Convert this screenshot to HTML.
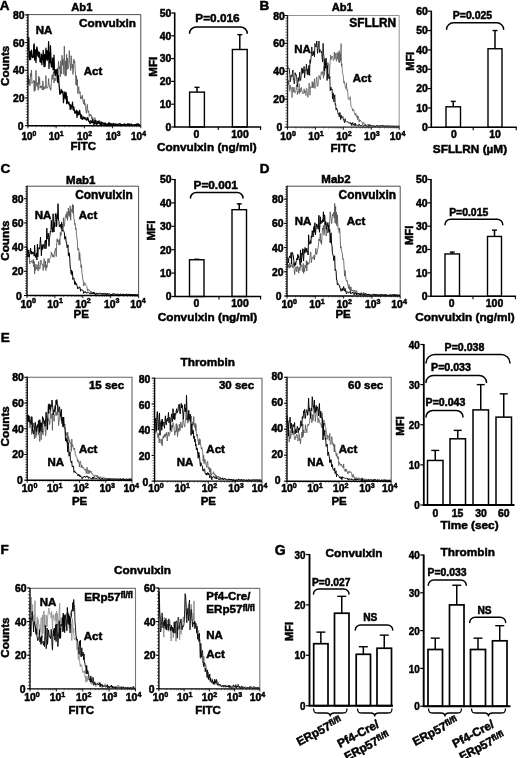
<!DOCTYPE html>
<html><head><meta charset="utf-8"><title>Figure</title>
<style>
html,body{margin:0;padding:0;background:#fff;}
body{width:520px;height:758px;overflow:hidden;font-family:"Liberation Sans",sans-serif;}
svg{display:block;filter:blur(0.35px);}
svg text{font-family:"Liberation Sans",sans-serif;font-weight:bold;fill:#000;stroke:#000;stroke-width:0.5px;}
</style></head><body>
<svg width="520" height="758" viewBox="0 0 520 758">
<rect width="520" height="758" fill="#fff"/>
<text x="-0.20" y="9.80" font-size="13.5" text-anchor="start" >A</text>
<text x="81.80" y="11.00" font-size="11.2" text-anchor="middle" >Ab1</text>
<path d="M27.9,14.6H140.8V125.7" fill="none" stroke="#3a3a3a" stroke-width="0.9"/>
<polyline points="27.9,82.8 28.3,75.7 28.8,84.4 29.2,79.0 29.7,84.9 30.1,85.8 30.6,73.4 31.0,76.6 31.5,70.0 31.9,83.5 32.4,82.2 32.9,82.2 33.3,81.9 33.8,80.3 34.2,91.5 34.6,80.8 35.1,90.6 35.5,84.4 36.0,70.3 36.5,85.1 36.9,86.4 37.4,82.6 37.8,85.2 38.2,90.2 38.7,76.1 39.1,84.1 39.6,77.7 40.0,88.2 40.5,86.2 41.0,87.6 41.4,85.9 41.9,87.8 42.3,90.0 42.8,80.9 43.2,84.9 43.6,90.0 44.1,86.4 44.5,88.5 45.0,88.7 45.5,88.3 45.9,75.6 46.3,84.4 46.8,88.4 47.2,87.5 47.7,87.7 48.1,86.4 48.6,78.5 49.0,84.0 49.5,84.7 50.0,88.7 50.4,87.7 50.8,90.3 51.3,83.4 51.8,77.9 52.2,74.7 52.6,79.3 53.1,74.5 53.5,71.7 54.0,83.0 54.5,78.4 54.9,77.9 55.3,79.1 55.8,80.9 56.2,77.5 56.7,73.0 57.1,74.3 57.6,68.1 58.0,75.7 58.5,61.2 59.0,66.6 59.4,69.1 59.8,66.1 60.3,76.8 60.8,60.6 61.2,70.7 61.6,74.0 62.1,55.3 62.5,65.3 63.0,58.7 63.5,64.9 63.9,74.3 64.3,46.2 64.8,65.8 65.2,76.2 65.7,60.9 66.2,75.6 66.6,54.3 67.0,69.7 67.5,58.0 68.0,67.9 68.4,68.7 68.8,65.5 69.3,50.6 69.8,63.0 70.2,63.6 70.7,70.6 71.1,55.7 71.5,59.4 72.0,68.4 72.5,64.4 72.9,74.4 73.3,71.1 73.8,59.0 74.2,63.2 74.7,61.1 75.2,69.5 75.6,77.8 76.0,85.0 76.5,75.7 77.0,85.8 77.4,79.6 77.8,93.7 78.3,87.5 78.8,86.7 79.2,92.8 79.7,93.5 80.1,91.7 80.5,98.6 81.0,96.5 81.5,99.1 81.9,98.5 82.3,95.1 82.8,99.9 83.2,102.2 83.7,104.1 84.2,99.2 84.6,105.0 85.0,103.3 85.5,107.0 86.0,111.4 86.4,113.3 86.8,109.2 87.3,104.4 87.8,110.8 88.2,112.4 88.7,110.8 89.1,116.2 89.5,116.5 90.0,114.1 90.5,116.0 90.9,114.7 91.3,115.4 91.8,119.1 92.2,116.7 92.7,117.2 93.2,120.1 93.6,120.4 94.1,122.6 94.5,119.6 94.9,117.6 95.4,122.9 95.8,121.3 96.3,120.2 96.8,122.0 97.2,123.2 97.7,122.0 98.1,121.4 98.6,122.1 99.0,122.9 99.4,120.4 99.9,123.9 100.3,122.6 100.8,121.4 101.2,123.1 101.7,122.7 102.2,121.9 102.6,123.9 103.1,124.1 103.5,123.8 103.9,123.0 104.4,123.4 104.8,122.4 105.3,124.3 105.8,124.1 106.2,124.0 106.7,124.0 107.1,125.0 107.6,123.2 108.0,124.1 108.4,124.3 108.9,122.6 109.3,124.5 109.8,123.6 110.2,123.7 110.7,124.7 111.2,124.1 111.6,124.0 112.1,124.4 112.5,124.2 112.9,123.9 113.4,124.9 113.8,123.8 114.3,123.9 114.8,124.0 115.2,125.1 115.7,124.6 116.1,124.9 116.6,124.6 117.0,125.0 117.4,125.1 117.9,124.5 118.3,125.0 118.8,124.4 119.2,125.0 119.7,124.4 120.2,123.0 120.6,124.7 121.1,124.0 121.5,124.5 121.9,125.2 122.4,124.9 122.8,124.5 123.3,124.1 123.8,124.3 124.2,124.4 124.7,124.9 125.1,125.0 125.6,124.2 126.0,124.6 126.4,124.6 126.9,124.5 127.3,123.7 127.8,124.8 128.2,124.3 128.7,124.9 129.2,125.3 129.6,124.7 130.1,124.1 130.5,124.7 130.9,125.4 131.4,124.6 131.8,124.0 132.3,124.2 132.8,125.3 133.2,125.1 133.7,125.1 134.1,124.0 134.6,124.9 135.0,124.8 135.4,125.4 135.9,124.1 136.3,125.4 136.8,124.8 137.2,125.3 137.7,124.7 138.2,125.2 138.6,124.3 139.1,124.2 139.5,125.1 139.9,125.3 140.4,125.1" fill="none" stroke="#4e4e4e" stroke-width="0.8" stroke-linejoin="round"/>
<polyline points="27.9,50.3 28.3,42.0 28.8,37.4 29.2,57.1 29.7,59.7 30.1,51.6 30.6,59.5 31.0,52.3 31.5,50.1 31.9,55.5 32.4,57.6 32.9,56.9 33.3,57.1 33.8,45.0 34.2,43.8 34.6,60.1 35.1,51.5 35.5,49.9 36.0,62.6 36.5,50.2 36.9,46.9 37.4,50.0 37.8,55.9 38.2,51.5 38.7,57.2 39.1,53.2 39.6,52.4 40.0,61.7 40.5,58.6 41.0,62.5 41.4,54.1 41.9,64.8 42.3,55.9 42.8,59.5 43.2,50.4 43.6,61.5 44.1,66.7 44.5,54.4 45.0,66.4 45.5,59.6 45.9,48.1 46.3,58.9 46.8,50.7 47.2,60.5 47.7,50.9 48.1,59.0 48.6,41.7 49.0,68.5 49.5,52.6 50.0,62.7 50.4,45.6 50.8,53.5 51.3,66.5 51.8,67.1 52.2,66.7 52.6,58.1 53.1,69.8 53.5,67.5 54.0,55.1 54.5,72.1 54.9,73.7 55.3,75.7 55.8,69.7 56.2,73.6 56.7,73.3 57.1,69.3 57.6,82.3 58.0,78.9 58.5,75.5 59.0,83.8 59.4,88.3 59.8,94.2 60.3,93.8 60.8,92.5 61.2,89.3 61.6,91.1 62.1,92.9 62.5,91.2 63.0,91.8 63.5,102.7 63.9,95.2 64.3,95.0 64.8,91.9 65.2,98.7 65.7,98.3 66.2,92.7 66.6,103.6 67.0,96.4 67.5,102.9 68.0,102.7 68.4,103.9 68.8,101.8 69.3,104.6 69.8,104.4 70.2,109.4 70.7,104.9 71.1,108.9 71.5,105.9 72.0,106.7 72.5,102.2 72.9,108.2 73.3,110.0 73.8,106.8 74.2,109.6 74.7,112.4 75.2,113.4 75.6,111.9 76.0,111.2 76.5,110.2 77.0,117.5 77.4,111.5 77.8,111.2 78.3,114.8 78.8,114.5 79.2,113.0 79.7,110.4 80.1,113.3 80.5,116.4 81.0,118.5 81.5,114.8 81.9,116.1 82.3,119.4 82.8,119.1 83.2,118.0 83.7,116.9 84.2,118.7 84.6,117.6 85.0,119.2 85.5,118.6 86.0,117.8 86.4,120.1 86.8,120.0 87.3,119.9 87.8,117.5 88.2,119.1 88.7,121.1 89.1,121.8 89.5,121.5 90.0,123.5 90.5,123.0 90.9,120.4 91.3,122.3 91.8,121.6 92.2,122.8 92.7,119.4 93.2,121.8 93.6,123.1 94.1,124.7 94.5,123.1 94.9,121.0 95.4,120.5 95.8,123.6 96.3,123.9 96.8,124.5 97.2,121.5 97.7,121.9 98.1,123.5 98.6,121.2 99.0,123.2 99.4,122.6 99.9,123.1 100.3,125.2 100.8,123.1 101.2,122.0 101.7,124.7 102.2,123.7 102.6,123.0 103.1,123.6 103.5,123.1 103.9,124.7 104.4,125.4 104.8,123.6 105.3,123.2 105.8,125.4 106.2,124.0 106.7,125.4 107.1,124.7 107.6,124.7 108.0,124.0 108.4,124.4 108.9,122.6 109.3,124.7 109.8,123.3 110.2,125.0 110.7,123.6 111.2,124.2 111.6,123.8 112.1,124.6 112.5,125.3 112.9,124.8 113.4,123.3 113.8,124.6 114.3,125.0 114.8,124.3 115.2,124.0 115.7,124.5 116.1,123.9 116.6,125.3 117.0,125.0 117.4,124.4 117.9,124.7 118.3,124.3 118.8,123.9 119.2,123.7 119.7,124.0 120.2,124.0 120.6,125.0 121.1,124.5 121.5,124.6 121.9,124.7 122.4,124.7 122.8,124.6 123.3,124.7 123.8,125.4 124.2,124.7 124.7,123.9 125.1,124.0 125.6,125.4 126.0,125.1 126.4,125.2 126.9,124.5 127.3,124.6 127.8,123.8 128.2,125.1 128.7,123.8 129.2,123.9 129.6,125.0 130.1,125.2 130.5,124.8 130.9,124.0 131.4,124.0 131.8,125.4 132.3,125.4 132.8,125.4 133.2,124.9 133.7,125.3 134.1,125.1 134.6,125.4 135.0,124.8 135.4,124.6 135.9,125.2 136.3,124.0 136.8,125.4 137.2,124.2 137.7,125.1 138.2,123.7 138.6,125.2 139.1,124.8 139.5,124.9 139.9,125.4 140.4,125.4" fill="none" stroke="#000" stroke-width="1.25" stroke-linejoin="round"/>
<path d="M27.9,14.1V125.7H140.8" fill="none" stroke="#000" stroke-width="1.35"/>
<line x1="24.9" x2="27.9" y1="125.70" y2="125.70" stroke="#000" stroke-width="1"/>
<text x="23.50" y="129.70" font-size="10.4" text-anchor="end" >0</text>
<line x1="24.9" x2="27.9" y1="98.00" y2="98.00" stroke="#000" stroke-width="1"/>
<text x="24.50" y="102.00" font-size="10.4" text-anchor="end" >20</text>
<line x1="24.9" x2="27.9" y1="70.30" y2="70.30" stroke="#000" stroke-width="1"/>
<text x="24.50" y="74.30" font-size="10.4" text-anchor="end" >40</text>
<line x1="24.9" x2="27.9" y1="42.60" y2="42.60" stroke="#000" stroke-width="1"/>
<text x="24.50" y="46.60" font-size="10.4" text-anchor="end" >60</text>
<line x1="24.9" x2="27.9" y1="14.90" y2="14.90" stroke="#000" stroke-width="1"/>
<text x="24.50" y="18.90" font-size="10.4" text-anchor="end" >80</text>
<line x1="25.9" x2="27.9" y1="125.70" y2="125.70" stroke="#000" stroke-width="0.6"/>
<line x1="25.9" x2="27.9" y1="122.93" y2="122.93" stroke="#000" stroke-width="0.6"/>
<line x1="25.9" x2="27.9" y1="120.16" y2="120.16" stroke="#000" stroke-width="0.6"/>
<line x1="25.9" x2="27.9" y1="117.39" y2="117.39" stroke="#000" stroke-width="0.6"/>
<line x1="25.9" x2="27.9" y1="114.62" y2="114.62" stroke="#000" stroke-width="0.6"/>
<line x1="25.9" x2="27.9" y1="111.85" y2="111.85" stroke="#000" stroke-width="0.6"/>
<line x1="25.9" x2="27.9" y1="109.08" y2="109.08" stroke="#000" stroke-width="0.6"/>
<line x1="25.9" x2="27.9" y1="106.31" y2="106.31" stroke="#000" stroke-width="0.6"/>
<line x1="25.9" x2="27.9" y1="103.54" y2="103.54" stroke="#000" stroke-width="0.6"/>
<line x1="25.9" x2="27.9" y1="100.77" y2="100.77" stroke="#000" stroke-width="0.6"/>
<line x1="25.9" x2="27.9" y1="98.00" y2="98.00" stroke="#000" stroke-width="0.6"/>
<line x1="25.9" x2="27.9" y1="95.23" y2="95.23" stroke="#000" stroke-width="0.6"/>
<line x1="25.9" x2="27.9" y1="92.46" y2="92.46" stroke="#000" stroke-width="0.6"/>
<line x1="25.9" x2="27.9" y1="89.69" y2="89.69" stroke="#000" stroke-width="0.6"/>
<line x1="25.9" x2="27.9" y1="86.92" y2="86.92" stroke="#000" stroke-width="0.6"/>
<line x1="25.9" x2="27.9" y1="84.15" y2="84.15" stroke="#000" stroke-width="0.6"/>
<line x1="25.9" x2="27.9" y1="81.38" y2="81.38" stroke="#000" stroke-width="0.6"/>
<line x1="25.9" x2="27.9" y1="78.61" y2="78.61" stroke="#000" stroke-width="0.6"/>
<line x1="25.9" x2="27.9" y1="75.84" y2="75.84" stroke="#000" stroke-width="0.6"/>
<line x1="25.9" x2="27.9" y1="73.07" y2="73.07" stroke="#000" stroke-width="0.6"/>
<line x1="25.9" x2="27.9" y1="70.30" y2="70.30" stroke="#000" stroke-width="0.6"/>
<line x1="25.9" x2="27.9" y1="67.53" y2="67.53" stroke="#000" stroke-width="0.6"/>
<line x1="25.9" x2="27.9" y1="64.76" y2="64.76" stroke="#000" stroke-width="0.6"/>
<line x1="25.9" x2="27.9" y1="61.99" y2="61.99" stroke="#000" stroke-width="0.6"/>
<line x1="25.9" x2="27.9" y1="59.22" y2="59.22" stroke="#000" stroke-width="0.6"/>
<line x1="25.9" x2="27.9" y1="56.45" y2="56.45" stroke="#000" stroke-width="0.6"/>
<line x1="25.9" x2="27.9" y1="53.68" y2="53.68" stroke="#000" stroke-width="0.6"/>
<line x1="25.9" x2="27.9" y1="50.91" y2="50.91" stroke="#000" stroke-width="0.6"/>
<line x1="25.9" x2="27.9" y1="48.14" y2="48.14" stroke="#000" stroke-width="0.6"/>
<line x1="25.9" x2="27.9" y1="45.37" y2="45.37" stroke="#000" stroke-width="0.6"/>
<line x1="25.9" x2="27.9" y1="42.60" y2="42.60" stroke="#000" stroke-width="0.6"/>
<line x1="25.9" x2="27.9" y1="39.83" y2="39.83" stroke="#000" stroke-width="0.6"/>
<line x1="25.9" x2="27.9" y1="37.06" y2="37.06" stroke="#000" stroke-width="0.6"/>
<line x1="25.9" x2="27.9" y1="34.29" y2="34.29" stroke="#000" stroke-width="0.6"/>
<line x1="25.9" x2="27.9" y1="31.52" y2="31.52" stroke="#000" stroke-width="0.6"/>
<line x1="25.9" x2="27.9" y1="28.75" y2="28.75" stroke="#000" stroke-width="0.6"/>
<line x1="25.9" x2="27.9" y1="25.98" y2="25.98" stroke="#000" stroke-width="0.6"/>
<line x1="25.9" x2="27.9" y1="23.21" y2="23.21" stroke="#000" stroke-width="0.6"/>
<line x1="25.9" x2="27.9" y1="20.44" y2="20.44" stroke="#000" stroke-width="0.6"/>
<line x1="25.9" x2="27.9" y1="17.67" y2="17.67" stroke="#000" stroke-width="0.6"/>
<line x1="25.9" x2="27.9" y1="14.90" y2="14.90" stroke="#000" stroke-width="0.6"/>
<line x1="27.90" x2="27.90" y1="125.7" y2="128.3" stroke="#000" stroke-width="0.9"/>
<text x="28.90" y="139.80" font-size="10" text-anchor="middle">10<tspan dy="-4.0" font-size="6.8">0</tspan></text>
<line x1="36.40" x2="36.40" y1="125.7" y2="127.2" stroke="#000" stroke-width="0.45"/>
<line x1="41.37" x2="41.37" y1="125.7" y2="127.2" stroke="#000" stroke-width="0.45"/>
<line x1="44.89" x2="44.89" y1="125.7" y2="127.2" stroke="#000" stroke-width="0.45"/>
<line x1="47.63" x2="47.63" y1="125.7" y2="127.2" stroke="#000" stroke-width="0.45"/>
<line x1="49.86" x2="49.86" y1="125.7" y2="127.2" stroke="#000" stroke-width="0.45"/>
<line x1="51.75" x2="51.75" y1="125.7" y2="127.2" stroke="#000" stroke-width="0.45"/>
<line x1="53.39" x2="53.39" y1="125.7" y2="127.2" stroke="#000" stroke-width="0.45"/>
<line x1="54.83" x2="54.83" y1="125.7" y2="127.2" stroke="#000" stroke-width="0.45"/>
<line x1="56.12" x2="56.12" y1="125.7" y2="128.3" stroke="#000" stroke-width="0.9"/>
<text x="56.12" y="139.80" font-size="10" text-anchor="middle">10<tspan dy="-4.0" font-size="6.8">1</tspan></text>
<line x1="64.62" x2="64.62" y1="125.7" y2="127.2" stroke="#000" stroke-width="0.45"/>
<line x1="69.59" x2="69.59" y1="125.7" y2="127.2" stroke="#000" stroke-width="0.45"/>
<line x1="73.12" x2="73.12" y1="125.7" y2="127.2" stroke="#000" stroke-width="0.45"/>
<line x1="75.85" x2="75.85" y1="125.7" y2="127.2" stroke="#000" stroke-width="0.45"/>
<line x1="78.09" x2="78.09" y1="125.7" y2="127.2" stroke="#000" stroke-width="0.45"/>
<line x1="79.98" x2="79.98" y1="125.7" y2="127.2" stroke="#000" stroke-width="0.45"/>
<line x1="81.61" x2="81.61" y1="125.7" y2="127.2" stroke="#000" stroke-width="0.45"/>
<line x1="83.06" x2="83.06" y1="125.7" y2="127.2" stroke="#000" stroke-width="0.45"/>
<line x1="84.35" x2="84.35" y1="125.7" y2="128.3" stroke="#000" stroke-width="0.9"/>
<text x="84.55" y="139.80" font-size="10" text-anchor="middle">10<tspan dy="-4.0" font-size="6.8">2</tspan></text>
<line x1="92.85" x2="92.85" y1="125.7" y2="127.2" stroke="#000" stroke-width="0.45"/>
<line x1="97.82" x2="97.82" y1="125.7" y2="127.2" stroke="#000" stroke-width="0.45"/>
<line x1="101.34" x2="101.34" y1="125.7" y2="127.2" stroke="#000" stroke-width="0.45"/>
<line x1="104.08" x2="104.08" y1="125.7" y2="127.2" stroke="#000" stroke-width="0.45"/>
<line x1="106.31" x2="106.31" y1="125.7" y2="127.2" stroke="#000" stroke-width="0.45"/>
<line x1="108.20" x2="108.20" y1="125.7" y2="127.2" stroke="#000" stroke-width="0.45"/>
<line x1="109.84" x2="109.84" y1="125.7" y2="127.2" stroke="#000" stroke-width="0.45"/>
<line x1="111.28" x2="111.28" y1="125.7" y2="127.2" stroke="#000" stroke-width="0.45"/>
<line x1="112.58" x2="112.58" y1="125.7" y2="128.3" stroke="#000" stroke-width="0.9"/>
<text x="113.18" y="139.80" font-size="10" text-anchor="middle">10<tspan dy="-4.0" font-size="6.8">3</tspan></text>
<line x1="121.07" x2="121.07" y1="125.7" y2="127.2" stroke="#000" stroke-width="0.45"/>
<line x1="126.04" x2="126.04" y1="125.7" y2="127.2" stroke="#000" stroke-width="0.45"/>
<line x1="129.57" x2="129.57" y1="125.7" y2="127.2" stroke="#000" stroke-width="0.45"/>
<line x1="132.30" x2="132.30" y1="125.7" y2="127.2" stroke="#000" stroke-width="0.45"/>
<line x1="134.54" x2="134.54" y1="125.7" y2="127.2" stroke="#000" stroke-width="0.45"/>
<line x1="136.43" x2="136.43" y1="125.7" y2="127.2" stroke="#000" stroke-width="0.45"/>
<line x1="138.06" x2="138.06" y1="125.7" y2="127.2" stroke="#000" stroke-width="0.45"/>
<line x1="139.51" x2="139.51" y1="125.7" y2="127.2" stroke="#000" stroke-width="0.45"/>
<line x1="140.80" x2="140.80" y1="125.7" y2="128.3" stroke="#000" stroke-width="0.9"/>
<text x="138.50" y="139.80" font-size="10" text-anchor="middle">10<tspan dy="-4.0" font-size="6.8">4</tspan></text>
<text x="83.35" y="150.30" font-size="11.5" text-anchor="middle" >FITC</text>
<text transform="translate(8.60,65.80) rotate(-90)" font-size="11.7" text-anchor="middle">Counts</text>
<text x="107.50" y="27.00" font-size="11.8" text-anchor="middle" >Convulxin</text>
<text x="44.00" y="34.30" font-size="11.5" text-anchor="middle" >NA</text>
<text x="93.00" y="74.50" font-size="11.5" text-anchor="middle" >Act</text>
<line x1="197.00" x2="197.00" y1="92.12" y2="87.33" stroke="#000" stroke-width="1.5"/>
<line x1="194.50" x2="199.50" y1="87.33" y2="87.33" stroke="#000" stroke-width="1.4"/>
<rect x="189.60" y="92.12" width="14.80" height="34.88" fill="#fff" stroke="#000" stroke-width="1.4"/>
<line x1="239.80" x2="239.80" y1="49.48" y2="34.66" stroke="#000" stroke-width="1.5"/>
<line x1="237.30" x2="242.30" y1="34.66" y2="34.66" stroke="#000" stroke-width="1.4"/>
<rect x="232.40" y="49.48" width="14.80" height="77.52" fill="#fff" stroke="#000" stroke-width="1.4"/>
<path d="M174.7,12.5V127H261.2" fill="none" stroke="#000" stroke-width="1.6"/>
<line x1="171.2" x2="174.7" y1="127.00" y2="127.00" stroke="#000" stroke-width="1.2"/>
<text x="171.20" y="130.80" font-size="10.4" text-anchor="end" >0</text>
<line x1="171.2" x2="174.7" y1="104.20" y2="104.20" stroke="#000" stroke-width="1.2"/>
<text x="171.20" y="108.00" font-size="10.4" text-anchor="end" >10</text>
<line x1="171.2" x2="174.7" y1="81.40" y2="81.40" stroke="#000" stroke-width="1.2"/>
<text x="171.20" y="85.20" font-size="10.4" text-anchor="end" >20</text>
<line x1="171.2" x2="174.7" y1="58.60" y2="58.60" stroke="#000" stroke-width="1.2"/>
<text x="171.20" y="62.40" font-size="10.4" text-anchor="end" >30</text>
<line x1="171.2" x2="174.7" y1="35.80" y2="35.80" stroke="#000" stroke-width="1.2"/>
<text x="171.20" y="39.60" font-size="10.4" text-anchor="end" >40</text>
<line x1="171.2" x2="174.7" y1="13.00" y2="13.00" stroke="#000" stroke-width="1.2"/>
<text x="171.20" y="16.80" font-size="10.4" text-anchor="end" >50</text>
<line x1="218.30" x2="218.30" y1="127" y2="130" stroke="#000" stroke-width="1.1"/>
<line x1="260.60" x2="260.60" y1="127" y2="130" stroke="#000" stroke-width="1.1"/>
<text transform="translate(156.80,66.70) rotate(-90)" font-size="11.6" text-anchor="middle">MFI</text>
<path d="M189.60,33.30 C189.60,29.83 192.58,27.00 196.22,27.00 H240.58 C244.22,27.00 247.20,29.83 247.20,33.30" fill="none" stroke="#000" stroke-width="1.5" stroke-linecap="round"/>
<text x="217.50" y="22.30" font-size="11.8" text-anchor="middle" >P=0.016</text>
<text x="196.50" y="138.20" font-size="10.4" text-anchor="middle" >0</text>
<text x="240.00" y="138.20" font-size="10.4" text-anchor="middle" >100</text>
<text x="206.90" y="151.10" font-size="11.8" text-anchor="middle" >Convulxin (ng/ml)</text>
<text x="259.60" y="9.60" font-size="13.5" text-anchor="start" >B</text>
<text x="342.20" y="11.00" font-size="11.2" text-anchor="middle" >Ab1</text>
<path d="M287.5,15.5H399.2V127.1" fill="none" stroke="#888" stroke-width="0.9"/>
<polyline points="287.5,82.0 287.9,80.5 288.4,84.7 288.9,80.3 289.3,90.0 289.8,91.3 290.2,85.0 290.6,88.9 291.1,87.2 291.6,90.9 292.0,97.7 292.4,92.6 292.9,87.0 293.4,92.1 293.8,89.2 294.2,87.3 294.7,92.5 295.1,93.1 295.6,90.7 296.1,90.3 296.5,84.9 296.9,86.4 297.4,94.7 297.9,91.3 298.3,92.9 298.8,88.8 299.2,83.7 299.6,93.8 300.1,88.4 300.6,92.0 301.0,90.8 301.4,87.3 301.9,91.6 302.4,91.5 302.8,94.0 303.2,93.2 303.7,93.1 304.1,88.8 304.6,93.1 305.1,90.7 305.5,91.0 305.9,95.5 306.4,88.2 306.9,88.5 307.3,92.6 307.8,97.4 308.2,94.9 308.6,90.5 309.1,83.0 309.6,87.7 310.0,95.3 310.4,86.5 310.9,87.8 311.4,87.7 311.8,86.7 312.2,81.5 312.7,87.9 313.1,82.4 313.6,87.6 314.1,84.4 314.5,78.7 314.9,88.6 315.4,87.4 315.9,86.0 316.3,79.1 316.8,77.0 317.2,81.9 317.6,86.4 318.1,84.2 318.6,80.5 319.0,75.4 319.4,77.7 319.9,76.9 320.4,79.8 320.8,76.1 321.2,72.5 321.7,71.7 322.1,74.4 322.6,71.6 323.1,74.9 323.5,78.3 323.9,66.7 324.4,75.3 324.9,70.1 325.3,66.4 325.8,62.3 326.2,68.5 326.6,65.9 327.1,63.1 327.6,67.9 328.0,62.6 328.4,64.6 328.9,64.3 329.4,75.1 329.8,67.7 330.2,61.6 330.7,55.1 331.1,59.6 331.6,56.5 332.1,56.0 332.5,56.5 332.9,58.7 333.4,60.6 333.9,59.9 334.3,52.0 334.8,58.8 335.2,53.2 335.6,55.4 336.1,59.9 336.6,61.3 337.0,52.8 337.4,59.3 337.9,52.3 338.4,52.7 338.8,62.2 339.2,50.7 339.7,63.0 340.1,53.2 340.6,61.2 341.1,43.6 341.5,66.2 341.9,63.7 342.4,72.2 342.9,73.9 343.3,76.5 343.8,82.9 344.2,81.0 344.6,84.7 345.1,85.3 345.6,88.6 346.0,88.0 346.4,82.8 346.9,90.2 347.4,89.3 347.8,92.1 348.2,98.7 348.7,99.7 349.1,99.1 349.6,99.3 350.1,96.7 350.5,98.8 350.9,106.3 351.4,106.7 351.9,107.8 352.3,108.7 352.8,111.1 353.2,109.1 353.6,110.1 354.1,111.1 354.6,113.7 355.0,114.9 355.4,115.3 355.9,113.1 356.4,116.5 356.8,117.4 357.2,115.5 357.7,119.7 358.1,116.0 358.6,118.1 359.1,122.1 359.5,119.6 359.9,121.2 360.4,120.1 360.9,121.0 361.3,121.7 361.8,122.1 362.2,122.1 362.6,124.8 363.1,123.6 363.6,122.1 364.0,122.6 364.4,124.5 364.9,125.4 365.4,123.9 365.8,124.8 366.2,125.5 366.7,124.8 367.1,125.1 367.6,124.7 368.1,124.0 368.5,125.6 368.9,124.4 369.4,125.7 369.9,126.5 370.3,124.5 370.8,125.0 371.2,125.6 371.6,125.7 372.1,126.5 372.6,126.8 373.0,126.0 373.4,126.6 373.9,126.0 374.4,125.9 374.8,125.6 375.2,126.7 375.7,126.0 376.1,125.2 376.6,125.7 377.1,126.0 377.5,126.1 377.9,126.8 378.4,126.0 378.9,125.8 379.3,125.3 379.8,125.8 380.2,126.6 380.6,126.3 381.1,125.5 381.6,126.0 382.0,125.9 382.4,125.7 382.9,126.7 383.4,125.9 383.8,126.3 384.2,126.5 384.7,125.8 385.1,125.6 385.6,126.1 386.1,126.0 386.5,126.5 386.9,126.0 387.4,126.6 387.9,126.4 388.3,126.3 388.8,125.8 389.2,125.8 389.6,126.2 390.1,125.7 390.6,125.9 391.0,125.9 391.4,126.4 391.9,126.0 392.4,125.8 392.8,126.0 393.2,125.5 393.7,126.3 394.1,125.9 394.6,126.3 395.1,126.6 395.5,126.2 395.9,126.2 396.4,126.6 396.9,126.0 397.3,126.6 397.8,126.6 398.2,126.2 398.6,126.8 399.1,125.5" fill="none" stroke="#4e4e4e" stroke-width="0.7" stroke-linejoin="round"/>
<polyline points="287.5,64.3 287.9,68.6 288.4,68.1 288.9,68.1 289.3,68.8 289.8,74.5 290.2,81.8 290.6,80.2 291.1,75.1 291.6,76.6 292.0,76.8 292.4,73.7 292.9,70.0 293.4,80.1 293.8,79.7 294.2,83.8 294.7,81.6 295.1,72.7 295.6,75.1 296.1,74.5 296.5,76.2 296.9,80.0 297.4,86.8 297.9,81.7 298.3,77.6 298.8,81.4 299.2,80.3 299.6,72.3 300.1,79.2 300.6,80.5 301.0,77.8 301.4,70.3 301.9,67.9 302.4,73.7 302.8,68.9 303.2,72.5 303.7,72.5 304.1,66.4 304.6,77.9 305.1,71.4 305.5,69.9 305.9,70.5 306.4,64.2 306.9,71.0 307.3,74.4 307.8,68.9 308.2,75.1 308.6,66.1 309.1,65.2 309.6,75.4 310.0,59.8 310.4,63.3 310.9,59.0 311.4,54.4 311.8,46.9 312.2,54.8 312.7,56.0 313.1,51.7 313.6,54.8 314.1,50.8 314.5,56.9 314.9,43.4 315.4,44.4 315.9,47.1 316.3,45.4 316.8,41.0 317.2,48.5 317.6,53.4 318.1,47.5 318.6,45.2 319.0,41.1 319.4,52.5 319.9,49.4 320.4,50.5 320.8,50.8 321.2,52.7 321.7,51.3 322.1,58.1 322.6,61.9 323.1,43.3 323.5,53.6 323.9,56.3 324.4,71.0 324.9,58.7 325.3,68.2 325.8,59.6 326.2,58.1 326.6,61.8 327.1,80.5 327.6,65.7 328.0,78.5 328.4,74.3 328.9,74.8 329.4,78.8 329.8,76.4 330.2,90.6 330.7,88.0 331.1,87.2 331.6,90.1 332.1,89.1 332.5,99.0 332.9,93.1 333.4,93.1 333.9,101.8 334.3,97.7 334.8,94.8 335.2,104.5 335.6,103.7 336.1,110.1 336.6,108.2 337.0,109.2 337.4,109.8 337.9,112.8 338.4,114.2 338.8,113.1 339.2,116.8 339.7,112.6 340.1,112.5 340.6,119.5 341.1,115.0 341.5,118.1 341.9,118.0 342.4,117.3 342.9,116.5 343.3,119.9 343.8,119.5 344.2,121.8 344.6,122.7 345.1,118.7 345.6,121.2 346.0,121.4 346.4,121.9 346.9,122.0 347.4,121.5 347.8,121.9 348.2,123.0 348.7,122.7 349.1,122.9 349.6,123.2 350.1,122.5 350.5,123.9 350.9,122.8 351.4,125.5 351.9,123.0 352.3,124.3 352.8,122.5 353.2,125.5 353.6,124.6 354.1,124.4 354.6,123.6 355.0,126.1 355.4,123.3 355.9,125.2 356.4,124.7 356.8,125.5 357.2,125.5 357.7,125.6 358.1,126.2 358.6,126.0 359.1,123.9 359.5,125.2 359.9,125.0 360.4,125.9 360.9,126.1 361.3,125.3 361.8,126.1 362.2,125.7 362.6,125.9 363.1,126.4 363.6,125.6 364.0,125.9 364.4,125.4 364.9,126.3 365.4,126.0 365.8,125.3 366.2,125.6 366.7,126.3 367.1,126.1 367.6,125.9 368.1,126.8 368.5,125.9 368.9,125.1 369.4,124.8 369.9,126.0 370.3,125.7 370.8,126.2 371.2,125.6 371.6,125.7 372.1,125.5 372.6,125.7 373.0,126.3 373.4,125.8 373.9,125.8 374.4,125.8 374.8,126.8 375.2,126.3 375.7,126.6 376.1,126.2 376.6,125.9 377.1,125.0 377.5,125.5 377.9,125.9 378.4,126.0 378.9,126.8 379.3,126.1 379.8,125.7 380.2,125.6 380.6,125.7 381.1,125.7 381.6,126.3 382.0,125.6 382.4,126.0 382.9,125.1 383.4,126.0 383.8,126.4 384.2,126.1 384.7,125.7 385.1,126.1 385.6,126.4 386.1,126.8 386.5,125.5 386.9,125.9 387.4,125.8 387.9,126.1 388.3,126.0 388.8,125.8 389.2,125.7 389.6,126.7 390.1,126.6 390.6,126.1 391.0,126.4 391.4,126.2 391.9,126.1 392.4,126.0 392.8,126.6 393.2,126.3 393.7,126.7 394.1,126.5 394.6,126.3 395.1,126.2 395.5,126.3 395.9,126.1 396.4,126.0 396.9,126.1 397.3,126.4 397.8,126.0 398.2,126.4 398.6,125.7 399.1,126.4" fill="none" stroke="#000" stroke-width="0.85" stroke-linejoin="round"/>
<path d="M287.5,15.0V127.1H399.2" fill="none" stroke="#222" stroke-width="1.35"/>
<line x1="284.5" x2="287.5" y1="127.10" y2="127.10" stroke="#000" stroke-width="1"/>
<text x="282.20" y="131.10" font-size="10.4" text-anchor="end" >0</text>
<line x1="284.5" x2="287.5" y1="99.20" y2="99.20" stroke="#000" stroke-width="1"/>
<text x="284.80" y="103.20" font-size="10.4" text-anchor="end" >20</text>
<line x1="284.5" x2="287.5" y1="71.30" y2="71.30" stroke="#000" stroke-width="1"/>
<text x="284.80" y="75.30" font-size="10.4" text-anchor="end" >40</text>
<line x1="284.5" x2="287.5" y1="43.40" y2="43.40" stroke="#000" stroke-width="1"/>
<text x="284.80" y="47.40" font-size="10.4" text-anchor="end" >60</text>
<line x1="284.5" x2="287.5" y1="15.50" y2="15.50" stroke="#000" stroke-width="1"/>
<text x="284.80" y="19.50" font-size="10.4" text-anchor="end" >80</text>
<line x1="285.5" x2="287.5" y1="127.10" y2="127.10" stroke="#000" stroke-width="0.6"/>
<line x1="285.5" x2="287.5" y1="124.31" y2="124.31" stroke="#000" stroke-width="0.6"/>
<line x1="285.5" x2="287.5" y1="121.52" y2="121.52" stroke="#000" stroke-width="0.6"/>
<line x1="285.5" x2="287.5" y1="118.73" y2="118.73" stroke="#000" stroke-width="0.6"/>
<line x1="285.5" x2="287.5" y1="115.94" y2="115.94" stroke="#000" stroke-width="0.6"/>
<line x1="285.5" x2="287.5" y1="113.15" y2="113.15" stroke="#000" stroke-width="0.6"/>
<line x1="285.5" x2="287.5" y1="110.36" y2="110.36" stroke="#000" stroke-width="0.6"/>
<line x1="285.5" x2="287.5" y1="107.57" y2="107.57" stroke="#000" stroke-width="0.6"/>
<line x1="285.5" x2="287.5" y1="104.78" y2="104.78" stroke="#000" stroke-width="0.6"/>
<line x1="285.5" x2="287.5" y1="101.99" y2="101.99" stroke="#000" stroke-width="0.6"/>
<line x1="285.5" x2="287.5" y1="99.20" y2="99.20" stroke="#000" stroke-width="0.6"/>
<line x1="285.5" x2="287.5" y1="96.41" y2="96.41" stroke="#000" stroke-width="0.6"/>
<line x1="285.5" x2="287.5" y1="93.62" y2="93.62" stroke="#000" stroke-width="0.6"/>
<line x1="285.5" x2="287.5" y1="90.83" y2="90.83" stroke="#000" stroke-width="0.6"/>
<line x1="285.5" x2="287.5" y1="88.04" y2="88.04" stroke="#000" stroke-width="0.6"/>
<line x1="285.5" x2="287.5" y1="85.25" y2="85.25" stroke="#000" stroke-width="0.6"/>
<line x1="285.5" x2="287.5" y1="82.46" y2="82.46" stroke="#000" stroke-width="0.6"/>
<line x1="285.5" x2="287.5" y1="79.67" y2="79.67" stroke="#000" stroke-width="0.6"/>
<line x1="285.5" x2="287.5" y1="76.88" y2="76.88" stroke="#000" stroke-width="0.6"/>
<line x1="285.5" x2="287.5" y1="74.09" y2="74.09" stroke="#000" stroke-width="0.6"/>
<line x1="285.5" x2="287.5" y1="71.30" y2="71.30" stroke="#000" stroke-width="0.6"/>
<line x1="285.5" x2="287.5" y1="68.51" y2="68.51" stroke="#000" stroke-width="0.6"/>
<line x1="285.5" x2="287.5" y1="65.72" y2="65.72" stroke="#000" stroke-width="0.6"/>
<line x1="285.5" x2="287.5" y1="62.93" y2="62.93" stroke="#000" stroke-width="0.6"/>
<line x1="285.5" x2="287.5" y1="60.14" y2="60.14" stroke="#000" stroke-width="0.6"/>
<line x1="285.5" x2="287.5" y1="57.35" y2="57.35" stroke="#000" stroke-width="0.6"/>
<line x1="285.5" x2="287.5" y1="54.56" y2="54.56" stroke="#000" stroke-width="0.6"/>
<line x1="285.5" x2="287.5" y1="51.77" y2="51.77" stroke="#000" stroke-width="0.6"/>
<line x1="285.5" x2="287.5" y1="48.98" y2="48.98" stroke="#000" stroke-width="0.6"/>
<line x1="285.5" x2="287.5" y1="46.19" y2="46.19" stroke="#000" stroke-width="0.6"/>
<line x1="285.5" x2="287.5" y1="43.40" y2="43.40" stroke="#000" stroke-width="0.6"/>
<line x1="285.5" x2="287.5" y1="40.61" y2="40.61" stroke="#000" stroke-width="0.6"/>
<line x1="285.5" x2="287.5" y1="37.82" y2="37.82" stroke="#000" stroke-width="0.6"/>
<line x1="285.5" x2="287.5" y1="35.03" y2="35.03" stroke="#000" stroke-width="0.6"/>
<line x1="285.5" x2="287.5" y1="32.24" y2="32.24" stroke="#000" stroke-width="0.6"/>
<line x1="285.5" x2="287.5" y1="29.45" y2="29.45" stroke="#000" stroke-width="0.6"/>
<line x1="285.5" x2="287.5" y1="26.66" y2="26.66" stroke="#000" stroke-width="0.6"/>
<line x1="285.5" x2="287.5" y1="23.87" y2="23.87" stroke="#000" stroke-width="0.6"/>
<line x1="285.5" x2="287.5" y1="21.08" y2="21.08" stroke="#000" stroke-width="0.6"/>
<line x1="285.5" x2="287.5" y1="18.29" y2="18.29" stroke="#000" stroke-width="0.6"/>
<line x1="285.5" x2="287.5" y1="15.50" y2="15.50" stroke="#000" stroke-width="0.6"/>
<line x1="287.50" x2="287.50" y1="127.1" y2="129.7" stroke="#000" stroke-width="0.9"/>
<text x="288.10" y="140.00" font-size="10.4" text-anchor="middle">10<tspan dy="-4.2" font-size="7.1">0</tspan></text>
<line x1="295.91" x2="295.91" y1="127.1" y2="128.6" stroke="#000" stroke-width="0.45"/>
<line x1="300.82" x2="300.82" y1="127.1" y2="128.6" stroke="#000" stroke-width="0.45"/>
<line x1="304.31" x2="304.31" y1="127.1" y2="128.6" stroke="#000" stroke-width="0.45"/>
<line x1="307.02" x2="307.02" y1="127.1" y2="128.6" stroke="#000" stroke-width="0.45"/>
<line x1="309.23" x2="309.23" y1="127.1" y2="128.6" stroke="#000" stroke-width="0.45"/>
<line x1="311.10" x2="311.10" y1="127.1" y2="128.6" stroke="#000" stroke-width="0.45"/>
<line x1="312.72" x2="312.72" y1="127.1" y2="128.6" stroke="#000" stroke-width="0.45"/>
<line x1="314.15" x2="314.15" y1="127.1" y2="128.6" stroke="#000" stroke-width="0.45"/>
<line x1="315.43" x2="315.43" y1="127.1" y2="129.7" stroke="#000" stroke-width="0.9"/>
<text x="316.03" y="140.00" font-size="10.4" text-anchor="middle">10<tspan dy="-4.2" font-size="7.1">1</tspan></text>
<line x1="323.83" x2="323.83" y1="127.1" y2="128.6" stroke="#000" stroke-width="0.45"/>
<line x1="328.75" x2="328.75" y1="127.1" y2="128.6" stroke="#000" stroke-width="0.45"/>
<line x1="332.24" x2="332.24" y1="127.1" y2="128.6" stroke="#000" stroke-width="0.45"/>
<line x1="334.94" x2="334.94" y1="127.1" y2="128.6" stroke="#000" stroke-width="0.45"/>
<line x1="337.15" x2="337.15" y1="127.1" y2="128.6" stroke="#000" stroke-width="0.45"/>
<line x1="339.02" x2="339.02" y1="127.1" y2="128.6" stroke="#000" stroke-width="0.45"/>
<line x1="340.64" x2="340.64" y1="127.1" y2="128.6" stroke="#000" stroke-width="0.45"/>
<line x1="342.07" x2="342.07" y1="127.1" y2="128.6" stroke="#000" stroke-width="0.45"/>
<line x1="343.35" x2="343.35" y1="127.1" y2="129.7" stroke="#000" stroke-width="0.9"/>
<text x="343.95" y="140.00" font-size="10.4" text-anchor="middle">10<tspan dy="-4.2" font-size="7.1">2</tspan></text>
<line x1="351.76" x2="351.76" y1="127.1" y2="128.6" stroke="#000" stroke-width="0.45"/>
<line x1="356.67" x2="356.67" y1="127.1" y2="128.6" stroke="#000" stroke-width="0.45"/>
<line x1="360.16" x2="360.16" y1="127.1" y2="128.6" stroke="#000" stroke-width="0.45"/>
<line x1="362.87" x2="362.87" y1="127.1" y2="128.6" stroke="#000" stroke-width="0.45"/>
<line x1="365.08" x2="365.08" y1="127.1" y2="128.6" stroke="#000" stroke-width="0.45"/>
<line x1="366.95" x2="366.95" y1="127.1" y2="128.6" stroke="#000" stroke-width="0.45"/>
<line x1="368.57" x2="368.57" y1="127.1" y2="128.6" stroke="#000" stroke-width="0.45"/>
<line x1="370.00" x2="370.00" y1="127.1" y2="128.6" stroke="#000" stroke-width="0.45"/>
<line x1="371.27" x2="371.27" y1="127.1" y2="129.7" stroke="#000" stroke-width="0.9"/>
<text x="371.88" y="140.00" font-size="10.4" text-anchor="middle">10<tspan dy="-4.2" font-size="7.1">3</tspan></text>
<line x1="379.68" x2="379.68" y1="127.1" y2="128.6" stroke="#000" stroke-width="0.45"/>
<line x1="384.60" x2="384.60" y1="127.1" y2="128.6" stroke="#000" stroke-width="0.45"/>
<line x1="388.09" x2="388.09" y1="127.1" y2="128.6" stroke="#000" stroke-width="0.45"/>
<line x1="390.79" x2="390.79" y1="127.1" y2="128.6" stroke="#000" stroke-width="0.45"/>
<line x1="393.00" x2="393.00" y1="127.1" y2="128.6" stroke="#000" stroke-width="0.45"/>
<line x1="394.87" x2="394.87" y1="127.1" y2="128.6" stroke="#000" stroke-width="0.45"/>
<line x1="396.49" x2="396.49" y1="127.1" y2="128.6" stroke="#000" stroke-width="0.45"/>
<line x1="397.92" x2="397.92" y1="127.1" y2="128.6" stroke="#000" stroke-width="0.45"/>
<line x1="399.20" x2="399.20" y1="127.1" y2="129.7" stroke="#000" stroke-width="0.9"/>
<text x="397.60" y="140.00" font-size="10.4" text-anchor="middle">10<tspan dy="-4.2" font-size="7.1">4</tspan></text>
<text x="343.35" y="151.50" font-size="11.5" text-anchor="middle" >FITC</text>
<text x="372.70" y="27.30" font-size="11.9" text-anchor="middle" >SFLLRN</text>
<text x="302.50" y="53.40" font-size="11.5" text-anchor="middle" >NA</text>
<text x="362.00" y="82.00" font-size="11.5" text-anchor="middle" >Act</text>
<line x1="453.25" x2="453.25" y1="106.79" y2="101.37" stroke="#000" stroke-width="1.5"/>
<line x1="450.75" x2="455.75" y1="101.37" y2="101.37" stroke="#000" stroke-width="1.4"/>
<rect x="446.00" y="106.79" width="14.50" height="20.51" fill="#fff" stroke="#000" stroke-width="1.4"/>
<line x1="495.00" x2="495.00" y1="48.74" y2="30.55" stroke="#000" stroke-width="1.5"/>
<line x1="492.50" x2="497.50" y1="30.55" y2="30.55" stroke="#000" stroke-width="1.4"/>
<rect x="488.00" y="48.74" width="14.00" height="78.56" fill="#fff" stroke="#000" stroke-width="1.4"/>
<path d="M431.3,10.7V127.3H516.8" fill="none" stroke="#000" stroke-width="1.6"/>
<line x1="427.8" x2="431.3" y1="127.30" y2="127.30" stroke="#000" stroke-width="1.2"/>
<text x="427.80" y="131.10" font-size="10.4" text-anchor="end" >0</text>
<line x1="427.8" x2="431.3" y1="107.95" y2="107.95" stroke="#000" stroke-width="1.2"/>
<text x="427.80" y="111.75" font-size="10.4" text-anchor="end" >10</text>
<line x1="427.8" x2="431.3" y1="88.60" y2="88.60" stroke="#000" stroke-width="1.2"/>
<text x="427.80" y="92.40" font-size="10.4" text-anchor="end" >20</text>
<line x1="427.8" x2="431.3" y1="69.25" y2="69.25" stroke="#000" stroke-width="1.2"/>
<text x="427.80" y="73.05" font-size="10.4" text-anchor="end" >30</text>
<line x1="427.8" x2="431.3" y1="49.90" y2="49.90" stroke="#000" stroke-width="1.2"/>
<text x="427.80" y="53.70" font-size="10.4" text-anchor="end" >40</text>
<line x1="427.8" x2="431.3" y1="30.55" y2="30.55" stroke="#000" stroke-width="1.2"/>
<text x="427.80" y="34.35" font-size="10.4" text-anchor="end" >50</text>
<line x1="427.8" x2="431.3" y1="11.20" y2="11.20" stroke="#000" stroke-width="1.2"/>
<text x="427.80" y="15.00" font-size="10.4" text-anchor="end" >60</text>
<line x1="473.20" x2="473.20" y1="127.3" y2="130.3" stroke="#000" stroke-width="1.1"/>
<line x1="516.20" x2="516.20" y1="127.3" y2="130.3" stroke="#000" stroke-width="1.1"/>
<text transform="translate(413.60,61.30) rotate(-90)" font-size="11" text-anchor="middle">MFI</text>
<path d="M446.60,29.30 C446.60,25.73 449.67,22.80 453.43,22.80 H496.78 C500.53,22.80 503.60,25.73 503.60,29.30" fill="none" stroke="#000" stroke-width="1.5" stroke-linecap="round"/>
<text x="472.50" y="18.70" font-size="10.5" text-anchor="middle" >P=0.025</text>
<text x="454.00" y="138.40" font-size="10.4" text-anchor="middle" >0</text>
<text x="495.00" y="138.40" font-size="10.4" text-anchor="middle" >10</text>
<text x="470.00" y="152.50" font-size="11.8" text-anchor="middle" >SFLLRN (µM)</text>
<text x="0.50" y="173.00" font-size="13.5" text-anchor="start" >C</text>
<text x="80.80" y="183.70" font-size="11.5" text-anchor="middle" >Mab1</text>
<path d="M27,186.2H138.6V295.5" fill="none" stroke="#3a3a3a" stroke-width="0.9"/>
<polyline points="27.0,254.8 27.4,257.0 27.9,256.7 28.4,257.2 28.8,255.8 29.2,255.4 29.7,263.8 30.1,261.8 30.6,261.1 31.1,261.8 31.5,261.8 31.9,260.6 32.4,263.3 32.9,262.3 33.3,259.4 33.8,267.0 34.2,261.4 34.6,274.0 35.1,264.2 35.5,270.4 36.0,267.5 36.5,269.0 36.9,264.5 37.4,266.3 37.8,270.2 38.2,271.1 38.7,261.5 39.1,266.8 39.6,269.1 40.0,268.9 40.5,263.9 41.0,260.0 41.4,263.6 41.9,264.3 42.3,263.9 42.8,265.9 43.2,270.6 43.7,263.8 44.1,258.6 44.5,260.4 45.0,267.7 45.5,261.1 45.9,270.4 46.4,264.9 46.8,267.7 47.2,266.5 47.7,259.7 48.2,258.3 48.6,261.1 49.0,263.0 49.5,260.1 50.0,258.6 50.4,257.8 50.9,256.5 51.3,252.2 51.8,254.4 52.2,253.8 52.7,256.9 53.1,254.8 53.5,256.7 54.0,257.4 54.5,251.6 54.9,251.8 55.4,248.5 55.8,248.4 56.2,256.6 56.7,242.4 57.2,238.7 57.6,242.0 58.0,240.0 58.5,242.8 59.0,245.1 59.4,239.1 59.9,244.9 60.3,232.4 60.8,235.7 61.2,235.0 61.6,226.7 62.1,227.7 62.6,224.0 63.0,231.2 63.5,217.7 63.9,226.6 64.3,225.9 64.8,221.6 65.2,217.1 65.7,215.7 66.2,213.8 66.6,218.2 67.1,211.6 67.5,220.4 68.0,215.3 68.4,208.1 68.8,215.6 69.3,211.4 69.8,216.9 70.2,205.8 70.7,220.3 71.1,209.3 71.6,209.7 72.0,211.6 72.5,204.4 72.9,213.3 73.3,205.0 73.8,218.5 74.2,219.0 74.7,224.6 75.2,223.5 75.6,229.5 76.1,228.2 76.5,234.7 77.0,238.6 77.4,241.8 77.8,250.2 78.3,248.4 78.8,249.5 79.2,260.4 79.7,252.5 80.1,257.4 80.6,261.2 81.0,267.6 81.5,264.9 81.9,272.9 82.3,274.5 82.8,279.3 83.2,280.0 83.7,286.1 84.2,284.9 84.6,282.7 85.1,283.1 85.5,283.8 86.0,285.2 86.4,286.1 86.8,286.6 87.3,289.1 87.8,291.2 88.2,289.4 88.7,290.1 89.1,289.7 89.6,290.8 90.0,291.5 90.5,291.1 90.9,292.6 91.4,291.5 91.8,293.1 92.2,292.7 92.7,293.5 93.2,293.5 93.6,291.9 94.0,292.7 94.5,292.7 95.0,292.8 95.4,294.0 95.9,293.6 96.3,292.8 96.8,294.7 97.2,293.9 97.7,292.9 98.1,293.3 98.5,294.4 99.0,293.6 99.5,293.3 99.9,293.3 100.4,293.0 100.8,293.0 101.2,293.0 101.7,294.5 102.2,294.1 102.6,294.2 103.0,293.5 103.5,293.3 104.0,294.6 104.4,293.2 104.9,293.5 105.3,294.5 105.8,293.4 106.2,293.7 106.7,294.1 107.1,294.1 107.5,293.9 108.0,294.2 108.5,294.8 108.9,294.1 109.4,294.2 109.8,294.3 110.2,294.7 110.7,295.2 111.2,294.1 111.6,294.9 112.0,295.0 112.5,294.2 113.0,294.5 113.4,294.4 113.9,294.7 114.3,294.6 114.8,293.8 115.2,294.0 115.7,294.6 116.1,294.3 116.5,294.5 117.0,294.0 117.5,294.1 117.9,294.6 118.4,295.0 118.8,294.3 119.2,294.9 119.7,294.5 120.2,294.7 120.6,294.5 121.0,294.8 121.5,295.2 122.0,294.6 122.4,294.7 122.9,293.7 123.3,294.7 123.8,294.7 124.2,294.2 124.7,295.0 125.1,294.2 125.5,294.9 126.0,295.0 126.5,294.1 126.9,294.8 127.4,294.3 127.8,294.8 128.2,295.2 128.7,294.3 129.2,294.5 129.6,295.2 130.1,294.2 130.5,294.8 130.9,294.5 131.4,294.5 131.9,295.0 132.3,294.6 132.8,294.8 133.2,295.2 133.7,294.2 134.1,294.6 134.6,294.8 135.0,294.7 135.4,295.1 135.9,294.2 136.4,294.6 136.8,295.2 137.2,294.5 137.7,294.4 138.2,294.5" fill="none" stroke="#4e4e4e" stroke-width="0.8" stroke-linejoin="round"/>
<polyline points="27.0,246.9 27.4,248.8 27.9,256.8 28.4,251.4 28.8,249.9 29.2,256.8 29.7,254.0 30.1,253.9 30.6,248.1 31.1,253.4 31.5,251.4 31.9,254.3 32.4,251.8 32.9,253.6 33.3,252.3 33.8,252.9 34.2,256.2 34.6,245.2 35.1,253.3 35.5,257.4 36.0,254.4 36.5,253.0 36.9,260.0 37.4,244.1 37.8,256.9 38.2,248.5 38.7,247.8 39.1,247.7 39.6,249.2 40.0,243.8 40.5,237.2 41.0,246.0 41.4,255.8 41.9,244.8 42.3,249.6 42.8,245.1 43.2,244.3 43.7,245.9 44.1,248.6 44.5,246.5 45.0,241.0 45.5,240.0 45.9,248.8 46.4,244.9 46.8,228.2 47.2,239.1 47.7,237.4 48.2,233.1 48.6,237.6 49.0,246.3 49.5,237.7 50.0,235.1 50.4,231.1 50.9,232.0 51.3,220.3 51.8,229.0 52.2,228.0 52.7,232.3 53.1,213.7 53.5,229.9 54.0,232.0 54.5,222.5 54.9,226.8 55.4,213.6 55.8,216.5 56.2,215.3 56.7,226.6 57.2,213.2 57.6,218.7 58.0,203.7 58.5,220.1 59.0,221.4 59.4,227.0 59.9,225.6 60.3,226.4 60.8,224.2 61.2,228.3 61.6,222.1 62.1,229.6 62.6,231.2 63.0,230.5 63.5,231.0 63.9,231.3 64.3,232.3 64.8,239.2 65.2,237.8 65.7,236.5 66.2,242.6 66.6,242.4 67.1,247.7 67.5,246.8 68.0,244.9 68.4,255.7 68.8,256.2 69.3,252.8 69.8,258.9 70.2,266.8 70.7,269.2 71.1,273.7 71.6,270.1 72.0,275.2 72.5,271.6 72.9,279.6 73.3,278.0 73.8,277.9 74.2,279.3 74.7,284.4 75.2,281.6 75.6,284.5 76.1,284.1 76.5,283.5 77.0,286.0 77.4,286.8 77.8,288.9 78.3,287.7 78.8,288.2 79.2,287.0 79.7,286.9 80.1,288.0 80.6,291.2 81.0,289.4 81.5,289.9 81.9,290.1 82.3,290.1 82.8,290.1 83.2,291.1 83.7,293.4 84.2,292.2 84.6,291.7 85.1,292.6 85.5,291.6 86.0,292.9 86.4,292.9 86.8,293.3 87.3,292.5 87.8,292.5 88.2,292.7 88.7,292.2 89.1,293.1 89.6,293.6 90.0,294.2 90.5,293.3 90.9,292.7 91.4,293.2 91.8,294.1 92.2,293.1 92.7,292.5 93.2,293.8 93.6,292.2 94.0,294.2 94.5,292.8 95.0,294.1 95.4,294.7 95.9,293.8 96.3,293.8 96.8,293.9 97.2,293.7 97.7,293.9 98.1,294.0 98.5,293.9 99.0,293.3 99.5,294.0 99.9,293.7 100.4,293.9 100.8,293.9 101.2,293.7 101.7,294.1 102.2,294.0 102.6,293.3 103.0,294.4 103.5,293.9 104.0,293.6 104.4,293.9 104.9,293.4 105.3,294.2 105.8,294.2 106.2,295.1 106.7,294.9 107.1,293.0 107.5,294.0 108.0,294.3 108.5,294.0 108.9,294.1 109.4,293.7 109.8,294.2 110.2,294.3 110.7,294.2 111.2,294.8 111.6,294.0 112.0,294.8 112.5,294.4 113.0,293.5 113.4,294.2 113.9,294.2 114.3,293.9 114.8,294.0 115.2,294.1 115.7,294.5 116.1,294.4 116.5,294.4 117.0,294.9 117.5,294.1 117.9,293.8 118.4,294.3 118.8,294.9 119.2,294.4 119.7,295.0 120.2,294.5 120.6,293.8 121.0,294.2 121.5,294.5 122.0,294.2 122.4,295.0 122.9,295.0 123.3,294.1 123.8,294.7 124.2,295.2 124.7,294.6 125.1,294.1 125.5,294.5 126.0,294.2 126.5,293.7 126.9,294.4 127.4,295.2 127.8,294.8 128.2,294.2 128.7,294.4 129.2,294.8 129.6,294.8 130.1,294.4 130.5,294.8 130.9,294.0 131.4,295.0 131.9,294.1 132.3,295.2 132.8,295.1 133.2,295.1 133.7,294.4 134.1,294.3 134.6,294.7 135.0,295.0 135.4,294.7 135.9,295.2 136.4,294.9 136.8,295.2 137.2,294.9 137.7,294.6 138.2,294.7" fill="none" stroke="#000" stroke-width="1.0" stroke-linejoin="round"/>
<path d="M27,185.7V295.5H138.6" fill="none" stroke="#000" stroke-width="1.35"/>
<line x1="24.0" x2="27" y1="295.50" y2="295.50" stroke="#000" stroke-width="1"/>
<text x="21.90" y="299.50" font-size="10.4" text-anchor="end" >0</text>
<line x1="24.0" x2="27" y1="271.30" y2="271.30" stroke="#000" stroke-width="1"/>
<text x="23.60" y="275.30" font-size="10.4" text-anchor="end" >20</text>
<line x1="24.0" x2="27" y1="247.10" y2="247.10" stroke="#000" stroke-width="1"/>
<text x="23.60" y="251.10" font-size="10.4" text-anchor="end" >40</text>
<line x1="24.0" x2="27" y1="222.90" y2="222.90" stroke="#000" stroke-width="1"/>
<text x="23.60" y="226.90" font-size="10.4" text-anchor="end" >60</text>
<line x1="24.0" x2="27" y1="198.70" y2="198.70" stroke="#000" stroke-width="1"/>
<text x="23.60" y="202.70" font-size="10.4" text-anchor="end" >80</text>
<line x1="25.0" x2="27" y1="295.50" y2="295.50" stroke="#000" stroke-width="0.6"/>
<line x1="25.0" x2="27" y1="293.08" y2="293.08" stroke="#000" stroke-width="0.6"/>
<line x1="25.0" x2="27" y1="290.66" y2="290.66" stroke="#000" stroke-width="0.6"/>
<line x1="25.0" x2="27" y1="288.24" y2="288.24" stroke="#000" stroke-width="0.6"/>
<line x1="25.0" x2="27" y1="285.82" y2="285.82" stroke="#000" stroke-width="0.6"/>
<line x1="25.0" x2="27" y1="283.40" y2="283.40" stroke="#000" stroke-width="0.6"/>
<line x1="25.0" x2="27" y1="280.98" y2="280.98" stroke="#000" stroke-width="0.6"/>
<line x1="25.0" x2="27" y1="278.56" y2="278.56" stroke="#000" stroke-width="0.6"/>
<line x1="25.0" x2="27" y1="276.14" y2="276.14" stroke="#000" stroke-width="0.6"/>
<line x1="25.0" x2="27" y1="273.72" y2="273.72" stroke="#000" stroke-width="0.6"/>
<line x1="25.0" x2="27" y1="271.30" y2="271.30" stroke="#000" stroke-width="0.6"/>
<line x1="25.0" x2="27" y1="268.88" y2="268.88" stroke="#000" stroke-width="0.6"/>
<line x1="25.0" x2="27" y1="266.46" y2="266.46" stroke="#000" stroke-width="0.6"/>
<line x1="25.0" x2="27" y1="264.04" y2="264.04" stroke="#000" stroke-width="0.6"/>
<line x1="25.0" x2="27" y1="261.62" y2="261.62" stroke="#000" stroke-width="0.6"/>
<line x1="25.0" x2="27" y1="259.20" y2="259.20" stroke="#000" stroke-width="0.6"/>
<line x1="25.0" x2="27" y1="256.78" y2="256.78" stroke="#000" stroke-width="0.6"/>
<line x1="25.0" x2="27" y1="254.36" y2="254.36" stroke="#000" stroke-width="0.6"/>
<line x1="25.0" x2="27" y1="251.94" y2="251.94" stroke="#000" stroke-width="0.6"/>
<line x1="25.0" x2="27" y1="249.52" y2="249.52" stroke="#000" stroke-width="0.6"/>
<line x1="25.0" x2="27" y1="247.10" y2="247.10" stroke="#000" stroke-width="0.6"/>
<line x1="25.0" x2="27" y1="244.68" y2="244.68" stroke="#000" stroke-width="0.6"/>
<line x1="25.0" x2="27" y1="242.26" y2="242.26" stroke="#000" stroke-width="0.6"/>
<line x1="25.0" x2="27" y1="239.84" y2="239.84" stroke="#000" stroke-width="0.6"/>
<line x1="25.0" x2="27" y1="237.42" y2="237.42" stroke="#000" stroke-width="0.6"/>
<line x1="25.0" x2="27" y1="235.00" y2="235.00" stroke="#000" stroke-width="0.6"/>
<line x1="25.0" x2="27" y1="232.58" y2="232.58" stroke="#000" stroke-width="0.6"/>
<line x1="25.0" x2="27" y1="230.16" y2="230.16" stroke="#000" stroke-width="0.6"/>
<line x1="25.0" x2="27" y1="227.74" y2="227.74" stroke="#000" stroke-width="0.6"/>
<line x1="25.0" x2="27" y1="225.32" y2="225.32" stroke="#000" stroke-width="0.6"/>
<line x1="25.0" x2="27" y1="222.90" y2="222.90" stroke="#000" stroke-width="0.6"/>
<line x1="25.0" x2="27" y1="220.48" y2="220.48" stroke="#000" stroke-width="0.6"/>
<line x1="25.0" x2="27" y1="218.06" y2="218.06" stroke="#000" stroke-width="0.6"/>
<line x1="25.0" x2="27" y1="215.64" y2="215.64" stroke="#000" stroke-width="0.6"/>
<line x1="25.0" x2="27" y1="213.22" y2="213.22" stroke="#000" stroke-width="0.6"/>
<line x1="25.0" x2="27" y1="210.80" y2="210.80" stroke="#000" stroke-width="0.6"/>
<line x1="25.0" x2="27" y1="208.38" y2="208.38" stroke="#000" stroke-width="0.6"/>
<line x1="25.0" x2="27" y1="205.96" y2="205.96" stroke="#000" stroke-width="0.6"/>
<line x1="25.0" x2="27" y1="203.54" y2="203.54" stroke="#000" stroke-width="0.6"/>
<line x1="25.0" x2="27" y1="201.12" y2="201.12" stroke="#000" stroke-width="0.6"/>
<line x1="25.0" x2="27" y1="198.70" y2="198.70" stroke="#000" stroke-width="0.6"/>
<line x1="25.0" x2="27" y1="196.28" y2="196.28" stroke="#000" stroke-width="0.6"/>
<line x1="25.0" x2="27" y1="193.86" y2="193.86" stroke="#000" stroke-width="0.6"/>
<line x1="25.0" x2="27" y1="191.44" y2="191.44" stroke="#000" stroke-width="0.6"/>
<line x1="25.0" x2="27" y1="189.02" y2="189.02" stroke="#000" stroke-width="0.6"/>
<line x1="25.0" x2="27" y1="186.60" y2="186.60" stroke="#000" stroke-width="0.6"/>
<line x1="27.00" x2="27.00" y1="295.5" y2="298.1" stroke="#000" stroke-width="0.9"/>
<text x="28.30" y="307.60" font-size="10.4" text-anchor="middle">10<tspan dy="-4.2" font-size="7.1">0</tspan></text>
<line x1="35.40" x2="35.40" y1="295.5" y2="297.0" stroke="#000" stroke-width="0.45"/>
<line x1="40.31" x2="40.31" y1="295.5" y2="297.0" stroke="#000" stroke-width="0.45"/>
<line x1="43.80" x2="43.80" y1="295.5" y2="297.0" stroke="#000" stroke-width="0.45"/>
<line x1="46.50" x2="46.50" y1="295.5" y2="297.0" stroke="#000" stroke-width="0.45"/>
<line x1="48.71" x2="48.71" y1="295.5" y2="297.0" stroke="#000" stroke-width="0.45"/>
<line x1="50.58" x2="50.58" y1="295.5" y2="297.0" stroke="#000" stroke-width="0.45"/>
<line x1="52.20" x2="52.20" y1="295.5" y2="297.0" stroke="#000" stroke-width="0.45"/>
<line x1="53.62" x2="53.62" y1="295.5" y2="297.0" stroke="#000" stroke-width="0.45"/>
<line x1="54.90" x2="54.90" y1="295.5" y2="298.1" stroke="#000" stroke-width="0.9"/>
<text x="55.10" y="307.60" font-size="10.4" text-anchor="middle">10<tspan dy="-4.2" font-size="7.1">1</tspan></text>
<line x1="63.30" x2="63.30" y1="295.5" y2="297.0" stroke="#000" stroke-width="0.45"/>
<line x1="68.21" x2="68.21" y1="295.5" y2="297.0" stroke="#000" stroke-width="0.45"/>
<line x1="71.70" x2="71.70" y1="295.5" y2="297.0" stroke="#000" stroke-width="0.45"/>
<line x1="74.40" x2="74.40" y1="295.5" y2="297.0" stroke="#000" stroke-width="0.45"/>
<line x1="76.61" x2="76.61" y1="295.5" y2="297.0" stroke="#000" stroke-width="0.45"/>
<line x1="78.48" x2="78.48" y1="295.5" y2="297.0" stroke="#000" stroke-width="0.45"/>
<line x1="80.10" x2="80.10" y1="295.5" y2="297.0" stroke="#000" stroke-width="0.45"/>
<line x1="81.52" x2="81.52" y1="295.5" y2="297.0" stroke="#000" stroke-width="0.45"/>
<line x1="82.80" x2="82.80" y1="295.5" y2="298.1" stroke="#000" stroke-width="0.9"/>
<text x="83.00" y="307.60" font-size="10.4" text-anchor="middle">10<tspan dy="-4.2" font-size="7.1">2</tspan></text>
<line x1="91.20" x2="91.20" y1="295.5" y2="297.0" stroke="#000" stroke-width="0.45"/>
<line x1="96.11" x2="96.11" y1="295.5" y2="297.0" stroke="#000" stroke-width="0.45"/>
<line x1="99.60" x2="99.60" y1="295.5" y2="297.0" stroke="#000" stroke-width="0.45"/>
<line x1="102.30" x2="102.30" y1="295.5" y2="297.0" stroke="#000" stroke-width="0.45"/>
<line x1="104.51" x2="104.51" y1="295.5" y2="297.0" stroke="#000" stroke-width="0.45"/>
<line x1="106.38" x2="106.38" y1="295.5" y2="297.0" stroke="#000" stroke-width="0.45"/>
<line x1="108.00" x2="108.00" y1="295.5" y2="297.0" stroke="#000" stroke-width="0.45"/>
<line x1="109.42" x2="109.42" y1="295.5" y2="297.0" stroke="#000" stroke-width="0.45"/>
<line x1="110.70" x2="110.70" y1="295.5" y2="298.1" stroke="#000" stroke-width="0.9"/>
<text x="111.70" y="307.60" font-size="10.4" text-anchor="middle">10<tspan dy="-4.2" font-size="7.1">3</tspan></text>
<line x1="119.10" x2="119.10" y1="295.5" y2="297.0" stroke="#000" stroke-width="0.45"/>
<line x1="124.01" x2="124.01" y1="295.5" y2="297.0" stroke="#000" stroke-width="0.45"/>
<line x1="127.50" x2="127.50" y1="295.5" y2="297.0" stroke="#000" stroke-width="0.45"/>
<line x1="130.20" x2="130.20" y1="295.5" y2="297.0" stroke="#000" stroke-width="0.45"/>
<line x1="132.41" x2="132.41" y1="295.5" y2="297.0" stroke="#000" stroke-width="0.45"/>
<line x1="134.28" x2="134.28" y1="295.5" y2="297.0" stroke="#000" stroke-width="0.45"/>
<line x1="135.90" x2="135.90" y1="295.5" y2="297.0" stroke="#000" stroke-width="0.45"/>
<line x1="137.32" x2="137.32" y1="295.5" y2="297.0" stroke="#000" stroke-width="0.45"/>
<line x1="138.60" x2="138.60" y1="295.5" y2="298.1" stroke="#000" stroke-width="0.9"/>
<text x="137.90" y="307.60" font-size="10.4" text-anchor="middle">10<tspan dy="-4.2" font-size="7.1">4</tspan></text>
<text x="81.20" y="317.80" font-size="11.5" text-anchor="middle" >PE</text>
<text transform="translate(8.60,240.60) rotate(-90)" font-size="11.7" text-anchor="middle">Counts</text>
<text x="104.00" y="199.00" font-size="11.9" text-anchor="middle" >Convulxin</text>
<text x="43.00" y="219.00" font-size="11.5" text-anchor="middle" >NA</text>
<text x="88.00" y="219.00" font-size="11.5" text-anchor="middle" >Act</text>
<line x1="196.75" x2="196.75" y1="259.76" y2="259.29" stroke="#000" stroke-width="1.5"/>
<line x1="194.25" x2="199.25" y1="259.29" y2="259.29" stroke="#000" stroke-width="1.4"/>
<rect x="189.50" y="259.76" width="14.50" height="36.74" fill="#fff" stroke="#000" stroke-width="1.4"/>
<line x1="239.25" x2="239.25" y1="209.69" y2="203.84" stroke="#000" stroke-width="1.5"/>
<line x1="236.75" x2="241.75" y1="203.84" y2="203.84" stroke="#000" stroke-width="1.4"/>
<rect x="232.00" y="209.69" width="14.50" height="86.81" fill="#fff" stroke="#000" stroke-width="1.4"/>
<path d="M175,179.0V296.5H261.2" fill="none" stroke="#000" stroke-width="1.6"/>
<line x1="171.5" x2="175" y1="296.50" y2="296.50" stroke="#000" stroke-width="1.2"/>
<text x="171.50" y="300.30" font-size="10.4" text-anchor="end" >0</text>
<line x1="171.5" x2="175" y1="273.10" y2="273.10" stroke="#000" stroke-width="1.2"/>
<text x="171.50" y="276.90" font-size="10.4" text-anchor="end" >10</text>
<line x1="171.5" x2="175" y1="249.70" y2="249.70" stroke="#000" stroke-width="1.2"/>
<text x="171.50" y="253.50" font-size="10.4" text-anchor="end" >20</text>
<line x1="171.5" x2="175" y1="226.30" y2="226.30" stroke="#000" stroke-width="1.2"/>
<text x="171.50" y="230.10" font-size="10.4" text-anchor="end" >30</text>
<line x1="171.5" x2="175" y1="202.90" y2="202.90" stroke="#000" stroke-width="1.2"/>
<text x="171.50" y="206.70" font-size="10.4" text-anchor="end" >40</text>
<line x1="171.5" x2="175" y1="179.50" y2="179.50" stroke="#000" stroke-width="1.2"/>
<text x="171.50" y="183.30" font-size="10.4" text-anchor="end" >50</text>
<line x1="219.00" x2="219.00" y1="296.5" y2="299.5" stroke="#000" stroke-width="1.1"/>
<line x1="260.60" x2="260.60" y1="296.5" y2="299.5" stroke="#000" stroke-width="1.1"/>
<text transform="translate(155.00,230.60) rotate(-90)" font-size="11.6" text-anchor="middle">MFI</text>
<path d="M190.50,198.00 C190.50,194.97 193.10,192.50 196.28,192.50 H237.22 C240.40,192.50 243.00,194.97 243.00,198.00" fill="none" stroke="#000" stroke-width="1.5" stroke-linecap="round"/>
<text x="215.70" y="189.00" font-size="11.8" text-anchor="middle" >P=0.001</text>
<text x="196.50" y="307.30" font-size="10.4" text-anchor="middle" >0</text>
<text x="240.00" y="307.30" font-size="10.4" text-anchor="middle" >100</text>
<text x="207.50" y="320.50" font-size="11.8" text-anchor="middle" >Convulxin (ng/ml)</text>
<text x="259.80" y="173.00" font-size="13.5" text-anchor="start" >D</text>
<text x="336.00" y="183.00" font-size="11.5" text-anchor="middle" >Mab2</text>
<path d="M287,186.2H400.2V296" fill="none" stroke="#3a3a3a" stroke-width="0.9"/>
<polyline points="287.0,264.7 287.4,261.7 287.9,267.7 288.4,266.0 288.8,264.5 289.2,268.2 289.7,262.7 290.1,267.5 290.6,265.3 291.1,267.0 291.5,260.6 291.9,263.8 292.4,264.8 292.9,267.9 293.3,263.3 293.8,263.6 294.2,269.9 294.6,274.6 295.1,270.2 295.6,270.3 296.0,266.5 296.4,270.1 296.9,271.8 297.4,266.3 297.8,267.3 298.2,268.8 298.7,273.1 299.1,266.8 299.6,270.1 300.1,270.6 300.5,263.0 300.9,266.9 301.4,265.0 301.9,265.4 302.3,270.6 302.8,271.8 303.2,263.4 303.6,273.5 304.1,267.9 304.6,271.6 305.0,264.9 305.4,267.5 305.9,268.0 306.4,260.7 306.8,271.1 307.2,261.7 307.7,264.7 308.1,262.6 308.6,264.2 309.1,263.8 309.5,260.5 309.9,258.9 310.4,252.2 310.9,252.0 311.3,262.7 311.8,259.5 312.2,257.1 312.6,257.4 313.1,258.6 313.6,258.4 314.0,255.2 314.4,259.9 314.9,255.6 315.4,254.0 315.8,248.3 316.2,251.8 316.7,254.5 317.1,252.7 317.6,249.8 318.1,247.6 318.5,244.5 318.9,239.0 319.4,240.9 319.9,237.4 320.3,233.3 320.8,242.7 321.2,240.1 321.6,244.4 322.1,233.9 322.6,228.0 323.0,230.3 323.4,225.4 323.9,235.2 324.4,232.0 324.8,222.3 325.2,228.5 325.7,228.4 326.1,236.0 326.6,233.8 327.1,227.7 327.5,232.9 327.9,228.2 328.4,232.4 328.9,222.4 329.3,229.8 329.8,218.6 330.2,211.8 330.6,215.9 331.1,219.1 331.6,223.7 332.0,221.5 332.4,214.1 332.9,215.9 333.4,214.7 333.8,212.3 334.2,218.3 334.7,203.3 335.1,223.0 335.6,206.3 336.1,223.8 336.5,212.2 336.9,225.9 337.4,214.9 337.9,226.0 338.3,229.4 338.8,228.3 339.2,232.7 339.6,228.1 340.1,235.5 340.6,248.1 341.0,246.6 341.4,251.0 341.9,251.9 342.4,253.4 342.8,259.5 343.2,258.6 343.7,260.5 344.1,267.5 344.6,276.2 345.1,270.5 345.5,274.9 345.9,279.0 346.4,281.3 346.9,281.4 347.3,280.5 347.8,285.4 348.2,285.7 348.6,288.4 349.1,284.5 349.6,289.6 350.0,287.2 350.4,292.2 350.9,286.8 351.4,289.7 351.8,291.1 352.2,290.1 352.7,291.0 353.1,291.2 353.6,290.3 354.1,292.3 354.5,293.3 354.9,290.1 355.4,293.2 355.9,292.4 356.3,291.5 356.8,290.6 357.2,293.3 357.6,293.2 358.1,293.2 358.6,293.6 359.0,293.1 359.4,294.7 359.9,293.1 360.4,293.3 360.8,293.6 361.2,292.5 361.7,294.2 362.1,293.1 362.6,293.8 363.1,294.3 363.5,292.4 363.9,294.7 364.4,293.8 364.9,293.4 365.3,293.7 365.8,294.7 366.2,294.1 366.6,294.0 367.1,294.0 367.6,295.4 368.0,294.2 368.4,294.0 368.9,294.6 369.4,294.6 369.8,294.1 370.2,294.0 370.7,294.8 371.1,294.7 371.6,295.4 372.1,295.2 372.5,295.0 372.9,295.2 373.4,294.6 373.9,294.3 374.3,294.7 374.8,294.2 375.2,295.7 375.6,294.5 376.1,295.0 376.6,294.6 377.0,295.1 377.4,295.1 377.9,295.4 378.4,294.6 378.8,295.2 379.2,295.3 379.7,295.0 380.1,295.1 380.6,295.3 381.1,294.9 381.5,294.4 381.9,294.8 382.4,294.8 382.9,295.2 383.3,295.4 383.8,295.3 384.2,294.9 384.6,294.9 385.1,294.8 385.6,295.3 386.0,294.8 386.4,295.0 386.9,295.0 387.4,295.7 387.8,295.7 388.2,295.2 388.7,295.1 389.1,295.3 389.6,295.5 390.1,295.3 390.5,295.7 390.9,294.7 391.4,294.5 391.9,295.0 392.3,295.1 392.8,294.3 393.2,295.3 393.6,295.5 394.1,294.6 394.6,295.4 395.0,294.6 395.4,295.0 395.9,294.7 396.4,295.2 396.8,294.4 397.2,295.1 397.7,295.2 398.1,295.7 398.6,294.7 399.1,295.7 399.5,295.7 399.9,295.1" fill="none" stroke="#4e4e4e" stroke-width="0.8" stroke-linejoin="round"/>
<polyline points="287.0,257.5 287.4,257.8 287.9,257.8 288.4,262.7 288.8,258.5 289.2,257.5 289.7,255.9 290.1,258.0 290.6,257.7 291.1,252.5 291.5,263.8 291.9,254.4 292.4,252.4 292.9,254.2 293.3,256.0 293.8,260.4 294.2,264.1 294.6,266.1 295.1,262.4 295.6,265.1 296.0,262.6 296.4,260.3 296.9,258.3 297.4,260.1 297.8,254.3 298.2,258.0 298.7,255.7 299.1,259.6 299.6,259.0 300.1,264.9 300.5,249.9 300.9,259.4 301.4,262.5 301.9,253.1 302.3,255.1 302.8,248.7 303.2,257.7 303.6,261.1 304.1,249.4 304.6,253.2 305.0,247.5 305.4,248.2 305.9,252.5 306.4,250.8 306.8,248.2 307.2,252.0 307.7,251.2 308.1,255.0 308.6,234.8 309.1,242.6 309.5,242.5 309.9,244.2 310.4,240.7 310.9,243.3 311.3,235.9 311.8,237.3 312.2,230.6 312.6,232.3 313.1,237.0 313.6,229.1 314.0,226.4 314.4,232.3 314.9,222.8 315.4,234.9 315.8,230.7 316.2,227.8 316.7,223.9 317.1,225.1 317.6,227.1 318.1,229.2 318.5,226.9 318.9,215.3 319.4,232.3 319.9,226.1 320.3,216.8 320.8,224.0 321.2,221.0 321.6,220.9 322.1,222.8 322.6,219.5 323.0,221.4 323.4,211.8 323.9,221.9 324.4,214.8 324.8,216.0 325.2,224.6 325.7,221.6 326.1,226.6 326.6,229.2 327.1,222.5 327.5,223.6 327.9,226.8 328.4,225.0 328.9,230.9 329.3,232.3 329.8,229.5 330.2,242.9 330.6,234.7 331.1,232.8 331.6,244.1 332.0,245.9 332.4,252.4 332.9,254.8 333.4,256.2 333.8,260.6 334.2,257.1 334.7,255.8 335.1,270.4 335.6,269.3 336.1,271.4 336.5,279.6 336.9,279.4 337.4,284.9 337.9,283.7 338.3,283.7 338.8,284.7 339.2,285.7 339.6,285.6 340.1,288.7 340.6,288.7 341.0,291.3 341.4,289.1 341.9,289.2 342.4,288.5 342.8,290.7 343.2,288.3 343.7,286.5 344.1,290.5 344.6,290.9 345.1,288.4 345.5,291.5 345.9,290.8 346.4,293.7 346.9,293.2 347.3,292.6 347.8,291.6 348.2,292.4 348.6,293.1 349.1,292.8 349.6,292.4 350.0,291.7 350.4,291.6 350.9,293.8 351.4,293.0 351.8,293.0 352.2,293.3 352.7,292.0 353.1,293.0 353.6,293.4 354.1,294.8 354.5,293.9 354.9,293.2 355.4,293.2 355.9,292.8 356.3,294.9 356.8,293.0 357.2,293.3 357.6,294.3 358.1,294.3 358.6,293.1 359.0,294.4 359.4,294.4 359.9,294.9 360.4,293.8 360.8,295.2 361.2,293.7 361.7,293.8 362.1,294.3 362.6,295.1 363.1,294.5 363.5,294.4 363.9,293.7 364.4,295.6 364.9,295.7 365.3,293.7 365.8,293.6 366.2,293.7 366.6,294.6 367.1,294.4 367.6,294.9 368.0,294.0 368.4,295.0 368.9,294.3 369.4,294.9 369.8,294.7 370.2,295.4 370.7,294.9 371.1,295.1 371.6,294.8 372.1,295.1 372.5,295.0 372.9,294.5 373.4,294.1 373.9,295.0 374.3,294.4 374.8,294.9 375.2,294.3 375.6,295.3 376.1,294.7 376.6,294.1 377.0,295.3 377.4,295.4 377.9,294.9 378.4,294.8 378.8,295.5 379.2,294.5 379.7,294.8 380.1,294.4 380.6,294.7 381.1,295.0 381.5,295.3 381.9,294.2 382.4,294.9 382.9,295.1 383.3,294.8 383.8,294.6 384.2,294.8 384.6,294.7 385.1,295.5 385.6,294.1 386.0,295.2 386.4,295.7 386.9,295.0 387.4,295.0 387.8,295.4 388.2,295.4 388.7,295.5 389.1,295.0 389.6,294.9 390.1,295.2 390.5,294.6 390.9,295.3 391.4,295.6 391.9,295.4 392.3,295.2 392.8,294.7 393.2,295.4 393.6,294.7 394.1,295.5 394.6,294.6 395.0,295.6 395.4,294.8 395.9,295.1 396.4,294.9 396.8,295.4 397.2,294.7 397.7,295.3 398.1,295.1 398.6,295.5 399.1,294.9 399.5,295.0 399.9,294.9" fill="none" stroke="#000" stroke-width="1.0" stroke-linejoin="round"/>
<path d="M287,185.7V296H400.2" fill="none" stroke="#000" stroke-width="1.35"/>
<line x1="284.0" x2="287" y1="296.00" y2="296.00" stroke="#000" stroke-width="1"/>
<text x="281.60" y="300.00" font-size="10.4" text-anchor="end" >0</text>
<line x1="284.0" x2="287" y1="271.80" y2="271.80" stroke="#000" stroke-width="1"/>
<text x="283.60" y="275.80" font-size="10.4" text-anchor="end" >20</text>
<line x1="284.0" x2="287" y1="247.60" y2="247.60" stroke="#000" stroke-width="1"/>
<text x="283.60" y="251.60" font-size="10.4" text-anchor="end" >40</text>
<line x1="284.0" x2="287" y1="223.40" y2="223.40" stroke="#000" stroke-width="1"/>
<text x="283.60" y="227.40" font-size="10.4" text-anchor="end" >60</text>
<line x1="284.0" x2="287" y1="199.20" y2="199.20" stroke="#000" stroke-width="1"/>
<text x="283.60" y="203.20" font-size="10.4" text-anchor="end" >80</text>
<line x1="285.0" x2="287" y1="296.00" y2="296.00" stroke="#000" stroke-width="0.6"/>
<line x1="285.0" x2="287" y1="293.58" y2="293.58" stroke="#000" stroke-width="0.6"/>
<line x1="285.0" x2="287" y1="291.16" y2="291.16" stroke="#000" stroke-width="0.6"/>
<line x1="285.0" x2="287" y1="288.74" y2="288.74" stroke="#000" stroke-width="0.6"/>
<line x1="285.0" x2="287" y1="286.32" y2="286.32" stroke="#000" stroke-width="0.6"/>
<line x1="285.0" x2="287" y1="283.90" y2="283.90" stroke="#000" stroke-width="0.6"/>
<line x1="285.0" x2="287" y1="281.48" y2="281.48" stroke="#000" stroke-width="0.6"/>
<line x1="285.0" x2="287" y1="279.06" y2="279.06" stroke="#000" stroke-width="0.6"/>
<line x1="285.0" x2="287" y1="276.64" y2="276.64" stroke="#000" stroke-width="0.6"/>
<line x1="285.0" x2="287" y1="274.22" y2="274.22" stroke="#000" stroke-width="0.6"/>
<line x1="285.0" x2="287" y1="271.80" y2="271.80" stroke="#000" stroke-width="0.6"/>
<line x1="285.0" x2="287" y1="269.38" y2="269.38" stroke="#000" stroke-width="0.6"/>
<line x1="285.0" x2="287" y1="266.96" y2="266.96" stroke="#000" stroke-width="0.6"/>
<line x1="285.0" x2="287" y1="264.54" y2="264.54" stroke="#000" stroke-width="0.6"/>
<line x1="285.0" x2="287" y1="262.12" y2="262.12" stroke="#000" stroke-width="0.6"/>
<line x1="285.0" x2="287" y1="259.70" y2="259.70" stroke="#000" stroke-width="0.6"/>
<line x1="285.0" x2="287" y1="257.28" y2="257.28" stroke="#000" stroke-width="0.6"/>
<line x1="285.0" x2="287" y1="254.86" y2="254.86" stroke="#000" stroke-width="0.6"/>
<line x1="285.0" x2="287" y1="252.44" y2="252.44" stroke="#000" stroke-width="0.6"/>
<line x1="285.0" x2="287" y1="250.02" y2="250.02" stroke="#000" stroke-width="0.6"/>
<line x1="285.0" x2="287" y1="247.60" y2="247.60" stroke="#000" stroke-width="0.6"/>
<line x1="285.0" x2="287" y1="245.18" y2="245.18" stroke="#000" stroke-width="0.6"/>
<line x1="285.0" x2="287" y1="242.76" y2="242.76" stroke="#000" stroke-width="0.6"/>
<line x1="285.0" x2="287" y1="240.34" y2="240.34" stroke="#000" stroke-width="0.6"/>
<line x1="285.0" x2="287" y1="237.92" y2="237.92" stroke="#000" stroke-width="0.6"/>
<line x1="285.0" x2="287" y1="235.50" y2="235.50" stroke="#000" stroke-width="0.6"/>
<line x1="285.0" x2="287" y1="233.08" y2="233.08" stroke="#000" stroke-width="0.6"/>
<line x1="285.0" x2="287" y1="230.66" y2="230.66" stroke="#000" stroke-width="0.6"/>
<line x1="285.0" x2="287" y1="228.24" y2="228.24" stroke="#000" stroke-width="0.6"/>
<line x1="285.0" x2="287" y1="225.82" y2="225.82" stroke="#000" stroke-width="0.6"/>
<line x1="285.0" x2="287" y1="223.40" y2="223.40" stroke="#000" stroke-width="0.6"/>
<line x1="285.0" x2="287" y1="220.98" y2="220.98" stroke="#000" stroke-width="0.6"/>
<line x1="285.0" x2="287" y1="218.56" y2="218.56" stroke="#000" stroke-width="0.6"/>
<line x1="285.0" x2="287" y1="216.14" y2="216.14" stroke="#000" stroke-width="0.6"/>
<line x1="285.0" x2="287" y1="213.72" y2="213.72" stroke="#000" stroke-width="0.6"/>
<line x1="285.0" x2="287" y1="211.30" y2="211.30" stroke="#000" stroke-width="0.6"/>
<line x1="285.0" x2="287" y1="208.88" y2="208.88" stroke="#000" stroke-width="0.6"/>
<line x1="285.0" x2="287" y1="206.46" y2="206.46" stroke="#000" stroke-width="0.6"/>
<line x1="285.0" x2="287" y1="204.04" y2="204.04" stroke="#000" stroke-width="0.6"/>
<line x1="285.0" x2="287" y1="201.62" y2="201.62" stroke="#000" stroke-width="0.6"/>
<line x1="285.0" x2="287" y1="199.20" y2="199.20" stroke="#000" stroke-width="0.6"/>
<line x1="285.0" x2="287" y1="196.78" y2="196.78" stroke="#000" stroke-width="0.6"/>
<line x1="285.0" x2="287" y1="194.36" y2="194.36" stroke="#000" stroke-width="0.6"/>
<line x1="285.0" x2="287" y1="191.94" y2="191.94" stroke="#000" stroke-width="0.6"/>
<line x1="285.0" x2="287" y1="189.52" y2="189.52" stroke="#000" stroke-width="0.6"/>
<line x1="285.0" x2="287" y1="187.10" y2="187.10" stroke="#000" stroke-width="0.6"/>
<line x1="287.00" x2="287.00" y1="296" y2="298.6" stroke="#000" stroke-width="0.9"/>
<text x="289.30" y="308.10" font-size="10.4" text-anchor="middle">10<tspan dy="-4.2" font-size="7.1">0</tspan></text>
<line x1="295.52" x2="295.52" y1="296" y2="297.5" stroke="#000" stroke-width="0.45"/>
<line x1="300.50" x2="300.50" y1="296" y2="297.5" stroke="#000" stroke-width="0.45"/>
<line x1="304.04" x2="304.04" y1="296" y2="297.5" stroke="#000" stroke-width="0.45"/>
<line x1="306.78" x2="306.78" y1="296" y2="297.5" stroke="#000" stroke-width="0.45"/>
<line x1="309.02" x2="309.02" y1="296" y2="297.5" stroke="#000" stroke-width="0.45"/>
<line x1="310.92" x2="310.92" y1="296" y2="297.5" stroke="#000" stroke-width="0.45"/>
<line x1="312.56" x2="312.56" y1="296" y2="297.5" stroke="#000" stroke-width="0.45"/>
<line x1="314.01" x2="314.01" y1="296" y2="297.5" stroke="#000" stroke-width="0.45"/>
<line x1="315.30" x2="315.30" y1="296" y2="298.6" stroke="#000" stroke-width="0.9"/>
<text x="317.00" y="308.10" font-size="10.4" text-anchor="middle">10<tspan dy="-4.2" font-size="7.1">1</tspan></text>
<line x1="323.82" x2="323.82" y1="296" y2="297.5" stroke="#000" stroke-width="0.45"/>
<line x1="328.80" x2="328.80" y1="296" y2="297.5" stroke="#000" stroke-width="0.45"/>
<line x1="332.34" x2="332.34" y1="296" y2="297.5" stroke="#000" stroke-width="0.45"/>
<line x1="335.08" x2="335.08" y1="296" y2="297.5" stroke="#000" stroke-width="0.45"/>
<line x1="337.32" x2="337.32" y1="296" y2="297.5" stroke="#000" stroke-width="0.45"/>
<line x1="339.22" x2="339.22" y1="296" y2="297.5" stroke="#000" stroke-width="0.45"/>
<line x1="340.86" x2="340.86" y1="296" y2="297.5" stroke="#000" stroke-width="0.45"/>
<line x1="342.31" x2="342.31" y1="296" y2="297.5" stroke="#000" stroke-width="0.45"/>
<line x1="343.60" x2="343.60" y1="296" y2="298.6" stroke="#000" stroke-width="0.9"/>
<text x="344.30" y="308.10" font-size="10.4" text-anchor="middle">10<tspan dy="-4.2" font-size="7.1">2</tspan></text>
<line x1="352.12" x2="352.12" y1="296" y2="297.5" stroke="#000" stroke-width="0.45"/>
<line x1="357.10" x2="357.10" y1="296" y2="297.5" stroke="#000" stroke-width="0.45"/>
<line x1="360.64" x2="360.64" y1="296" y2="297.5" stroke="#000" stroke-width="0.45"/>
<line x1="363.38" x2="363.38" y1="296" y2="297.5" stroke="#000" stroke-width="0.45"/>
<line x1="365.62" x2="365.62" y1="296" y2="297.5" stroke="#000" stroke-width="0.45"/>
<line x1="367.52" x2="367.52" y1="296" y2="297.5" stroke="#000" stroke-width="0.45"/>
<line x1="369.16" x2="369.16" y1="296" y2="297.5" stroke="#000" stroke-width="0.45"/>
<line x1="370.61" x2="370.61" y1="296" y2="297.5" stroke="#000" stroke-width="0.45"/>
<line x1="371.90" x2="371.90" y1="296" y2="298.6" stroke="#000" stroke-width="0.9"/>
<text x="372.70" y="308.10" font-size="10.4" text-anchor="middle">10<tspan dy="-4.2" font-size="7.1">3</tspan></text>
<line x1="380.42" x2="380.42" y1="296" y2="297.5" stroke="#000" stroke-width="0.45"/>
<line x1="385.40" x2="385.40" y1="296" y2="297.5" stroke="#000" stroke-width="0.45"/>
<line x1="388.94" x2="388.94" y1="296" y2="297.5" stroke="#000" stroke-width="0.45"/>
<line x1="391.68" x2="391.68" y1="296" y2="297.5" stroke="#000" stroke-width="0.45"/>
<line x1="393.92" x2="393.92" y1="296" y2="297.5" stroke="#000" stroke-width="0.45"/>
<line x1="395.82" x2="395.82" y1="296" y2="297.5" stroke="#000" stroke-width="0.45"/>
<line x1="397.46" x2="397.46" y1="296" y2="297.5" stroke="#000" stroke-width="0.45"/>
<line x1="398.91" x2="398.91" y1="296" y2="297.5" stroke="#000" stroke-width="0.45"/>
<line x1="400.20" x2="400.20" y1="296" y2="298.6" stroke="#000" stroke-width="0.9"/>
<text x="399.10" y="308.10" font-size="10.4" text-anchor="middle">10<tspan dy="-4.2" font-size="7.1">4</tspan></text>
<text x="343.10" y="318.30" font-size="11.5" text-anchor="middle" >PE</text>
<text x="367.30" y="199.00" font-size="11.9" text-anchor="middle" >Convulxin</text>
<text x="303.00" y="225.00" font-size="11.5" text-anchor="middle" >NA</text>
<text x="356.00" y="225.00" font-size="11.5" text-anchor="middle" >Act</text>
<line x1="452.25" x2="452.25" y1="253.95" y2="252.09" stroke="#000" stroke-width="1.5"/>
<line x1="449.75" x2="454.75" y1="252.09" y2="252.09" stroke="#000" stroke-width="1.4"/>
<rect x="445.00" y="253.95" width="14.50" height="42.25" fill="#fff" stroke="#000" stroke-width="1.4"/>
<line x1="494.50" x2="494.50" y1="236.45" y2="230.15" stroke="#000" stroke-width="1.5"/>
<line x1="492.00" x2="497.00" y1="230.15" y2="230.15" stroke="#000" stroke-width="1.4"/>
<rect x="487.50" y="236.45" width="14.00" height="59.75" fill="#fff" stroke="#000" stroke-width="1.4"/>
<path d="M431,179.0V296.2H516" fill="none" stroke="#000" stroke-width="1.6"/>
<line x1="427.5" x2="431" y1="296.20" y2="296.20" stroke="#000" stroke-width="1.2"/>
<text x="427.50" y="300.00" font-size="10.4" text-anchor="end" >0</text>
<line x1="427.5" x2="431" y1="272.86" y2="272.86" stroke="#000" stroke-width="1.2"/>
<text x="427.50" y="276.66" font-size="10.4" text-anchor="end" >10</text>
<line x1="427.5" x2="431" y1="249.52" y2="249.52" stroke="#000" stroke-width="1.2"/>
<text x="427.50" y="253.32" font-size="10.4" text-anchor="end" >20</text>
<line x1="427.5" x2="431" y1="226.18" y2="226.18" stroke="#000" stroke-width="1.2"/>
<text x="427.50" y="229.98" font-size="10.4" text-anchor="end" >30</text>
<line x1="427.5" x2="431" y1="202.84" y2="202.84" stroke="#000" stroke-width="1.2"/>
<text x="427.50" y="206.64" font-size="10.4" text-anchor="end" >40</text>
<line x1="427.5" x2="431" y1="179.50" y2="179.50" stroke="#000" stroke-width="1.2"/>
<text x="427.50" y="183.30" font-size="10.4" text-anchor="end" >50</text>
<line x1="473.00" x2="473.00" y1="296.2" y2="299.2" stroke="#000" stroke-width="1.1"/>
<line x1="515.40" x2="515.40" y1="296.2" y2="299.2" stroke="#000" stroke-width="1.1"/>
<text transform="translate(412.50,235.40) rotate(-90)" font-size="11.3" text-anchor="middle">MFI</text>
<path d="M445.00,224.70 C445.00,221.67 447.60,219.20 450.77,219.20 H497.03 C500.20,219.20 502.80,221.67 502.80,224.70" fill="none" stroke="#000" stroke-width="1.5" stroke-linecap="round"/>
<text x="468.70" y="215.70" font-size="10.4" text-anchor="middle" >P=0.015</text>
<text x="451.70" y="307.30" font-size="10.4" text-anchor="middle" >0</text>
<text x="494.50" y="307.30" font-size="10.4" text-anchor="middle" >100</text>
<text x="465.00" y="320.50" font-size="11.8" text-anchor="middle" >Convulxin (ng/ml)</text>
<text x="0.70" y="342.00" font-size="13.5" text-anchor="start" >E</text>
<text x="207.70" y="366.00" font-size="11.8" text-anchor="middle" >Thrombin</text>
<path d="M27.2,377.3H132V480.2" fill="none" stroke="#666" stroke-width="1.1"/>
<polyline points="27.2,420.5 27.6,416.0 28.1,421.2 28.6,416.9 29.0,416.0 29.4,425.1 29.9,427.8 30.3,427.0 30.8,417.0 31.2,426.9 31.7,434.4 32.1,426.1 32.6,432.8 33.0,422.9 33.5,426.5 34.0,423.0 34.4,438.9 34.9,429.1 35.3,427.6 35.8,437.9 36.2,426.4 36.6,435.3 37.1,429.9 37.5,425.0 38.0,426.1 38.5,434.7 38.9,428.6 39.4,438.7 39.8,441.5 40.2,423.1 40.7,432.6 41.1,439.8 41.6,433.8 42.0,431.4 42.5,432.0 43.0,435.0 43.4,432.4 43.9,427.8 44.3,421.3 44.8,425.9 45.2,426.7 45.6,435.8 46.1,431.9 46.5,425.5 47.0,418.5 47.5,429.5 47.9,418.1 48.4,420.3 48.8,420.4 49.2,420.3 49.7,424.5 50.1,419.6 50.6,410.6 51.0,418.3 51.5,417.0 52.0,414.0 52.4,430.3 52.9,413.3 53.3,419.6 53.8,419.8 54.2,421.3 54.6,415.2 55.1,412.4 55.5,407.3 56.0,415.9 56.5,414.2 56.9,411.9 57.4,414.9 57.8,404.8 58.2,416.9 58.7,425.6 59.1,419.8 59.6,419.7 60.0,411.6 60.5,412.8 61.0,420.0 61.4,420.1 61.8,423.8 62.3,417.6 62.8,427.2 63.2,421.2 63.7,420.1 64.1,425.7 64.5,425.8 65.0,424.0 65.5,435.4 65.9,432.1 66.3,435.6 66.8,433.4 67.2,442.2 67.7,432.0 68.2,440.5 68.6,436.5 69.0,442.6 69.5,439.7 70.0,443.4 70.4,443.4 70.8,442.6 71.3,451.4 71.8,439.1 72.2,446.5 72.7,444.7 73.1,447.2 73.5,448.8 74.0,449.8 74.5,448.0 74.9,450.9 75.3,454.9 75.8,454.9 76.2,456.9 76.7,457.4 77.2,458.5 77.6,461.6 78.0,459.8 78.5,462.3 79.0,461.6 79.4,467.1 79.8,462.5 80.3,461.3 80.8,463.7 81.2,467.7 81.7,465.1 82.1,465.7 82.5,467.9 83.0,466.8 83.5,468.3 83.9,468.1 84.3,469.5 84.8,469.8 85.2,470.5 85.7,468.9 86.2,473.5 86.6,472.2 87.0,467.1 87.5,469.9 88.0,473.9 88.4,470.7 88.8,470.1 89.3,473.4 89.8,470.4 90.2,472.5 90.7,472.1 91.1,471.2 91.6,473.6 92.0,473.3 92.5,473.7 92.9,475.2 93.4,475.1 93.8,475.6 94.2,477.2 94.7,476.0 95.2,474.8 95.6,475.3 96.1,476.4 96.5,475.5 97.0,477.1 97.4,475.3 97.9,476.6 98.3,478.0 98.8,476.5 99.2,477.9 99.7,477.8 100.1,478.3 100.6,476.6 101.0,477.7 101.5,477.9 101.9,478.3 102.4,479.9 102.8,477.9 103.2,476.9 103.7,477.6 104.2,478.3 104.6,477.8 105.1,477.7 105.5,478.9 106.0,478.7 106.4,478.5 106.9,479.5 107.3,479.0 107.8,479.1 108.2,479.8 108.7,478.9 109.1,479.8 109.6,479.0 110.0,478.8 110.5,478.5 110.9,478.9 111.4,478.8 111.8,478.4 112.2,479.1 112.7,479.3 113.2,479.1 113.6,478.7 114.1,478.6 114.5,478.9 115.0,479.0 115.4,479.9 115.9,478.8 116.3,479.3 116.8,479.3 117.2,478.7 117.7,478.3 118.1,479.4 118.6,478.8 119.0,478.2 119.5,479.1 119.9,479.0 120.4,479.2 120.8,478.0 121.2,479.9 121.7,478.9 122.2,478.9 122.6,478.6 123.1,479.8 123.5,478.7 124.0,479.5 124.4,479.4 124.9,479.1 125.3,479.8 125.8,479.5 126.2,478.5 126.7,478.5 127.1,478.7 127.6,479.5 128.0,479.2 128.4,479.3 128.9,479.4 129.3,479.0 129.8,479.0 130.2,479.1 130.7,479.4 131.2,479.2 131.6,479.0" fill="none" stroke="#4e4e4e" stroke-width="0.75" stroke-linejoin="round"/>
<polyline points="27.2,416.6 27.6,419.0 28.1,414.9 28.6,421.6 29.0,415.8 29.4,421.3 29.9,422.5 30.3,420.7 30.8,421.7 31.2,424.6 31.7,416.5 32.1,417.2 32.6,430.7 33.0,430.1 33.5,434.2 34.0,432.2 34.4,428.3 34.9,425.6 35.3,422.3 35.8,428.3 36.2,430.4 36.6,431.5 37.1,424.9 37.5,424.5 38.0,428.0 38.5,420.5 38.9,425.6 39.4,432.5 39.8,419.7 40.2,430.7 40.7,422.6 41.1,426.5 41.6,422.9 42.0,432.3 42.5,416.5 43.0,418.9 43.4,418.1 43.9,423.8 44.3,423.5 44.8,420.5 45.2,426.3 45.6,418.6 46.1,412.2 46.5,415.3 47.0,421.9 47.5,429.6 47.9,414.7 48.4,404.5 48.8,413.5 49.2,403.8 49.7,409.0 50.1,404.5 50.6,410.5 51.0,405.8 51.5,406.6 52.0,400.0 52.4,404.2 52.9,409.4 53.3,414.8 53.8,410.4 54.2,409.3 54.6,411.7 55.1,405.6 55.5,409.1 56.0,400.3 56.5,404.5 56.9,399.6 57.4,404.8 57.8,406.1 58.2,411.9 58.7,410.4 59.1,408.9 59.6,406.9 60.0,412.3 60.5,416.6 61.0,412.1 61.4,409.4 61.8,421.4 62.3,417.2 62.8,423.9 63.2,426.6 63.7,417.0 64.1,426.7 64.5,427.9 65.0,427.8 65.5,440.9 65.9,437.8 66.3,438.5 66.8,442.2 67.2,440.6 67.7,452.1 68.2,442.5 68.6,445.5 69.0,456.2 69.5,454.4 70.0,451.8 70.4,459.8 70.8,461.2 71.3,463.0 71.8,461.2 72.2,466.8 72.7,467.0 73.1,465.9 73.5,466.1 74.0,472.5 74.5,470.9 74.9,471.2 75.3,471.7 75.8,473.0 76.2,473.1 76.7,473.2 77.2,474.0 77.6,474.6 78.0,476.0 78.5,474.4 79.0,474.3 79.4,476.4 79.8,475.0 80.3,476.8 80.8,475.9 81.2,476.5 81.7,477.7 82.1,478.9 82.5,477.4 83.0,477.1 83.5,477.5 83.9,476.4 84.3,477.0 84.8,476.1 85.2,477.4 85.7,477.5 86.2,476.6 86.6,477.1 87.0,475.8 87.5,476.7 88.0,477.1 88.4,478.4 88.8,476.8 89.3,477.1 89.8,477.8 90.2,478.4 90.7,478.0 91.1,478.6 91.6,478.0 92.0,478.6 92.5,477.1 92.9,479.2 93.4,477.9 93.8,477.2 94.2,478.3 94.7,478.2 95.2,478.1 95.6,478.2 96.1,478.8 96.5,478.2 97.0,478.5 97.4,477.9 97.9,477.8 98.3,477.9 98.8,478.2 99.2,478.0 99.7,479.4 100.1,479.1 100.6,479.4 101.0,478.6 101.5,478.8 101.9,478.1 102.4,478.8 102.8,479.1 103.2,479.3 103.7,479.0 104.2,478.7 104.6,478.9 105.1,479.7 105.5,479.3 106.0,478.9 106.4,478.7 106.9,479.1 107.3,478.6 107.8,479.1 108.2,479.9 108.7,478.5 109.1,479.4 109.6,478.4 110.0,479.5 110.5,479.2 110.9,478.8 111.4,479.5 111.8,479.2 112.2,478.9 112.7,479.1 113.2,479.2 113.6,479.6 114.1,478.7 114.5,479.1 115.0,479.0 115.4,478.9 115.9,479.3 116.3,479.3 116.8,479.2 117.2,479.2 117.7,479.0 118.1,479.2 118.6,479.6 119.0,479.4 119.5,479.5 119.9,479.0 120.4,479.5 120.8,479.3 121.2,479.4 121.7,479.9 122.2,479.5 122.6,479.5 123.1,479.7 123.5,478.6 124.0,479.2 124.4,479.2 124.9,479.9 125.3,479.1 125.8,479.7 126.2,479.8 126.7,479.7 127.1,479.3 127.6,479.3 128.0,479.9 128.4,479.7 128.9,479.8 129.3,478.6 129.8,479.9 130.2,479.1 130.7,479.2 131.2,478.7 131.6,479.8" fill="none" stroke="#000" stroke-width="0.95" stroke-linejoin="round"/>
<path d="M27.2,376.8V480.2H132" fill="none" stroke="#000" stroke-width="1.35"/>
<line x1="24.2" x2="27.2" y1="480.20" y2="480.20" stroke="#000" stroke-width="1"/>
<text x="22.80" y="484.20" font-size="10.4" text-anchor="end" >0</text>
<line x1="24.2" x2="27.2" y1="454.48" y2="454.48" stroke="#000" stroke-width="1"/>
<text x="23.80" y="458.48" font-size="10.4" text-anchor="end" >20</text>
<line x1="24.2" x2="27.2" y1="428.75" y2="428.75" stroke="#000" stroke-width="1"/>
<text x="23.80" y="432.75" font-size="10.4" text-anchor="end" >40</text>
<line x1="24.2" x2="27.2" y1="403.02" y2="403.02" stroke="#000" stroke-width="1"/>
<text x="23.80" y="407.02" font-size="10.4" text-anchor="end" >60</text>
<line x1="24.2" x2="27.2" y1="377.30" y2="377.30" stroke="#000" stroke-width="1"/>
<text x="23.80" y="381.30" font-size="10.4" text-anchor="end" >80</text>
<line x1="25.2" x2="27.2" y1="480.20" y2="480.20" stroke="#000" stroke-width="0.6"/>
<line x1="25.2" x2="27.2" y1="477.63" y2="477.63" stroke="#000" stroke-width="0.6"/>
<line x1="25.2" x2="27.2" y1="475.06" y2="475.06" stroke="#000" stroke-width="0.6"/>
<line x1="25.2" x2="27.2" y1="472.48" y2="472.48" stroke="#000" stroke-width="0.6"/>
<line x1="25.2" x2="27.2" y1="469.91" y2="469.91" stroke="#000" stroke-width="0.6"/>
<line x1="25.2" x2="27.2" y1="467.34" y2="467.34" stroke="#000" stroke-width="0.6"/>
<line x1="25.2" x2="27.2" y1="464.76" y2="464.76" stroke="#000" stroke-width="0.6"/>
<line x1="25.2" x2="27.2" y1="462.19" y2="462.19" stroke="#000" stroke-width="0.6"/>
<line x1="25.2" x2="27.2" y1="459.62" y2="459.62" stroke="#000" stroke-width="0.6"/>
<line x1="25.2" x2="27.2" y1="457.05" y2="457.05" stroke="#000" stroke-width="0.6"/>
<line x1="25.2" x2="27.2" y1="454.48" y2="454.48" stroke="#000" stroke-width="0.6"/>
<line x1="25.2" x2="27.2" y1="451.90" y2="451.90" stroke="#000" stroke-width="0.6"/>
<line x1="25.2" x2="27.2" y1="449.33" y2="449.33" stroke="#000" stroke-width="0.6"/>
<line x1="25.2" x2="27.2" y1="446.76" y2="446.76" stroke="#000" stroke-width="0.6"/>
<line x1="25.2" x2="27.2" y1="444.19" y2="444.19" stroke="#000" stroke-width="0.6"/>
<line x1="25.2" x2="27.2" y1="441.61" y2="441.61" stroke="#000" stroke-width="0.6"/>
<line x1="25.2" x2="27.2" y1="439.04" y2="439.04" stroke="#000" stroke-width="0.6"/>
<line x1="25.2" x2="27.2" y1="436.47" y2="436.47" stroke="#000" stroke-width="0.6"/>
<line x1="25.2" x2="27.2" y1="433.89" y2="433.89" stroke="#000" stroke-width="0.6"/>
<line x1="25.2" x2="27.2" y1="431.32" y2="431.32" stroke="#000" stroke-width="0.6"/>
<line x1="25.2" x2="27.2" y1="428.75" y2="428.75" stroke="#000" stroke-width="0.6"/>
<line x1="25.2" x2="27.2" y1="426.18" y2="426.18" stroke="#000" stroke-width="0.6"/>
<line x1="25.2" x2="27.2" y1="423.61" y2="423.61" stroke="#000" stroke-width="0.6"/>
<line x1="25.2" x2="27.2" y1="421.03" y2="421.03" stroke="#000" stroke-width="0.6"/>
<line x1="25.2" x2="27.2" y1="418.46" y2="418.46" stroke="#000" stroke-width="0.6"/>
<line x1="25.2" x2="27.2" y1="415.89" y2="415.89" stroke="#000" stroke-width="0.6"/>
<line x1="25.2" x2="27.2" y1="413.31" y2="413.31" stroke="#000" stroke-width="0.6"/>
<line x1="25.2" x2="27.2" y1="410.74" y2="410.74" stroke="#000" stroke-width="0.6"/>
<line x1="25.2" x2="27.2" y1="408.17" y2="408.17" stroke="#000" stroke-width="0.6"/>
<line x1="25.2" x2="27.2" y1="405.60" y2="405.60" stroke="#000" stroke-width="0.6"/>
<line x1="25.2" x2="27.2" y1="403.02" y2="403.02" stroke="#000" stroke-width="0.6"/>
<line x1="25.2" x2="27.2" y1="400.45" y2="400.45" stroke="#000" stroke-width="0.6"/>
<line x1="25.2" x2="27.2" y1="397.88" y2="397.88" stroke="#000" stroke-width="0.6"/>
<line x1="25.2" x2="27.2" y1="395.31" y2="395.31" stroke="#000" stroke-width="0.6"/>
<line x1="25.2" x2="27.2" y1="392.74" y2="392.74" stroke="#000" stroke-width="0.6"/>
<line x1="25.2" x2="27.2" y1="390.16" y2="390.16" stroke="#000" stroke-width="0.6"/>
<line x1="25.2" x2="27.2" y1="387.59" y2="387.59" stroke="#000" stroke-width="0.6"/>
<line x1="25.2" x2="27.2" y1="385.02" y2="385.02" stroke="#000" stroke-width="0.6"/>
<line x1="25.2" x2="27.2" y1="382.44" y2="382.44" stroke="#000" stroke-width="0.6"/>
<line x1="25.2" x2="27.2" y1="379.87" y2="379.87" stroke="#000" stroke-width="0.6"/>
<line x1="25.2" x2="27.2" y1="377.30" y2="377.30" stroke="#000" stroke-width="0.6"/>
<line x1="27.20" x2="27.20" y1="480.2" y2="482.8" stroke="#000" stroke-width="0.9"/>
<text x="29.60" y="492.30" font-size="10.4" text-anchor="middle">10<tspan dy="-4.2" font-size="7.1">0</tspan></text>
<line x1="35.09" x2="35.09" y1="480.2" y2="481.7" stroke="#000" stroke-width="0.45"/>
<line x1="39.70" x2="39.70" y1="480.2" y2="481.7" stroke="#000" stroke-width="0.45"/>
<line x1="42.97" x2="42.97" y1="480.2" y2="481.7" stroke="#000" stroke-width="0.45"/>
<line x1="45.51" x2="45.51" y1="480.2" y2="481.7" stroke="#000" stroke-width="0.45"/>
<line x1="47.59" x2="47.59" y1="480.2" y2="481.7" stroke="#000" stroke-width="0.45"/>
<line x1="49.34" x2="49.34" y1="480.2" y2="481.7" stroke="#000" stroke-width="0.45"/>
<line x1="50.86" x2="50.86" y1="480.2" y2="481.7" stroke="#000" stroke-width="0.45"/>
<line x1="52.20" x2="52.20" y1="480.2" y2="481.7" stroke="#000" stroke-width="0.45"/>
<line x1="53.40" x2="53.40" y1="480.2" y2="482.8" stroke="#000" stroke-width="0.9"/>
<text x="54.80" y="492.30" font-size="10.4" text-anchor="middle">10<tspan dy="-4.2" font-size="7.1">1</tspan></text>
<line x1="61.29" x2="61.29" y1="480.2" y2="481.7" stroke="#000" stroke-width="0.45"/>
<line x1="65.90" x2="65.90" y1="480.2" y2="481.7" stroke="#000" stroke-width="0.45"/>
<line x1="69.17" x2="69.17" y1="480.2" y2="481.7" stroke="#000" stroke-width="0.45"/>
<line x1="71.71" x2="71.71" y1="480.2" y2="481.7" stroke="#000" stroke-width="0.45"/>
<line x1="73.79" x2="73.79" y1="480.2" y2="481.7" stroke="#000" stroke-width="0.45"/>
<line x1="75.54" x2="75.54" y1="480.2" y2="481.7" stroke="#000" stroke-width="0.45"/>
<line x1="77.06" x2="77.06" y1="480.2" y2="481.7" stroke="#000" stroke-width="0.45"/>
<line x1="78.40" x2="78.40" y1="480.2" y2="481.7" stroke="#000" stroke-width="0.45"/>
<line x1="79.60" x2="79.60" y1="480.2" y2="482.8" stroke="#000" stroke-width="0.9"/>
<text x="81.00" y="492.30" font-size="10.4" text-anchor="middle">10<tspan dy="-4.2" font-size="7.1">2</tspan></text>
<line x1="87.49" x2="87.49" y1="480.2" y2="481.7" stroke="#000" stroke-width="0.45"/>
<line x1="92.10" x2="92.10" y1="480.2" y2="481.7" stroke="#000" stroke-width="0.45"/>
<line x1="95.37" x2="95.37" y1="480.2" y2="481.7" stroke="#000" stroke-width="0.45"/>
<line x1="97.91" x2="97.91" y1="480.2" y2="481.7" stroke="#000" stroke-width="0.45"/>
<line x1="99.99" x2="99.99" y1="480.2" y2="481.7" stroke="#000" stroke-width="0.45"/>
<line x1="101.74" x2="101.74" y1="480.2" y2="481.7" stroke="#000" stroke-width="0.45"/>
<line x1="103.26" x2="103.26" y1="480.2" y2="481.7" stroke="#000" stroke-width="0.45"/>
<line x1="104.60" x2="104.60" y1="480.2" y2="481.7" stroke="#000" stroke-width="0.45"/>
<line x1="105.80" x2="105.80" y1="480.2" y2="482.8" stroke="#000" stroke-width="0.9"/>
<text x="107.20" y="492.30" font-size="10.4" text-anchor="middle">10<tspan dy="-4.2" font-size="7.1">3</tspan></text>
<line x1="113.69" x2="113.69" y1="480.2" y2="481.7" stroke="#000" stroke-width="0.45"/>
<line x1="118.30" x2="118.30" y1="480.2" y2="481.7" stroke="#000" stroke-width="0.45"/>
<line x1="121.57" x2="121.57" y1="480.2" y2="481.7" stroke="#000" stroke-width="0.45"/>
<line x1="124.11" x2="124.11" y1="480.2" y2="481.7" stroke="#000" stroke-width="0.45"/>
<line x1="126.19" x2="126.19" y1="480.2" y2="481.7" stroke="#000" stroke-width="0.45"/>
<line x1="127.94" x2="127.94" y1="480.2" y2="481.7" stroke="#000" stroke-width="0.45"/>
<line x1="129.46" x2="129.46" y1="480.2" y2="481.7" stroke="#000" stroke-width="0.45"/>
<line x1="130.80" x2="130.80" y1="480.2" y2="481.7" stroke="#000" stroke-width="0.45"/>
<line x1="132.00" x2="132.00" y1="480.2" y2="482.8" stroke="#000" stroke-width="0.9"/>
<text x="131.20" y="492.30" font-size="10.4" text-anchor="middle">10<tspan dy="-4.2" font-size="7.1">4</tspan></text>
<text x="79.60" y="504.90" font-size="11.5" text-anchor="middle" >PE</text>
<text transform="translate(8.60,426.30) rotate(-90)" font-size="11.7" text-anchor="middle">Counts</text>
<text x="106.50" y="388.50" font-size="11.5" text-anchor="middle" >15 sec</text>
<text x="88.20" y="453.00" font-size="11.5" text-anchor="middle" >Act</text>
<text x="55.70" y="465.50" font-size="11.5" text-anchor="middle" >NA</text>
<path d="M154.6,378.2H262V481.1" fill="none" stroke="#666" stroke-width="1.1"/>
<polyline points="154.6,433.5 155.0,433.9 155.5,424.2 155.9,432.0 156.4,430.4 156.8,433.0 157.3,433.3 157.8,437.4 158.2,438.1 158.7,433.3 159.1,443.0 159.5,438.9 160.0,438.5 160.4,440.9 160.9,442.3 161.3,443.7 161.8,439.0 162.2,445.8 162.7,439.0 163.2,435.7 163.6,438.2 164.0,437.8 164.5,434.1 164.9,436.5 165.4,437.2 165.8,433.5 166.3,435.5 166.8,432.2 167.2,441.0 167.7,435.3 168.1,434.7 168.5,432.2 169.0,436.2 169.4,433.6 169.9,433.7 170.3,429.5 170.8,430.4 171.2,425.0 171.7,431.8 172.2,424.8 172.6,427.8 173.0,422.6 173.5,424.4 173.9,426.2 174.4,431.4 174.8,435.3 175.3,430.9 175.8,432.5 176.2,423.5 176.7,431.6 177.1,424.7 177.5,436.6 178.0,432.0 178.4,428.1 178.9,431.6 179.3,424.1 179.8,430.0 180.2,430.5 180.7,421.9 181.2,423.6 181.6,427.4 182.0,426.3 182.5,427.8 182.9,419.1 183.4,417.3 183.8,422.9 184.3,425.7 184.8,427.0 185.2,422.5 185.7,419.0 186.1,412.3 186.5,420.0 187.0,417.4 187.4,421.7 187.9,423.2 188.3,417.8 188.8,421.7 189.2,414.8 189.7,420.8 190.2,418.8 190.6,420.4 191.1,416.3 191.5,416.2 191.9,426.3 192.4,424.7 192.8,422.1 193.3,425.0 193.8,416.5 194.2,425.7 194.7,427.4 195.1,423.0 195.6,430.6 196.0,424.5 196.4,436.4 196.9,435.7 197.3,434.1 197.8,440.6 198.2,440.2 198.7,445.1 199.2,438.5 199.6,444.6 200.1,439.4 200.5,442.9 200.9,446.2 201.4,449.2 201.8,447.4 202.3,449.6 202.8,452.4 203.2,461.2 203.7,455.2 204.1,463.7 204.6,459.7 205.0,459.2 205.4,461.1 205.9,464.6 206.3,465.5 206.8,467.4 207.2,461.6 207.7,461.4 208.2,468.1 208.6,469.1 209.1,467.3 209.5,472.0 209.9,467.7 210.4,474.4 210.8,468.9 211.3,475.6 211.8,473.7 212.2,473.2 212.7,473.5 213.1,473.6 213.6,471.7 214.0,474.8 214.4,474.4 214.9,473.7 215.3,476.4 215.8,474.8 216.2,477.7 216.7,475.8 217.2,476.5 217.6,476.7 218.1,477.8 218.5,476.4 218.9,477.0 219.4,476.9 219.8,478.7 220.3,477.2 220.8,479.0 221.2,478.1 221.6,478.6 222.1,478.0 222.6,479.4 223.0,479.5 223.4,478.4 223.9,478.1 224.3,478.7 224.8,478.5 225.2,478.5 225.7,479.0 226.1,480.0 226.6,480.0 227.1,479.5 227.5,480.1 227.9,479.8 228.4,480.0 228.8,478.5 229.3,479.9 229.8,479.3 230.2,479.3 230.6,479.7 231.1,479.7 231.6,479.5 232.0,480.1 232.4,480.0 232.9,479.8 233.3,480.0 233.8,478.9 234.2,480.1 234.7,479.6 235.1,480.6 235.6,479.7 236.1,480.8 236.5,479.3 236.9,479.7 237.4,480.6 237.8,480.5 238.3,478.8 238.8,479.9 239.2,479.3 239.6,479.8 240.1,478.9 240.6,480.4 241.0,480.3 241.4,479.3 241.9,480.1 242.3,479.7 242.8,479.6 243.2,480.3 243.7,479.6 244.1,479.8 244.6,480.3 245.1,479.8 245.5,480.1 245.9,480.6 246.4,479.7 246.8,479.8 247.3,480.2 247.8,479.8 248.2,480.0 248.6,479.7 249.1,479.4 249.6,479.7 250.0,480.1 250.4,480.8 250.9,480.8 251.3,479.3 251.8,480.3 252.2,480.0 252.7,480.3 253.1,480.5 253.6,479.4 254.1,479.8 254.5,479.9 254.9,480.2 255.4,480.0 255.8,479.7 256.3,480.0 256.8,479.5 257.2,479.8 257.6,480.8 258.1,480.0 258.6,480.0 259.0,480.7 259.4,480.8 259.9,479.6 260.4,480.6 260.8,480.6 261.2,480.8 261.7,480.4" fill="none" stroke="#4e4e4e" stroke-width="0.75" stroke-linejoin="round"/>
<polyline points="154.6,419.5 155.0,423.3 155.5,418.2 155.9,424.0 156.4,430.6 156.8,417.2 157.3,411.6 157.8,420.0 158.2,430.2 158.7,426.9 159.1,415.0 159.5,412.9 160.0,435.3 160.4,422.7 160.9,423.2 161.3,420.6 161.8,430.3 162.2,419.0 162.7,426.3 163.2,422.0 163.6,422.2 164.0,424.5 164.5,428.3 164.9,421.5 165.4,415.8 165.8,423.0 166.3,424.9 166.8,419.5 167.2,418.4 167.7,421.2 168.1,416.7 168.5,412.4 169.0,422.8 169.4,417.5 169.9,417.7 170.3,430.1 170.8,421.3 171.2,417.3 171.7,413.8 172.2,421.9 172.6,421.3 173.0,408.7 173.5,418.2 173.9,419.1 174.4,413.3 174.8,419.8 175.3,413.7 175.8,414.6 176.2,411.0 176.7,408.7 177.1,413.0 177.5,411.0 178.0,411.4 178.4,406.6 178.9,404.4 179.3,404.2 179.8,411.9 180.2,414.0 180.7,408.4 181.2,403.3 181.6,407.8 182.0,404.8 182.5,405.2 182.9,414.6 183.4,419.1 183.8,412.2 184.3,409.7 184.8,404.2 185.2,411.7 185.7,408.2 186.1,412.1 186.5,395.1 187.0,411.3 187.4,417.7 187.9,419.9 188.3,418.7 188.8,410.3 189.2,417.9 189.7,418.8 190.2,414.0 190.6,419.5 191.1,435.3 191.5,425.9 191.9,423.8 192.4,433.8 192.8,430.3 193.3,430.3 193.8,438.5 194.2,436.2 194.7,441.9 195.1,439.1 195.6,446.0 196.0,444.0 196.4,449.9 196.9,447.8 197.3,448.2 197.8,454.7 198.2,458.3 198.7,452.1 199.2,454.3 199.6,457.3 200.1,463.7 200.5,466.2 200.9,462.5 201.4,464.9 201.8,465.7 202.3,465.8 202.8,470.3 203.2,471.2 203.7,469.4 204.1,469.6 204.6,468.8 205.0,472.4 205.4,473.9 205.9,474.5 206.3,473.0 206.8,475.2 207.2,473.8 207.7,472.5 208.2,474.8 208.6,473.0 209.1,474.1 209.5,476.3 209.9,478.1 210.4,475.6 210.8,476.3 211.3,476.3 211.8,479.8 212.2,477.2 212.7,477.6 213.1,476.7 213.6,476.1 214.0,476.3 214.4,478.2 214.9,477.7 215.3,477.8 215.8,478.6 216.2,476.7 216.7,478.8 217.2,478.6 217.6,478.4 218.1,478.3 218.5,479.5 218.9,479.4 219.4,479.2 219.8,479.9 220.3,478.7 220.8,479.1 221.2,479.2 221.6,479.3 222.1,478.2 222.6,477.9 223.0,478.9 223.4,480.0 223.9,479.3 224.3,479.2 224.8,478.3 225.2,479.1 225.7,479.6 226.1,479.0 226.6,479.3 227.1,479.8 227.5,479.8 227.9,479.6 228.4,479.7 228.8,479.4 229.3,479.9 229.8,479.2 230.2,480.0 230.6,479.3 231.1,480.3 231.6,479.4 232.0,480.2 232.4,479.6 232.9,480.7 233.3,480.0 233.8,480.0 234.2,480.6 234.7,480.5 235.1,480.2 235.6,480.8 236.1,480.2 236.5,479.9 236.9,480.4 237.4,479.9 237.8,480.5 238.3,479.4 238.8,479.9 239.2,479.7 239.6,480.3 240.1,480.0 240.6,480.3 241.0,480.3 241.4,479.8 241.9,479.6 242.3,480.6 242.8,480.5 243.2,480.3 243.7,479.6 244.1,480.3 244.6,479.8 245.1,480.0 245.5,480.6 245.9,480.8 246.4,480.5 246.8,479.8 247.3,480.5 247.8,480.3 248.2,479.8 248.6,479.6 249.1,480.8 249.6,480.1 250.0,479.9 250.4,480.1 250.9,480.4 251.3,480.6 251.8,480.5 252.2,480.0 252.7,479.9 253.1,479.7 253.6,480.3 254.1,480.6 254.5,480.3 254.9,479.5 255.4,480.5 255.8,480.2 256.3,480.3 256.8,480.0 257.2,479.4 257.6,479.7 258.1,480.4 258.6,479.8 259.0,480.5 259.4,480.3 259.9,479.5 260.4,480.2 260.8,480.3 261.2,480.3 261.7,480.0" fill="none" stroke="#000" stroke-width="0.95" stroke-linejoin="round"/>
<path d="M154.6,377.7V481.1H262" fill="none" stroke="#000" stroke-width="1.35"/>
<line x1="151.6" x2="154.6" y1="481.10" y2="481.10" stroke="#000" stroke-width="1"/>
<text x="148.40" y="485.70" font-size="10.4" text-anchor="end" >0</text>
<line x1="151.6" x2="154.6" y1="455.38" y2="455.38" stroke="#000" stroke-width="1"/>
<text x="150.20" y="459.98" font-size="10.4" text-anchor="end" >20</text>
<line x1="151.6" x2="154.6" y1="429.65" y2="429.65" stroke="#000" stroke-width="1"/>
<text x="150.20" y="434.25" font-size="10.4" text-anchor="end" >40</text>
<line x1="151.6" x2="154.6" y1="403.93" y2="403.93" stroke="#000" stroke-width="1"/>
<text x="150.20" y="408.53" font-size="10.4" text-anchor="end" >60</text>
<line x1="151.6" x2="154.6" y1="378.20" y2="378.20" stroke="#000" stroke-width="1"/>
<text x="150.20" y="382.80" font-size="10.4" text-anchor="end" >80</text>
<line x1="152.6" x2="154.6" y1="481.10" y2="481.10" stroke="#000" stroke-width="0.6"/>
<line x1="152.6" x2="154.6" y1="478.53" y2="478.53" stroke="#000" stroke-width="0.6"/>
<line x1="152.6" x2="154.6" y1="475.96" y2="475.96" stroke="#000" stroke-width="0.6"/>
<line x1="152.6" x2="154.6" y1="473.38" y2="473.38" stroke="#000" stroke-width="0.6"/>
<line x1="152.6" x2="154.6" y1="470.81" y2="470.81" stroke="#000" stroke-width="0.6"/>
<line x1="152.6" x2="154.6" y1="468.24" y2="468.24" stroke="#000" stroke-width="0.6"/>
<line x1="152.6" x2="154.6" y1="465.67" y2="465.67" stroke="#000" stroke-width="0.6"/>
<line x1="152.6" x2="154.6" y1="463.09" y2="463.09" stroke="#000" stroke-width="0.6"/>
<line x1="152.6" x2="154.6" y1="460.52" y2="460.52" stroke="#000" stroke-width="0.6"/>
<line x1="152.6" x2="154.6" y1="457.95" y2="457.95" stroke="#000" stroke-width="0.6"/>
<line x1="152.6" x2="154.6" y1="455.38" y2="455.38" stroke="#000" stroke-width="0.6"/>
<line x1="152.6" x2="154.6" y1="452.80" y2="452.80" stroke="#000" stroke-width="0.6"/>
<line x1="152.6" x2="154.6" y1="450.23" y2="450.23" stroke="#000" stroke-width="0.6"/>
<line x1="152.6" x2="154.6" y1="447.66" y2="447.66" stroke="#000" stroke-width="0.6"/>
<line x1="152.6" x2="154.6" y1="445.09" y2="445.09" stroke="#000" stroke-width="0.6"/>
<line x1="152.6" x2="154.6" y1="442.51" y2="442.51" stroke="#000" stroke-width="0.6"/>
<line x1="152.6" x2="154.6" y1="439.94" y2="439.94" stroke="#000" stroke-width="0.6"/>
<line x1="152.6" x2="154.6" y1="437.37" y2="437.37" stroke="#000" stroke-width="0.6"/>
<line x1="152.6" x2="154.6" y1="434.80" y2="434.80" stroke="#000" stroke-width="0.6"/>
<line x1="152.6" x2="154.6" y1="432.22" y2="432.22" stroke="#000" stroke-width="0.6"/>
<line x1="152.6" x2="154.6" y1="429.65" y2="429.65" stroke="#000" stroke-width="0.6"/>
<line x1="152.6" x2="154.6" y1="427.08" y2="427.08" stroke="#000" stroke-width="0.6"/>
<line x1="152.6" x2="154.6" y1="424.50" y2="424.50" stroke="#000" stroke-width="0.6"/>
<line x1="152.6" x2="154.6" y1="421.93" y2="421.93" stroke="#000" stroke-width="0.6"/>
<line x1="152.6" x2="154.6" y1="419.36" y2="419.36" stroke="#000" stroke-width="0.6"/>
<line x1="152.6" x2="154.6" y1="416.79" y2="416.79" stroke="#000" stroke-width="0.6"/>
<line x1="152.6" x2="154.6" y1="414.22" y2="414.22" stroke="#000" stroke-width="0.6"/>
<line x1="152.6" x2="154.6" y1="411.64" y2="411.64" stroke="#000" stroke-width="0.6"/>
<line x1="152.6" x2="154.6" y1="409.07" y2="409.07" stroke="#000" stroke-width="0.6"/>
<line x1="152.6" x2="154.6" y1="406.50" y2="406.50" stroke="#000" stroke-width="0.6"/>
<line x1="152.6" x2="154.6" y1="403.93" y2="403.93" stroke="#000" stroke-width="0.6"/>
<line x1="152.6" x2="154.6" y1="401.35" y2="401.35" stroke="#000" stroke-width="0.6"/>
<line x1="152.6" x2="154.6" y1="398.78" y2="398.78" stroke="#000" stroke-width="0.6"/>
<line x1="152.6" x2="154.6" y1="396.21" y2="396.21" stroke="#000" stroke-width="0.6"/>
<line x1="152.6" x2="154.6" y1="393.63" y2="393.63" stroke="#000" stroke-width="0.6"/>
<line x1="152.6" x2="154.6" y1="391.06" y2="391.06" stroke="#000" stroke-width="0.6"/>
<line x1="152.6" x2="154.6" y1="388.49" y2="388.49" stroke="#000" stroke-width="0.6"/>
<line x1="152.6" x2="154.6" y1="385.92" y2="385.92" stroke="#000" stroke-width="0.6"/>
<line x1="152.6" x2="154.6" y1="383.35" y2="383.35" stroke="#000" stroke-width="0.6"/>
<line x1="152.6" x2="154.6" y1="380.77" y2="380.77" stroke="#000" stroke-width="0.6"/>
<line x1="152.6" x2="154.6" y1="378.20" y2="378.20" stroke="#000" stroke-width="0.6"/>
<line x1="154.60" x2="154.60" y1="481.1" y2="483.70000000000005" stroke="#000" stroke-width="0.9"/>
<text x="156.00" y="492.30" font-size="10.4" text-anchor="middle">10<tspan dy="-4.2" font-size="7.1">0</tspan></text>
<line x1="162.68" x2="162.68" y1="481.1" y2="482.6" stroke="#000" stroke-width="0.45"/>
<line x1="167.41" x2="167.41" y1="481.1" y2="482.6" stroke="#000" stroke-width="0.45"/>
<line x1="170.77" x2="170.77" y1="481.1" y2="482.6" stroke="#000" stroke-width="0.45"/>
<line x1="173.37" x2="173.37" y1="481.1" y2="482.6" stroke="#000" stroke-width="0.45"/>
<line x1="175.49" x2="175.49" y1="481.1" y2="482.6" stroke="#000" stroke-width="0.45"/>
<line x1="177.29" x2="177.29" y1="481.1" y2="482.6" stroke="#000" stroke-width="0.45"/>
<line x1="178.85" x2="178.85" y1="481.1" y2="482.6" stroke="#000" stroke-width="0.45"/>
<line x1="180.22" x2="180.22" y1="481.1" y2="482.6" stroke="#000" stroke-width="0.45"/>
<line x1="181.45" x2="181.45" y1="481.1" y2="483.70000000000005" stroke="#000" stroke-width="0.9"/>
<text x="182.15" y="492.30" font-size="10.4" text-anchor="middle">10<tspan dy="-4.2" font-size="7.1">1</tspan></text>
<line x1="189.53" x2="189.53" y1="481.1" y2="482.6" stroke="#000" stroke-width="0.45"/>
<line x1="194.26" x2="194.26" y1="481.1" y2="482.6" stroke="#000" stroke-width="0.45"/>
<line x1="197.62" x2="197.62" y1="481.1" y2="482.6" stroke="#000" stroke-width="0.45"/>
<line x1="200.22" x2="200.22" y1="481.1" y2="482.6" stroke="#000" stroke-width="0.45"/>
<line x1="202.34" x2="202.34" y1="481.1" y2="482.6" stroke="#000" stroke-width="0.45"/>
<line x1="204.14" x2="204.14" y1="481.1" y2="482.6" stroke="#000" stroke-width="0.45"/>
<line x1="205.70" x2="205.70" y1="481.1" y2="482.6" stroke="#000" stroke-width="0.45"/>
<line x1="207.07" x2="207.07" y1="481.1" y2="482.6" stroke="#000" stroke-width="0.45"/>
<line x1="208.30" x2="208.30" y1="481.1" y2="483.70000000000005" stroke="#000" stroke-width="0.9"/>
<text x="209.40" y="492.30" font-size="10.4" text-anchor="middle">10<tspan dy="-4.2" font-size="7.1">2</tspan></text>
<line x1="216.38" x2="216.38" y1="481.1" y2="482.6" stroke="#000" stroke-width="0.45"/>
<line x1="221.11" x2="221.11" y1="481.1" y2="482.6" stroke="#000" stroke-width="0.45"/>
<line x1="224.47" x2="224.47" y1="481.1" y2="482.6" stroke="#000" stroke-width="0.45"/>
<line x1="227.07" x2="227.07" y1="481.1" y2="482.6" stroke="#000" stroke-width="0.45"/>
<line x1="229.19" x2="229.19" y1="481.1" y2="482.6" stroke="#000" stroke-width="0.45"/>
<line x1="230.99" x2="230.99" y1="481.1" y2="482.6" stroke="#000" stroke-width="0.45"/>
<line x1="232.55" x2="232.55" y1="481.1" y2="482.6" stroke="#000" stroke-width="0.45"/>
<line x1="233.92" x2="233.92" y1="481.1" y2="482.6" stroke="#000" stroke-width="0.45"/>
<line x1="235.15" x2="235.15" y1="481.1" y2="483.70000000000005" stroke="#000" stroke-width="0.9"/>
<text x="236.05" y="492.30" font-size="10.4" text-anchor="middle">10<tspan dy="-4.2" font-size="7.1">3</tspan></text>
<line x1="243.23" x2="243.23" y1="481.1" y2="482.6" stroke="#000" stroke-width="0.45"/>
<line x1="247.96" x2="247.96" y1="481.1" y2="482.6" stroke="#000" stroke-width="0.45"/>
<line x1="251.32" x2="251.32" y1="481.1" y2="482.6" stroke="#000" stroke-width="0.45"/>
<line x1="253.92" x2="253.92" y1="481.1" y2="482.6" stroke="#000" stroke-width="0.45"/>
<line x1="256.04" x2="256.04" y1="481.1" y2="482.6" stroke="#000" stroke-width="0.45"/>
<line x1="257.84" x2="257.84" y1="481.1" y2="482.6" stroke="#000" stroke-width="0.45"/>
<line x1="259.40" x2="259.40" y1="481.1" y2="482.6" stroke="#000" stroke-width="0.45"/>
<line x1="260.77" x2="260.77" y1="481.1" y2="482.6" stroke="#000" stroke-width="0.45"/>
<line x1="262.00" x2="262.00" y1="481.1" y2="483.70000000000005" stroke="#000" stroke-width="0.9"/>
<text x="259.60" y="492.30" font-size="10.4" text-anchor="middle">10<tspan dy="-4.2" font-size="7.1">4</tspan></text>
<text x="208.30" y="504.90" font-size="11.5" text-anchor="middle" >PE</text>
<text x="236.50" y="388.50" font-size="11.5" text-anchor="middle" >30 sec</text>
<text x="215.60" y="453.00" font-size="11.5" text-anchor="middle" >Act</text>
<text x="185.10" y="465.50" font-size="11.5" text-anchor="middle" >NA</text>
<path d="M287,377.3H391.2V481.2" fill="none" stroke="#666" stroke-width="1.1"/>
<polyline points="287.0,420.2 287.4,423.9 287.9,426.2 288.4,436.3 288.8,432.9 289.2,442.1 289.7,435.3 290.1,429.9 290.6,438.7 291.1,434.9 291.5,433.4 291.9,428.6 292.4,432.5 292.9,434.8 293.3,434.1 293.8,430.7 294.2,436.5 294.6,439.4 295.1,439.8 295.6,436.5 296.0,437.8 296.4,434.2 296.9,435.1 297.4,435.1 297.8,440.9 298.2,440.8 298.7,440.2 299.1,433.5 299.6,440.6 300.1,439.1 300.5,443.9 300.9,438.3 301.4,437.0 301.9,432.0 302.3,437.7 302.8,424.1 303.2,436.5 303.6,429.7 304.1,432.8 304.6,432.0 305.0,432.6 305.4,424.7 305.9,430.1 306.4,429.7 306.8,432.8 307.2,427.2 307.7,424.9 308.1,424.1 308.6,425.5 309.1,423.7 309.5,422.8 309.9,418.6 310.4,417.8 310.9,413.4 311.3,416.4 311.8,422.8 312.2,421.3 312.6,414.7 313.1,420.6 313.6,413.6 314.0,407.6 314.4,411.9 314.9,414.0 315.4,421.6 315.8,414.8 316.2,405.0 316.7,408.8 317.1,415.8 317.6,417.5 318.1,422.7 318.5,418.2 318.9,419.3 319.4,420.1 319.9,423.5 320.3,423.6 320.8,423.9 321.2,425.5 321.6,427.6 322.1,412.8 322.6,423.6 323.0,426.8 323.4,428.5 323.9,419.9 324.4,425.4 324.8,422.8 325.2,426.6 325.7,427.4 326.1,430.9 326.6,433.5 327.1,439.4 327.5,435.3 327.9,436.0 328.4,435.8 328.9,438.2 329.3,440.4 329.8,433.3 330.2,444.2 330.6,444.7 331.1,444.3 331.6,436.8 332.0,436.8 332.4,443.9 332.9,442.8 333.4,446.2 333.8,443.9 334.2,451.9 334.7,444.6 335.1,451.3 335.6,450.8 336.1,455.2 336.5,456.3 336.9,453.4 337.4,458.0 337.9,459.1 338.3,456.5 338.8,465.5 339.2,461.9 339.6,463.3 340.1,463.8 340.6,465.6 341.0,465.1 341.4,464.0 341.9,466.3 342.4,466.9 342.8,466.0 343.2,468.0 343.7,463.9 344.1,469.3 344.6,470.9 345.1,471.2 345.5,469.1 345.9,471.7 346.4,469.0 346.9,470.7 347.3,471.3 347.8,474.0 348.2,472.6 348.6,472.8 349.1,471.0 349.6,472.9 350.0,472.2 350.4,471.6 350.9,472.6 351.4,472.6 351.8,474.4 352.2,477.2 352.7,475.8 353.1,474.1 353.6,477.4 354.1,476.3 354.5,477.8 354.9,480.1 355.4,477.9 355.9,479.4 356.3,477.4 356.8,479.4 357.2,479.1 357.6,478.3 358.1,478.7 358.6,479.1 359.0,477.5 359.4,478.5 359.9,479.8 360.4,479.5 360.8,478.3 361.2,478.6 361.7,478.9 362.1,480.3 362.6,480.1 363.1,479.5 363.5,479.4 363.9,478.5 364.4,478.9 364.9,479.1 365.3,478.9 365.8,480.3 366.2,479.7 366.6,480.1 367.1,479.4 367.6,478.9 368.0,479.6 368.4,480.1 368.9,479.0 369.4,480.3 369.8,480.3 370.2,479.8 370.7,479.3 371.1,479.7 371.6,479.8 372.1,479.2 372.5,480.1 372.9,480.2 373.4,479.6 373.9,479.3 374.3,479.5 374.8,479.0 375.2,479.3 375.6,479.8 376.1,480.5 376.6,480.4 377.0,479.6 377.4,480.9 377.9,480.2 378.4,480.0 378.8,479.7 379.2,479.8 379.7,479.8 380.1,480.9 380.6,480.0 381.1,480.8 381.5,479.5 381.9,480.2 382.4,480.0 382.9,480.3 383.3,480.3 383.8,479.5 384.2,479.5 384.6,480.0 385.1,480.0 385.6,480.1 386.0,480.2 386.4,480.2 386.9,479.7 387.4,480.2 387.8,480.0 388.2,480.4 388.7,480.5 389.1,480.5 389.6,480.3 390.1,479.8 390.5,479.9 390.9,479.8" fill="none" stroke="#4e4e4e" stroke-width="0.75" stroke-linejoin="round"/>
<polyline points="287.0,415.4 287.4,422.9 287.9,420.5 288.4,436.0 288.8,424.1 289.2,422.2 289.7,421.8 290.1,417.1 290.6,428.8 291.1,426.7 291.5,423.3 291.9,427.7 292.4,433.0 292.9,424.6 293.3,424.7 293.8,426.7 294.2,425.0 294.6,422.5 295.1,433.9 295.6,429.5 296.0,432.9 296.4,432.7 296.9,428.7 297.4,426.3 297.8,428.8 298.2,432.8 298.7,428.1 299.1,430.1 299.6,428.2 300.1,428.4 300.5,423.9 300.9,420.8 301.4,425.3 301.9,426.3 302.3,416.6 302.8,418.4 303.2,417.6 303.6,410.9 304.1,413.0 304.6,409.4 305.0,418.6 305.4,418.3 305.9,413.8 306.4,409.9 306.8,409.7 307.2,411.0 307.7,415.3 308.1,411.2 308.6,398.2 309.1,411.2 309.5,407.8 309.9,410.5 310.4,418.5 310.9,411.9 311.3,408.3 311.8,410.8 312.2,396.7 312.6,399.1 313.1,406.7 313.6,405.7 314.0,408.6 314.4,400.1 314.9,412.2 315.4,412.5 315.8,407.1 316.2,406.4 316.7,411.1 317.1,408.5 317.6,406.8 318.1,409.1 318.5,416.0 318.9,411.1 319.4,403.4 319.9,414.8 320.3,417.9 320.8,411.1 321.2,416.4 321.6,417.6 322.1,417.6 322.6,420.8 323.0,440.0 323.4,423.4 323.9,435.7 324.4,433.4 324.8,430.3 325.2,439.3 325.7,438.1 326.1,446.5 326.6,446.0 327.1,444.1 327.5,448.8 327.9,455.5 328.4,452.1 328.9,454.6 329.3,456.8 329.8,462.6 330.2,459.8 330.6,462.4 331.1,459.7 331.6,466.8 332.0,465.2 332.4,464.6 332.9,469.3 333.4,469.4 333.8,469.4 334.2,470.9 334.7,467.9 335.1,473.6 335.6,471.8 336.1,470.8 336.5,476.8 336.9,474.1 337.4,474.4 337.9,474.6 338.3,475.6 338.8,476.0 339.2,476.5 339.6,478.0 340.1,477.5 340.6,476.8 341.0,478.9 341.4,477.2 341.9,479.7 342.4,476.6 342.8,477.9 343.2,477.4 343.7,478.1 344.1,478.2 344.6,478.1 345.1,478.3 345.5,478.5 345.9,478.6 346.4,478.2 346.9,478.5 347.3,478.0 347.8,479.4 348.2,479.0 348.6,480.2 349.1,478.5 349.6,479.3 350.0,479.4 350.4,479.0 350.9,479.2 351.4,480.0 351.8,478.8 352.2,478.9 352.7,479.5 353.1,479.3 353.6,480.4 354.1,479.5 354.5,479.8 354.9,479.1 355.4,480.2 355.9,479.2 356.3,480.1 356.8,479.7 357.2,478.9 357.6,480.0 358.1,479.3 358.6,479.7 359.0,479.3 359.4,479.7 359.9,479.5 360.4,479.9 360.8,479.9 361.2,479.8 361.7,480.9 362.1,477.9 362.6,480.3 363.1,480.5 363.5,480.0 363.9,479.6 364.4,480.9 364.9,480.1 365.3,480.4 365.8,480.9 366.2,480.0 366.6,479.8 367.1,480.2 367.6,480.5 368.0,480.6 368.4,479.5 368.9,480.5 369.4,480.6 369.8,480.0 370.2,480.2 370.7,479.7 371.1,480.2 371.6,480.1 372.1,480.3 372.5,480.9 372.9,480.2 373.4,480.8 373.9,479.4 374.3,480.5 374.8,480.4 375.2,479.4 375.6,480.3 376.1,480.3 376.6,480.3 377.0,480.2 377.4,480.1 377.9,479.9 378.4,480.5 378.8,479.7 379.2,480.0 379.7,480.4 380.1,480.6 380.6,480.5 381.1,480.1 381.5,480.3 381.9,480.6 382.4,480.2 382.9,480.8 383.3,480.9 383.8,480.4 384.2,479.7 384.6,480.4 385.1,480.2 385.6,480.9 386.0,479.8 386.4,480.4 386.9,480.7 387.4,480.7 387.8,480.8 388.2,480.9 388.7,479.9 389.1,480.1 389.6,480.1 390.1,480.9 390.5,480.2 390.9,480.1" fill="none" stroke="#000" stroke-width="0.95" stroke-linejoin="round"/>
<path d="M287,376.8V481.2H391.2" fill="none" stroke="#000" stroke-width="1.35"/>
<line x1="284.0" x2="287" y1="481.20" y2="481.20" stroke="#000" stroke-width="1"/>
<text x="280.60" y="484.30" font-size="10.4" text-anchor="end" >0</text>
<line x1="284.0" x2="287" y1="455.23" y2="455.23" stroke="#000" stroke-width="1"/>
<text x="283.00" y="458.33" font-size="10.4" text-anchor="end" >20</text>
<line x1="284.0" x2="287" y1="429.25" y2="429.25" stroke="#000" stroke-width="1"/>
<text x="283.00" y="432.35" font-size="10.4" text-anchor="end" >40</text>
<line x1="284.0" x2="287" y1="403.27" y2="403.27" stroke="#000" stroke-width="1"/>
<text x="283.00" y="406.38" font-size="10.4" text-anchor="end" >60</text>
<line x1="284.0" x2="287" y1="377.30" y2="377.30" stroke="#000" stroke-width="1"/>
<text x="283.00" y="380.40" font-size="10.4" text-anchor="end" >80</text>
<line x1="285.0" x2="287" y1="481.20" y2="481.20" stroke="#000" stroke-width="0.6"/>
<line x1="285.0" x2="287" y1="478.60" y2="478.60" stroke="#000" stroke-width="0.6"/>
<line x1="285.0" x2="287" y1="476.00" y2="476.00" stroke="#000" stroke-width="0.6"/>
<line x1="285.0" x2="287" y1="473.41" y2="473.41" stroke="#000" stroke-width="0.6"/>
<line x1="285.0" x2="287" y1="470.81" y2="470.81" stroke="#000" stroke-width="0.6"/>
<line x1="285.0" x2="287" y1="468.21" y2="468.21" stroke="#000" stroke-width="0.6"/>
<line x1="285.0" x2="287" y1="465.62" y2="465.62" stroke="#000" stroke-width="0.6"/>
<line x1="285.0" x2="287" y1="463.02" y2="463.02" stroke="#000" stroke-width="0.6"/>
<line x1="285.0" x2="287" y1="460.42" y2="460.42" stroke="#000" stroke-width="0.6"/>
<line x1="285.0" x2="287" y1="457.82" y2="457.82" stroke="#000" stroke-width="0.6"/>
<line x1="285.0" x2="287" y1="455.23" y2="455.23" stroke="#000" stroke-width="0.6"/>
<line x1="285.0" x2="287" y1="452.63" y2="452.63" stroke="#000" stroke-width="0.6"/>
<line x1="285.0" x2="287" y1="450.03" y2="450.03" stroke="#000" stroke-width="0.6"/>
<line x1="285.0" x2="287" y1="447.43" y2="447.43" stroke="#000" stroke-width="0.6"/>
<line x1="285.0" x2="287" y1="444.83" y2="444.83" stroke="#000" stroke-width="0.6"/>
<line x1="285.0" x2="287" y1="442.24" y2="442.24" stroke="#000" stroke-width="0.6"/>
<line x1="285.0" x2="287" y1="439.64" y2="439.64" stroke="#000" stroke-width="0.6"/>
<line x1="285.0" x2="287" y1="437.04" y2="437.04" stroke="#000" stroke-width="0.6"/>
<line x1="285.0" x2="287" y1="434.44" y2="434.44" stroke="#000" stroke-width="0.6"/>
<line x1="285.0" x2="287" y1="431.85" y2="431.85" stroke="#000" stroke-width="0.6"/>
<line x1="285.0" x2="287" y1="429.25" y2="429.25" stroke="#000" stroke-width="0.6"/>
<line x1="285.0" x2="287" y1="426.65" y2="426.65" stroke="#000" stroke-width="0.6"/>
<line x1="285.0" x2="287" y1="424.06" y2="424.06" stroke="#000" stroke-width="0.6"/>
<line x1="285.0" x2="287" y1="421.46" y2="421.46" stroke="#000" stroke-width="0.6"/>
<line x1="285.0" x2="287" y1="418.86" y2="418.86" stroke="#000" stroke-width="0.6"/>
<line x1="285.0" x2="287" y1="416.26" y2="416.26" stroke="#000" stroke-width="0.6"/>
<line x1="285.0" x2="287" y1="413.67" y2="413.67" stroke="#000" stroke-width="0.6"/>
<line x1="285.0" x2="287" y1="411.07" y2="411.07" stroke="#000" stroke-width="0.6"/>
<line x1="285.0" x2="287" y1="408.47" y2="408.47" stroke="#000" stroke-width="0.6"/>
<line x1="285.0" x2="287" y1="405.87" y2="405.87" stroke="#000" stroke-width="0.6"/>
<line x1="285.0" x2="287" y1="403.27" y2="403.27" stroke="#000" stroke-width="0.6"/>
<line x1="285.0" x2="287" y1="400.68" y2="400.68" stroke="#000" stroke-width="0.6"/>
<line x1="285.0" x2="287" y1="398.08" y2="398.08" stroke="#000" stroke-width="0.6"/>
<line x1="285.0" x2="287" y1="395.48" y2="395.48" stroke="#000" stroke-width="0.6"/>
<line x1="285.0" x2="287" y1="392.88" y2="392.88" stroke="#000" stroke-width="0.6"/>
<line x1="285.0" x2="287" y1="390.29" y2="390.29" stroke="#000" stroke-width="0.6"/>
<line x1="285.0" x2="287" y1="387.69" y2="387.69" stroke="#000" stroke-width="0.6"/>
<line x1="285.0" x2="287" y1="385.09" y2="385.09" stroke="#000" stroke-width="0.6"/>
<line x1="285.0" x2="287" y1="382.50" y2="382.50" stroke="#000" stroke-width="0.6"/>
<line x1="285.0" x2="287" y1="379.90" y2="379.90" stroke="#000" stroke-width="0.6"/>
<line x1="285.0" x2="287" y1="377.30" y2="377.30" stroke="#000" stroke-width="0.6"/>
<line x1="287.00" x2="287.00" y1="481.2" y2="483.8" stroke="#000" stroke-width="0.9"/>
<text x="289.00" y="492.30" font-size="10.4" text-anchor="middle">10<tspan dy="-4.2" font-size="7.1">0</tspan></text>
<line x1="294.84" x2="294.84" y1="481.2" y2="482.7" stroke="#000" stroke-width="0.45"/>
<line x1="299.43" x2="299.43" y1="481.2" y2="482.7" stroke="#000" stroke-width="0.45"/>
<line x1="302.68" x2="302.68" y1="481.2" y2="482.7" stroke="#000" stroke-width="0.45"/>
<line x1="305.21" x2="305.21" y1="481.2" y2="482.7" stroke="#000" stroke-width="0.45"/>
<line x1="307.27" x2="307.27" y1="481.2" y2="482.7" stroke="#000" stroke-width="0.45"/>
<line x1="309.01" x2="309.01" y1="481.2" y2="482.7" stroke="#000" stroke-width="0.45"/>
<line x1="310.53" x2="310.53" y1="481.2" y2="482.7" stroke="#000" stroke-width="0.45"/>
<line x1="311.86" x2="311.86" y1="481.2" y2="482.7" stroke="#000" stroke-width="0.45"/>
<line x1="313.05" x2="313.05" y1="481.2" y2="483.8" stroke="#000" stroke-width="0.9"/>
<text x="315.05" y="492.30" font-size="10.4" text-anchor="middle">10<tspan dy="-4.2" font-size="7.1">1</tspan></text>
<line x1="320.89" x2="320.89" y1="481.2" y2="482.7" stroke="#000" stroke-width="0.45"/>
<line x1="325.48" x2="325.48" y1="481.2" y2="482.7" stroke="#000" stroke-width="0.45"/>
<line x1="328.73" x2="328.73" y1="481.2" y2="482.7" stroke="#000" stroke-width="0.45"/>
<line x1="331.26" x2="331.26" y1="481.2" y2="482.7" stroke="#000" stroke-width="0.45"/>
<line x1="333.32" x2="333.32" y1="481.2" y2="482.7" stroke="#000" stroke-width="0.45"/>
<line x1="335.06" x2="335.06" y1="481.2" y2="482.7" stroke="#000" stroke-width="0.45"/>
<line x1="336.58" x2="336.58" y1="481.2" y2="482.7" stroke="#000" stroke-width="0.45"/>
<line x1="337.91" x2="337.91" y1="481.2" y2="482.7" stroke="#000" stroke-width="0.45"/>
<line x1="339.10" x2="339.10" y1="481.2" y2="483.8" stroke="#000" stroke-width="0.9"/>
<text x="340.80" y="492.30" font-size="10.4" text-anchor="middle">10<tspan dy="-4.2" font-size="7.1">2</tspan></text>
<line x1="346.94" x2="346.94" y1="481.2" y2="482.7" stroke="#000" stroke-width="0.45"/>
<line x1="351.53" x2="351.53" y1="481.2" y2="482.7" stroke="#000" stroke-width="0.45"/>
<line x1="354.78" x2="354.78" y1="481.2" y2="482.7" stroke="#000" stroke-width="0.45"/>
<line x1="357.31" x2="357.31" y1="481.2" y2="482.7" stroke="#000" stroke-width="0.45"/>
<line x1="359.37" x2="359.37" y1="481.2" y2="482.7" stroke="#000" stroke-width="0.45"/>
<line x1="361.11" x2="361.11" y1="481.2" y2="482.7" stroke="#000" stroke-width="0.45"/>
<line x1="362.63" x2="362.63" y1="481.2" y2="482.7" stroke="#000" stroke-width="0.45"/>
<line x1="363.96" x2="363.96" y1="481.2" y2="482.7" stroke="#000" stroke-width="0.45"/>
<line x1="365.15" x2="365.15" y1="481.2" y2="483.8" stroke="#000" stroke-width="0.9"/>
<text x="366.95" y="492.30" font-size="10.4" text-anchor="middle">10<tspan dy="-4.2" font-size="7.1">3</tspan></text>
<line x1="372.99" x2="372.99" y1="481.2" y2="482.7" stroke="#000" stroke-width="0.45"/>
<line x1="377.58" x2="377.58" y1="481.2" y2="482.7" stroke="#000" stroke-width="0.45"/>
<line x1="380.83" x2="380.83" y1="481.2" y2="482.7" stroke="#000" stroke-width="0.45"/>
<line x1="383.36" x2="383.36" y1="481.2" y2="482.7" stroke="#000" stroke-width="0.45"/>
<line x1="385.42" x2="385.42" y1="481.2" y2="482.7" stroke="#000" stroke-width="0.45"/>
<line x1="387.16" x2="387.16" y1="481.2" y2="482.7" stroke="#000" stroke-width="0.45"/>
<line x1="388.68" x2="388.68" y1="481.2" y2="482.7" stroke="#000" stroke-width="0.45"/>
<line x1="390.01" x2="390.01" y1="481.2" y2="482.7" stroke="#000" stroke-width="0.45"/>
<line x1="391.20" x2="391.20" y1="481.2" y2="483.8" stroke="#000" stroke-width="0.9"/>
<text x="389.80" y="492.30" font-size="10.4" text-anchor="middle">10<tspan dy="-4.2" font-size="7.1">4</tspan></text>
<text x="339.10" y="504.90" font-size="11.5" text-anchor="middle" >PE</text>
<text x="365.70" y="388.50" font-size="11.5" text-anchor="middle" >60 sec</text>
<text x="348.00" y="453.00" font-size="11.5" text-anchor="middle" >Act</text>
<text x="315.50" y="465.50" font-size="11.5" text-anchor="middle" >NA</text>
<line x1="435.25" x2="435.25" y1="460.46" y2="450.43" stroke="#000" stroke-width="1.5"/>
<line x1="431.25" x2="439.25" y1="450.43" y2="450.43" stroke="#000" stroke-width="1.4"/>
<rect x="427.50" y="460.46" width="15.50" height="44.54" fill="#fff" stroke="#000" stroke-width="1.5"/>
<line x1="457.75" x2="457.75" y1="438.79" y2="430.37" stroke="#000" stroke-width="1.5"/>
<line x1="453.75" x2="461.75" y1="430.37" y2="430.37" stroke="#000" stroke-width="1.4"/>
<rect x="450.00" y="438.79" width="15.50" height="66.21" fill="#fff" stroke="#000" stroke-width="1.5"/>
<line x1="480.75" x2="480.75" y1="409.90" y2="384.62" stroke="#000" stroke-width="1.5"/>
<line x1="476.75" x2="484.75" y1="384.62" y2="384.62" stroke="#000" stroke-width="1.4"/>
<rect x="473.00" y="409.90" width="15.50" height="95.10" fill="#fff" stroke="#000" stroke-width="1.5"/>
<line x1="503.75" x2="503.75" y1="417.13" y2="393.85" stroke="#000" stroke-width="1.5"/>
<line x1="499.75" x2="507.75" y1="393.85" y2="393.85" stroke="#000" stroke-width="1.4"/>
<rect x="496.00" y="417.13" width="15.50" height="87.87" fill="#fff" stroke="#000" stroke-width="1.5"/>
<path d="M423.8,344.0V505H514.5" fill="none" stroke="#000" stroke-width="1.8"/>
<line x1="420.3" x2="423.8" y1="505.00" y2="505.00" stroke="#000" stroke-width="1.2"/>
<text x="419.80" y="509.10" font-size="11.5" text-anchor="end" textLength="5.5" lengthAdjust="spacingAndGlyphs">0</text>
<line x1="420.3" x2="423.8" y1="464.88" y2="464.88" stroke="#000" stroke-width="1.2"/>
<text x="419.80" y="468.98" font-size="11.5" text-anchor="end" textLength="11.0" lengthAdjust="spacingAndGlyphs">10</text>
<line x1="420.3" x2="423.8" y1="424.75" y2="424.75" stroke="#000" stroke-width="1.2"/>
<text x="419.80" y="428.85" font-size="11.5" text-anchor="end" textLength="11.0" lengthAdjust="spacingAndGlyphs">20</text>
<line x1="420.3" x2="423.8" y1="384.62" y2="384.62" stroke="#000" stroke-width="1.2"/>
<text x="419.80" y="388.73" font-size="11.5" text-anchor="end" textLength="11.0" lengthAdjust="spacingAndGlyphs">30</text>
<line x1="420.3" x2="423.8" y1="344.50" y2="344.50" stroke="#000" stroke-width="1.2"/>
<text x="419.80" y="348.60" font-size="11.5" text-anchor="end" textLength="11.0" lengthAdjust="spacingAndGlyphs">40</text>
<text transform="translate(404.00,426.00) rotate(-90)" font-size="11.3" text-anchor="middle">MFI</text>
<path d="M426.00,417.00 C426.00,413.43 429.07,410.50 432.82,410.50 H456.18 C459.93,410.50 463.00,413.43 463.00,417.00" fill="none" stroke="#000" stroke-width="1.5" stroke-linecap="round"/>
<text x="445.50" y="406.00" font-size="10.6" text-anchor="middle" >P=0.043</text>
<path d="M426.00,382.50 C426.00,378.65 429.31,375.50 433.35,375.50 H479.15 C483.19,375.50 486.50,378.65 486.50,382.50" fill="none" stroke="#000" stroke-width="1.5" stroke-linecap="round"/>
<text x="451.00" y="371.30" font-size="10.6" text-anchor="middle" >P=0.033</text>
<path d="M426.00,363.00 C426.00,358.32 430.02,354.50 434.93,354.50 H501.07 C505.98,354.50 510.00,358.32 510.00,363.00" fill="none" stroke="#000" stroke-width="1.5" stroke-linecap="round"/>
<text x="464.50" y="350.50" font-size="10.6" text-anchor="middle" >P=0.038</text>
<text x="435.50" y="516.60" font-size="10.4" text-anchor="middle" >0</text>
<text x="457.50" y="516.60" font-size="10.4" text-anchor="middle" >15</text>
<text x="481.00" y="516.60" font-size="10.4" text-anchor="middle" >30</text>
<text x="503.70" y="516.60" font-size="10.4" text-anchor="middle" >60</text>
<text x="469.50" y="528.60" font-size="11.8" text-anchor="middle" >Time (sec)</text>
<text x="0.50" y="554.00" font-size="13.5" text-anchor="start" >F</text>
<text x="142.50" y="573.50" font-size="11.8" text-anchor="middle" >Convulxin</text>
<path d="M30,588.4H135.5V688.8" fill="none" stroke="#777" stroke-width="1.1"/>
<polyline points="30.0,610.9 30.4,602.8 30.9,610.1 31.4,597.0 31.8,614.5 32.2,607.6 32.7,604.6 33.1,620.8 33.6,618.9 34.0,615.0 34.5,622.7 35.0,600.7 35.4,628.4 35.9,628.8 36.3,623.6 36.8,628.5 37.2,616.9 37.6,635.2 38.1,619.1 38.5,623.5 39.0,623.9 39.5,633.3 39.9,632.6 40.4,631.8 40.8,622.8 41.2,617.6 41.7,619.1 42.1,637.8 42.6,615.2 43.0,633.5 43.5,613.0 44.0,611.0 44.4,627.1 44.9,614.7 45.3,628.9 45.8,629.3 46.2,627.3 46.7,615.4 47.1,626.9 47.5,619.8 48.0,614.5 48.5,610.8 48.9,608.0 49.4,611.7 49.8,614.4 50.2,613.7 50.7,613.4 51.2,618.3 51.6,611.5 52.0,616.7 52.5,629.4 53.0,615.4 53.4,617.4 53.9,614.6 54.3,620.5 54.8,620.2 55.2,619.8 55.7,613.2 56.1,628.8 56.5,611.2 57.0,621.0 57.5,613.3 57.9,626.5 58.4,621.9 58.8,622.2 59.2,610.9 59.7,603.3 60.2,629.7 60.6,618.5 61.0,617.6 61.5,621.1 62.0,624.0 62.4,623.2 62.9,614.7 63.3,624.7 63.8,617.6 64.2,620.8 64.7,617.7 65.1,620.0 65.6,626.3 66.0,618.8 66.5,614.9 66.9,612.4 67.3,623.0 67.8,611.5 68.2,612.8 68.7,621.4 69.2,628.5 69.6,626.8 70.1,620.5 70.5,611.6 71.0,627.0 71.4,623.7 71.8,640.5 72.3,618.5 72.8,622.2 73.2,632.8 73.7,628.2 74.1,638.4 74.6,639.9 75.0,638.7 75.5,638.9 75.9,637.5 76.3,641.5 76.8,649.1 77.2,649.7 77.7,647.2 78.2,659.5 78.6,658.2 79.1,652.6 79.5,661.0 80.0,664.9 80.4,666.9 80.8,663.8 81.3,665.7 81.8,665.0 82.2,668.3 82.7,672.4 83.1,671.6 83.6,670.9 84.0,673.1 84.5,670.8 84.9,677.2 85.3,676.1 85.8,682.3 86.2,675.8 86.7,681.5 87.2,677.4 87.6,681.2 88.1,675.6 88.5,677.0 89.0,680.0 89.4,678.8 89.8,678.8 90.3,680.1 90.8,683.9 91.2,684.1 91.7,679.4 92.1,684.3 92.6,683.6 93.0,682.9 93.5,685.8 93.9,683.9 94.4,685.2 94.8,684.7 95.2,684.8 95.7,686.7 96.2,685.7 96.6,685.4 97.0,683.8 97.5,684.5 98.0,685.3 98.4,682.3 98.9,682.6 99.3,684.1 99.8,686.5 100.2,684.7 100.7,686.5 101.1,686.2 101.5,686.2 102.0,688.5 102.5,685.6 102.9,687.2 103.4,686.0 103.8,685.9 104.2,685.2 104.7,686.4 105.2,683.7 105.6,688.0 106.0,686.2 106.5,686.5 107.0,685.3 107.4,687.2 107.9,687.2 108.3,687.5 108.8,687.0 109.2,687.6 109.7,686.4 110.1,687.6 110.5,685.9 111.0,686.3 111.5,685.8 111.9,687.5 112.4,687.6 112.8,687.7 113.2,688.1 113.7,686.5 114.2,687.3 114.6,688.2 115.0,687.3 115.5,687.8 116.0,686.6 116.4,687.1 116.9,686.8 117.3,686.0 117.8,685.0 118.2,686.4 118.7,685.4 119.1,687.6 119.5,688.1 120.0,687.0 120.5,687.6 120.9,688.0 121.4,687.3 121.8,686.9 122.2,687.3 122.7,687.1 123.2,687.2 123.6,686.6 124.0,687.7 124.5,688.5 125.0,688.5 125.4,688.2 125.9,688.1 126.3,688.4 126.8,687.6 127.2,687.1 127.7,687.5 128.1,687.5 128.6,687.3 129.0,687.1 129.4,688.4 129.9,687.0 130.4,688.4 130.8,687.4 131.2,687.1 131.7,687.4 132.2,687.9 132.6,688.4 133.1,687.6 133.5,688.2 133.9,688.5 134.4,687.9 134.9,688.5 135.3,687.0" fill="none" stroke="#909090" stroke-width="0.85" stroke-linejoin="round"/>
<polyline points="30.0,617.7 30.4,623.8 30.9,636.3 31.4,620.6 31.8,615.8 32.2,611.4 32.7,620.8 33.1,621.7 33.6,632.0 34.0,621.4 34.5,622.5 35.0,626.6 35.4,626.5 35.9,634.2 36.3,628.5 36.8,635.9 37.2,636.9 37.6,640.5 38.1,640.4 38.5,638.2 39.0,636.7 39.5,629.7 39.9,641.9 40.4,637.5 40.8,644.2 41.2,644.4 41.7,635.8 42.1,642.9 42.6,642.2 43.0,642.5 43.5,645.1 44.0,641.1 44.4,646.6 44.9,635.5 45.3,625.4 45.8,640.3 46.2,648.7 46.7,643.7 47.1,628.0 47.5,644.4 48.0,637.9 48.5,629.9 48.9,632.9 49.4,636.9 49.8,637.2 50.2,636.6 50.7,638.7 51.2,629.3 51.6,633.8 52.0,644.7 52.5,650.1 53.0,633.6 53.4,629.7 53.9,636.2 54.3,628.0 54.8,640.1 55.2,636.4 55.7,624.6 56.1,641.7 56.5,625.4 57.0,624.0 57.5,636.2 57.9,646.5 58.4,637.2 58.8,631.8 59.2,620.8 59.7,638.5 60.2,628.0 60.6,638.2 61.0,624.1 61.5,625.9 62.0,625.8 62.4,617.6 62.9,632.0 63.3,613.1 63.8,630.7 64.2,615.4 64.7,632.7 65.1,614.5 65.6,618.2 66.0,618.6 66.5,625.7 66.9,630.8 67.3,607.4 67.8,617.6 68.2,623.9 68.7,613.8 69.2,625.1 69.6,616.2 70.1,632.9 70.5,618.5 71.0,618.0 71.4,616.7 71.8,609.9 72.3,610.8 72.8,602.5 73.2,611.3 73.7,599.5 74.1,604.7 74.6,607.2 75.0,621.8 75.5,627.1 75.9,634.9 76.3,636.9 76.8,640.2 77.2,639.2 77.7,642.4 78.2,647.2 78.6,649.6 79.1,654.2 79.5,641.1 80.0,645.3 80.4,640.1 80.8,656.4 81.3,656.9 81.8,647.8 82.2,655.9 82.7,653.6 83.1,652.1 83.6,659.9 84.0,653.9 84.5,662.7 84.9,662.5 85.3,666.0 85.8,667.3 86.2,673.8 86.7,665.5 87.2,674.0 87.6,670.3 88.1,671.4 88.5,673.7 89.0,677.0 89.4,680.0 89.8,679.2 90.3,682.1 90.8,675.9 91.2,677.9 91.7,681.9 92.1,682.1 92.6,682.7 93.0,677.3 93.5,680.6 93.9,684.8 94.4,682.9 94.8,681.9 95.2,682.8 95.7,685.0 96.2,684.0 96.6,684.0 97.0,683.5 97.5,683.3 98.0,684.6 98.4,684.5 98.9,684.9 99.3,684.3 99.8,682.5 100.2,686.8 100.7,683.6 101.1,686.0 101.5,684.5 102.0,684.5 102.5,684.7 102.9,686.8 103.4,686.4 103.8,685.7 104.2,686.3 104.7,686.1 105.2,685.7 105.6,685.9 106.0,685.9 106.5,686.0 107.0,687.1 107.4,684.6 107.9,687.8 108.3,686.1 108.8,686.3 109.2,687.8 109.7,686.9 110.1,686.1 110.5,686.8 111.0,687.3 111.5,685.0 111.9,686.9 112.4,687.9 112.8,686.1 113.2,687.1 113.7,687.0 114.2,688.1 114.6,687.0 115.0,687.3 115.5,688.5 116.0,686.5 116.4,687.4 116.9,687.3 117.3,687.9 117.8,687.8 118.2,686.9 118.7,687.3 119.1,687.5 119.5,687.0 120.0,687.3 120.5,687.1 120.9,687.8 121.4,688.5 121.8,686.7 122.2,687.1 122.7,687.8 123.2,687.8 123.6,687.0 124.0,687.2 124.5,687.7 125.0,687.8 125.4,687.7 125.9,687.0 126.3,688.1 126.8,688.0 127.2,688.5 127.7,687.4 128.1,687.3 128.6,688.5 129.0,688.0 129.4,688.3 129.9,688.4 130.4,687.9 130.8,687.2 131.2,688.0 131.7,688.5 132.2,687.4 132.6,687.1 133.1,686.5 133.5,686.5 133.9,688.2 134.4,688.1 134.9,688.0 135.3,688.2" fill="none" stroke="#000" stroke-width="0.9" stroke-linejoin="round"/>
<path d="M30,587.9V688.8H135.5" fill="none" stroke="#000" stroke-width="1.35"/>
<line x1="27.0" x2="30" y1="688.80" y2="688.80" stroke="#000" stroke-width="1"/>
<text x="25.60" y="692.80" font-size="10.4" text-anchor="end" >0</text>
<line x1="27.0" x2="30" y1="655.20" y2="655.20" stroke="#000" stroke-width="1"/>
<text x="26.60" y="659.20" font-size="10.4" text-anchor="end" >20</text>
<line x1="27.0" x2="30" y1="621.60" y2="621.60" stroke="#000" stroke-width="1"/>
<text x="26.60" y="625.60" font-size="10.4" text-anchor="end" >40</text>
<line x1="27.0" x2="30" y1="588.00" y2="588.00" stroke="#000" stroke-width="1"/>
<text x="26.60" y="592.00" font-size="10.4" text-anchor="end" >60</text>
<line x1="28.0" x2="30" y1="688.80" y2="688.80" stroke="#000" stroke-width="0.6"/>
<line x1="28.0" x2="30" y1="685.44" y2="685.44" stroke="#000" stroke-width="0.6"/>
<line x1="28.0" x2="30" y1="682.08" y2="682.08" stroke="#000" stroke-width="0.6"/>
<line x1="28.0" x2="30" y1="678.72" y2="678.72" stroke="#000" stroke-width="0.6"/>
<line x1="28.0" x2="30" y1="675.36" y2="675.36" stroke="#000" stroke-width="0.6"/>
<line x1="28.0" x2="30" y1="672.00" y2="672.00" stroke="#000" stroke-width="0.6"/>
<line x1="28.0" x2="30" y1="668.64" y2="668.64" stroke="#000" stroke-width="0.6"/>
<line x1="28.0" x2="30" y1="665.28" y2="665.28" stroke="#000" stroke-width="0.6"/>
<line x1="28.0" x2="30" y1="661.92" y2="661.92" stroke="#000" stroke-width="0.6"/>
<line x1="28.0" x2="30" y1="658.56" y2="658.56" stroke="#000" stroke-width="0.6"/>
<line x1="28.0" x2="30" y1="655.20" y2="655.20" stroke="#000" stroke-width="0.6"/>
<line x1="28.0" x2="30" y1="651.84" y2="651.84" stroke="#000" stroke-width="0.6"/>
<line x1="28.0" x2="30" y1="648.48" y2="648.48" stroke="#000" stroke-width="0.6"/>
<line x1="28.0" x2="30" y1="645.12" y2="645.12" stroke="#000" stroke-width="0.6"/>
<line x1="28.0" x2="30" y1="641.76" y2="641.76" stroke="#000" stroke-width="0.6"/>
<line x1="28.0" x2="30" y1="638.40" y2="638.40" stroke="#000" stroke-width="0.6"/>
<line x1="28.0" x2="30" y1="635.04" y2="635.04" stroke="#000" stroke-width="0.6"/>
<line x1="28.0" x2="30" y1="631.68" y2="631.68" stroke="#000" stroke-width="0.6"/>
<line x1="28.0" x2="30" y1="628.32" y2="628.32" stroke="#000" stroke-width="0.6"/>
<line x1="28.0" x2="30" y1="624.96" y2="624.96" stroke="#000" stroke-width="0.6"/>
<line x1="28.0" x2="30" y1="621.60" y2="621.60" stroke="#000" stroke-width="0.6"/>
<line x1="28.0" x2="30" y1="618.24" y2="618.24" stroke="#000" stroke-width="0.6"/>
<line x1="28.0" x2="30" y1="614.88" y2="614.88" stroke="#000" stroke-width="0.6"/>
<line x1="28.0" x2="30" y1="611.52" y2="611.52" stroke="#000" stroke-width="0.6"/>
<line x1="28.0" x2="30" y1="608.16" y2="608.16" stroke="#000" stroke-width="0.6"/>
<line x1="28.0" x2="30" y1="604.80" y2="604.80" stroke="#000" stroke-width="0.6"/>
<line x1="28.0" x2="30" y1="601.44" y2="601.44" stroke="#000" stroke-width="0.6"/>
<line x1="28.0" x2="30" y1="598.08" y2="598.08" stroke="#000" stroke-width="0.6"/>
<line x1="28.0" x2="30" y1="594.72" y2="594.72" stroke="#000" stroke-width="0.6"/>
<line x1="28.0" x2="30" y1="591.36" y2="591.36" stroke="#000" stroke-width="0.6"/>
<line x1="28.0" x2="30" y1="588.00" y2="588.00" stroke="#000" stroke-width="0.6"/>
<line x1="30.00" x2="30.00" y1="688.8" y2="691.4" stroke="#000" stroke-width="0.9"/>
<text x="31.90" y="701.00" font-size="10.4" text-anchor="middle">10<tspan dy="-4.2" font-size="7.1">0</tspan></text>
<line x1="37.94" x2="37.94" y1="688.8" y2="690.3" stroke="#000" stroke-width="0.45"/>
<line x1="42.58" x2="42.58" y1="688.8" y2="690.3" stroke="#000" stroke-width="0.45"/>
<line x1="45.88" x2="45.88" y1="688.8" y2="690.3" stroke="#000" stroke-width="0.45"/>
<line x1="48.44" x2="48.44" y1="688.8" y2="690.3" stroke="#000" stroke-width="0.45"/>
<line x1="50.52" x2="50.52" y1="688.8" y2="690.3" stroke="#000" stroke-width="0.45"/>
<line x1="52.29" x2="52.29" y1="688.8" y2="690.3" stroke="#000" stroke-width="0.45"/>
<line x1="53.82" x2="53.82" y1="688.8" y2="690.3" stroke="#000" stroke-width="0.45"/>
<line x1="55.17" x2="55.17" y1="688.8" y2="690.3" stroke="#000" stroke-width="0.45"/>
<line x1="56.38" x2="56.38" y1="688.8" y2="691.4" stroke="#000" stroke-width="0.9"/>
<text x="57.48" y="701.00" font-size="10.4" text-anchor="middle">10<tspan dy="-4.2" font-size="7.1">1</tspan></text>
<line x1="64.31" x2="64.31" y1="688.8" y2="690.3" stroke="#000" stroke-width="0.45"/>
<line x1="68.96" x2="68.96" y1="688.8" y2="690.3" stroke="#000" stroke-width="0.45"/>
<line x1="72.25" x2="72.25" y1="688.8" y2="690.3" stroke="#000" stroke-width="0.45"/>
<line x1="74.81" x2="74.81" y1="688.8" y2="690.3" stroke="#000" stroke-width="0.45"/>
<line x1="76.90" x2="76.90" y1="688.8" y2="690.3" stroke="#000" stroke-width="0.45"/>
<line x1="78.66" x2="78.66" y1="688.8" y2="690.3" stroke="#000" stroke-width="0.45"/>
<line x1="80.19" x2="80.19" y1="688.8" y2="690.3" stroke="#000" stroke-width="0.45"/>
<line x1="81.54" x2="81.54" y1="688.8" y2="690.3" stroke="#000" stroke-width="0.45"/>
<line x1="82.75" x2="82.75" y1="688.8" y2="691.4" stroke="#000" stroke-width="0.9"/>
<text x="83.65" y="701.00" font-size="10.4" text-anchor="middle">10<tspan dy="-4.2" font-size="7.1">2</tspan></text>
<line x1="90.69" x2="90.69" y1="688.8" y2="690.3" stroke="#000" stroke-width="0.45"/>
<line x1="95.33" x2="95.33" y1="688.8" y2="690.3" stroke="#000" stroke-width="0.45"/>
<line x1="98.63" x2="98.63" y1="688.8" y2="690.3" stroke="#000" stroke-width="0.45"/>
<line x1="101.19" x2="101.19" y1="688.8" y2="690.3" stroke="#000" stroke-width="0.45"/>
<line x1="103.27" x2="103.27" y1="688.8" y2="690.3" stroke="#000" stroke-width="0.45"/>
<line x1="105.04" x2="105.04" y1="688.8" y2="690.3" stroke="#000" stroke-width="0.45"/>
<line x1="106.57" x2="106.57" y1="688.8" y2="690.3" stroke="#000" stroke-width="0.45"/>
<line x1="107.92" x2="107.92" y1="688.8" y2="690.3" stroke="#000" stroke-width="0.45"/>
<line x1="109.12" x2="109.12" y1="688.8" y2="691.4" stroke="#000" stroke-width="0.9"/>
<text x="109.53" y="701.00" font-size="10.4" text-anchor="middle">10<tspan dy="-4.2" font-size="7.1">3</tspan></text>
<line x1="117.06" x2="117.06" y1="688.8" y2="690.3" stroke="#000" stroke-width="0.45"/>
<line x1="121.71" x2="121.71" y1="688.8" y2="690.3" stroke="#000" stroke-width="0.45"/>
<line x1="125.00" x2="125.00" y1="688.8" y2="690.3" stroke="#000" stroke-width="0.45"/>
<line x1="127.56" x2="127.56" y1="688.8" y2="690.3" stroke="#000" stroke-width="0.45"/>
<line x1="129.65" x2="129.65" y1="688.8" y2="690.3" stroke="#000" stroke-width="0.45"/>
<line x1="131.41" x2="131.41" y1="688.8" y2="690.3" stroke="#000" stroke-width="0.45"/>
<line x1="132.94" x2="132.94" y1="688.8" y2="690.3" stroke="#000" stroke-width="0.45"/>
<line x1="134.29" x2="134.29" y1="688.8" y2="690.3" stroke="#000" stroke-width="0.45"/>
<line x1="135.50" x2="135.50" y1="688.8" y2="691.4" stroke="#000" stroke-width="0.9"/>
<text x="133.60" y="701.00" font-size="10.4" text-anchor="middle">10<tspan dy="-4.2" font-size="7.1">4</tspan></text>
<text x="81.25" y="713.80" font-size="11.5" text-anchor="middle" >FITC</text>
<text transform="translate(8.60,637.50) rotate(-90)" font-size="11.7" text-anchor="middle">Counts</text>
<text x="48.00" y="606.00" font-size="11.5" text-anchor="middle" >NA</text>
<text x="93.00" y="639.50" font-size="11.5" text-anchor="middle" >Act</text>
<text x="84.3" y="601" font-size="11.6" text-anchor="start">ERp57<tspan dy="-2.8" font-size="8.3">fl/fl</tspan></text>
<path d="M158.9,588.4H259.8V688.8" fill="none" stroke="#777" stroke-width="1.1"/>
<polyline points="158.9,596.4 159.3,591.9 159.8,611.6 160.2,613.9 160.7,614.6 161.2,620.0 161.6,624.5 162.1,621.7 162.5,617.0 163.0,623.6 163.4,625.3 163.8,637.2 164.3,617.3 164.8,623.7 165.2,620.6 165.7,629.5 166.1,628.8 166.6,620.4 167.0,627.7 167.5,620.1 167.9,623.7 168.3,631.4 168.8,625.9 169.2,620.1 169.7,620.0 170.2,623.2 170.6,632.8 171.1,641.1 171.5,639.4 172.0,628.9 172.4,632.6 172.8,627.2 173.3,637.7 173.8,630.7 174.2,628.4 174.7,621.9 175.1,626.4 175.6,633.5 176.0,641.4 176.5,627.8 176.9,634.3 177.3,624.6 177.8,625.9 178.2,629.7 178.7,626.4 179.2,632.1 179.6,639.6 180.1,630.5 180.5,620.2 181.0,634.2 181.4,626.9 181.8,629.7 182.3,624.8 182.8,623.8 183.2,616.9 183.7,618.9 184.1,621.7 184.6,613.0 185.0,609.6 185.5,594.6 185.9,613.2 186.3,618.2 186.8,612.1 187.2,612.4 187.7,614.1 188.2,606.7 188.6,604.3 189.1,612.2 189.5,615.9 190.0,608.5 190.4,608.4 190.8,607.7 191.3,604.4 191.8,612.8 192.2,624.1 192.7,627.3 193.1,612.9 193.6,620.6 194.0,600.9 194.5,628.5 194.9,627.3 195.4,621.3 195.8,625.1 196.2,624.6 196.7,633.7 197.2,633.7 197.6,634.6 198.1,633.7 198.5,630.5 199.0,640.2 199.4,640.8 199.9,639.7 200.3,653.1 200.8,658.8 201.2,653.2 201.7,657.0 202.1,656.3 202.6,662.7 203.0,660.4 203.5,660.1 203.9,656.4 204.4,663.6 204.8,665.1 205.2,666.2 205.7,664.5 206.2,665.5 206.6,673.3 207.1,673.9 207.5,675.3 208.0,677.9 208.4,672.2 208.9,679.8 209.3,674.0 209.8,679.3 210.2,678.7 210.7,681.0 211.1,680.9 211.6,679.3 212.0,683.0 212.5,678.5 212.9,684.0 213.4,683.7 213.8,682.7 214.2,683.8 214.7,684.3 215.2,681.5 215.6,680.5 216.1,684.6 216.5,682.2 217.0,680.6 217.4,684.9 217.9,684.7 218.3,681.8 218.8,686.3 219.2,684.3 219.7,686.2 220.1,686.4 220.6,685.7 221.0,685.5 221.5,687.2 221.9,685.3 222.4,686.4 222.8,685.3 223.2,685.8 223.7,686.1 224.2,685.8 224.6,685.9 225.1,687.1 225.5,687.8 225.9,685.8 226.4,685.9 226.9,685.8 227.3,686.6 227.8,685.3 228.2,686.1 228.7,686.2 229.1,687.3 229.6,687.2 230.0,686.8 230.4,687.7 230.9,685.7 231.4,687.1 231.8,686.1 232.2,685.5 232.7,687.4 233.2,688.4 233.6,687.1 234.1,687.8 234.5,686.2 234.9,685.6 235.4,686.3 235.9,687.4 236.3,688.1 236.8,687.1 237.2,686.6 237.7,686.6 238.1,685.7 238.6,686.6 239.0,686.4 239.4,686.5 239.9,687.3 240.4,688.4 240.8,688.5 241.2,686.3 241.7,687.8 242.2,688.5 242.6,686.0 243.1,688.0 243.5,686.8 243.9,687.2 244.4,687.6 244.9,687.7 245.3,686.4 245.8,687.6 246.2,687.7 246.7,687.5 247.1,687.5 247.6,688.5 248.0,688.3 248.4,688.2 248.9,687.7 249.4,688.5 249.8,688.1 250.2,686.5 250.7,687.4 251.2,686.8 251.6,687.0 252.1,687.4 252.5,688.4 252.9,687.8 253.4,688.3 253.9,687.7 254.3,688.1 254.8,688.0 255.2,687.2 255.7,687.3 256.1,687.1 256.6,687.2 257.0,688.3 257.4,687.3 257.9,688.2 258.4,688.4 258.8,687.7 259.2,687.7 259.7,687.9" fill="none" stroke="#8a8a8a" stroke-width="0.9" stroke-linejoin="round"/>
<polyline points="158.9,591.9 159.3,601.2 159.8,616.8 160.2,616.5 160.7,632.0 161.2,628.4 161.6,625.5 162.1,612.9 162.5,617.6 163.0,627.8 163.4,622.5 163.8,621.7 164.3,625.9 164.8,620.0 165.2,628.6 165.7,618.5 166.1,618.2 166.6,630.1 167.0,625.4 167.5,624.3 167.9,624.7 168.3,630.0 168.8,618.8 169.2,625.7 169.7,624.3 170.2,630.6 170.6,627.0 171.1,630.5 171.5,625.3 172.0,628.8 172.4,627.1 172.8,631.5 173.3,628.7 173.8,633.1 174.2,621.8 174.7,629.4 175.1,633.3 175.6,621.8 176.0,621.0 176.5,621.0 176.9,624.8 177.3,638.2 177.8,620.8 178.2,617.2 178.7,618.0 179.2,629.2 179.6,624.5 180.1,622.1 180.5,622.3 181.0,618.9 181.4,622.0 181.8,629.5 182.3,629.4 182.8,625.6 183.2,626.9 183.7,625.8 184.1,623.4 184.6,614.1 185.0,593.6 185.5,594.9 185.9,600.2 186.3,607.2 186.8,622.7 187.2,616.1 187.7,608.5 188.2,614.6 188.6,620.7 189.1,603.9 189.5,600.0 190.0,629.9 190.4,620.9 190.8,610.7 191.3,609.4 191.8,618.6 192.2,620.9 192.7,626.5 193.1,622.3 193.6,623.8 194.0,624.0 194.5,621.3 194.9,628.6 195.4,626.0 195.8,623.0 196.2,625.5 196.7,632.5 197.2,626.2 197.6,639.3 198.1,634.1 198.5,637.2 199.0,641.5 199.4,633.3 199.9,646.3 200.3,657.7 200.8,643.3 201.2,650.3 201.7,657.1 202.1,650.1 202.6,650.9 203.0,659.1 203.5,666.6 203.9,662.4 204.4,664.3 204.8,663.2 205.2,671.8 205.7,668.3 206.2,671.1 206.6,672.6 207.1,677.5 207.5,669.9 208.0,674.5 208.4,679.5 208.9,675.4 209.3,677.9 209.8,674.0 210.2,681.3 210.7,678.0 211.1,682.5 211.6,682.3 212.0,682.7 212.5,680.2 212.9,681.9 213.4,684.2 213.8,681.5 214.2,684.4 214.7,679.0 215.2,683.2 215.6,680.8 216.1,682.4 216.5,679.4 217.0,682.8 217.4,684.8 217.9,683.6 218.3,685.2 218.8,684.6 219.2,684.4 219.7,685.1 220.1,684.3 220.6,685.1 221.0,686.3 221.5,686.1 221.9,686.5 222.4,686.3 222.8,685.2 223.2,685.9 223.7,687.2 224.2,685.1 224.6,685.9 225.1,686.5 225.5,685.4 225.9,686.3 226.4,685.9 226.9,687.1 227.3,686.1 227.8,686.9 228.2,685.9 228.7,687.3 229.1,685.0 229.6,687.5 230.0,685.9 230.4,687.0 230.9,686.9 231.4,688.5 231.8,687.9 232.2,687.2 232.7,686.7 233.2,687.0 233.6,684.8 234.1,686.5 234.5,686.5 234.9,687.1 235.4,687.2 235.9,684.6 236.3,688.2 236.8,686.2 237.2,686.8 237.7,687.1 238.1,684.3 238.6,685.7 239.0,687.4 239.4,686.3 239.9,688.1 240.4,688.5 240.8,687.0 241.2,686.3 241.7,686.0 242.2,688.3 242.6,687.4 243.1,687.2 243.5,687.8 243.9,688.1 244.4,687.1 244.9,687.6 245.3,688.2 245.8,688.5 246.2,688.0 246.7,687.5 247.1,688.0 247.6,687.3 248.0,687.6 248.4,687.7 248.9,687.3 249.4,686.8 249.8,688.2 250.2,687.3 250.7,686.6 251.2,687.6 251.6,687.5 252.1,687.9 252.5,687.8 252.9,688.4 253.4,687.4 253.9,686.3 254.3,687.2 254.8,687.6 255.2,687.1 255.7,687.6 256.1,688.3 256.6,687.7 257.0,687.9 257.4,687.5 257.9,687.3 258.4,687.3 258.8,688.5 259.2,688.0 259.7,687.9" fill="none" stroke="#000" stroke-width="0.8" stroke-linejoin="round"/>
<path d="M158.9,587.9V688.8H259.8" fill="none" stroke="#000" stroke-width="1.35"/>
<line x1="155.9" x2="158.9" y1="688.80" y2="688.80" stroke="#000" stroke-width="1"/>
<text x="154.50" y="692.80" font-size="10.4" text-anchor="end" >0</text>
<line x1="155.9" x2="158.9" y1="655.20" y2="655.20" stroke="#000" stroke-width="1"/>
<text x="155.50" y="659.20" font-size="10.4" text-anchor="end" >20</text>
<line x1="155.9" x2="158.9" y1="621.60" y2="621.60" stroke="#000" stroke-width="1"/>
<text x="155.50" y="625.60" font-size="10.4" text-anchor="end" >40</text>
<line x1="155.9" x2="158.9" y1="588.00" y2="588.00" stroke="#000" stroke-width="1"/>
<text x="155.50" y="592.00" font-size="10.4" text-anchor="end" >60</text>
<line x1="156.9" x2="158.9" y1="688.80" y2="688.80" stroke="#000" stroke-width="0.6"/>
<line x1="156.9" x2="158.9" y1="685.44" y2="685.44" stroke="#000" stroke-width="0.6"/>
<line x1="156.9" x2="158.9" y1="682.08" y2="682.08" stroke="#000" stroke-width="0.6"/>
<line x1="156.9" x2="158.9" y1="678.72" y2="678.72" stroke="#000" stroke-width="0.6"/>
<line x1="156.9" x2="158.9" y1="675.36" y2="675.36" stroke="#000" stroke-width="0.6"/>
<line x1="156.9" x2="158.9" y1="672.00" y2="672.00" stroke="#000" stroke-width="0.6"/>
<line x1="156.9" x2="158.9" y1="668.64" y2="668.64" stroke="#000" stroke-width="0.6"/>
<line x1="156.9" x2="158.9" y1="665.28" y2="665.28" stroke="#000" stroke-width="0.6"/>
<line x1="156.9" x2="158.9" y1="661.92" y2="661.92" stroke="#000" stroke-width="0.6"/>
<line x1="156.9" x2="158.9" y1="658.56" y2="658.56" stroke="#000" stroke-width="0.6"/>
<line x1="156.9" x2="158.9" y1="655.20" y2="655.20" stroke="#000" stroke-width="0.6"/>
<line x1="156.9" x2="158.9" y1="651.84" y2="651.84" stroke="#000" stroke-width="0.6"/>
<line x1="156.9" x2="158.9" y1="648.48" y2="648.48" stroke="#000" stroke-width="0.6"/>
<line x1="156.9" x2="158.9" y1="645.12" y2="645.12" stroke="#000" stroke-width="0.6"/>
<line x1="156.9" x2="158.9" y1="641.76" y2="641.76" stroke="#000" stroke-width="0.6"/>
<line x1="156.9" x2="158.9" y1="638.40" y2="638.40" stroke="#000" stroke-width="0.6"/>
<line x1="156.9" x2="158.9" y1="635.04" y2="635.04" stroke="#000" stroke-width="0.6"/>
<line x1="156.9" x2="158.9" y1="631.68" y2="631.68" stroke="#000" stroke-width="0.6"/>
<line x1="156.9" x2="158.9" y1="628.32" y2="628.32" stroke="#000" stroke-width="0.6"/>
<line x1="156.9" x2="158.9" y1="624.96" y2="624.96" stroke="#000" stroke-width="0.6"/>
<line x1="156.9" x2="158.9" y1="621.60" y2="621.60" stroke="#000" stroke-width="0.6"/>
<line x1="156.9" x2="158.9" y1="618.24" y2="618.24" stroke="#000" stroke-width="0.6"/>
<line x1="156.9" x2="158.9" y1="614.88" y2="614.88" stroke="#000" stroke-width="0.6"/>
<line x1="156.9" x2="158.9" y1="611.52" y2="611.52" stroke="#000" stroke-width="0.6"/>
<line x1="156.9" x2="158.9" y1="608.16" y2="608.16" stroke="#000" stroke-width="0.6"/>
<line x1="156.9" x2="158.9" y1="604.80" y2="604.80" stroke="#000" stroke-width="0.6"/>
<line x1="156.9" x2="158.9" y1="601.44" y2="601.44" stroke="#000" stroke-width="0.6"/>
<line x1="156.9" x2="158.9" y1="598.08" y2="598.08" stroke="#000" stroke-width="0.6"/>
<line x1="156.9" x2="158.9" y1="594.72" y2="594.72" stroke="#000" stroke-width="0.6"/>
<line x1="156.9" x2="158.9" y1="591.36" y2="591.36" stroke="#000" stroke-width="0.6"/>
<line x1="156.9" x2="158.9" y1="588.00" y2="588.00" stroke="#000" stroke-width="0.6"/>
<line x1="158.90" x2="158.90" y1="688.8" y2="691.4" stroke="#000" stroke-width="0.9"/>
<text x="160.40" y="701.00" font-size="10.4" text-anchor="middle">10<tspan dy="-4.2" font-size="7.1">0</tspan></text>
<line x1="166.49" x2="166.49" y1="688.8" y2="690.3" stroke="#000" stroke-width="0.45"/>
<line x1="170.94" x2="170.94" y1="688.8" y2="690.3" stroke="#000" stroke-width="0.45"/>
<line x1="174.09" x2="174.09" y1="688.8" y2="690.3" stroke="#000" stroke-width="0.45"/>
<line x1="176.53" x2="176.53" y1="688.8" y2="690.3" stroke="#000" stroke-width="0.45"/>
<line x1="178.53" x2="178.53" y1="688.8" y2="690.3" stroke="#000" stroke-width="0.45"/>
<line x1="180.22" x2="180.22" y1="688.8" y2="690.3" stroke="#000" stroke-width="0.45"/>
<line x1="181.68" x2="181.68" y1="688.8" y2="690.3" stroke="#000" stroke-width="0.45"/>
<line x1="182.97" x2="182.97" y1="688.8" y2="690.3" stroke="#000" stroke-width="0.45"/>
<line x1="184.12" x2="184.12" y1="688.8" y2="691.4" stroke="#000" stroke-width="0.9"/>
<text x="184.82" y="701.00" font-size="10.4" text-anchor="middle">10<tspan dy="-4.2" font-size="7.1">1</tspan></text>
<line x1="191.72" x2="191.72" y1="688.8" y2="690.3" stroke="#000" stroke-width="0.45"/>
<line x1="196.16" x2="196.16" y1="688.8" y2="690.3" stroke="#000" stroke-width="0.45"/>
<line x1="199.31" x2="199.31" y1="688.8" y2="690.3" stroke="#000" stroke-width="0.45"/>
<line x1="201.76" x2="201.76" y1="688.8" y2="690.3" stroke="#000" stroke-width="0.45"/>
<line x1="203.75" x2="203.75" y1="688.8" y2="690.3" stroke="#000" stroke-width="0.45"/>
<line x1="205.44" x2="205.44" y1="688.8" y2="690.3" stroke="#000" stroke-width="0.45"/>
<line x1="206.91" x2="206.91" y1="688.8" y2="690.3" stroke="#000" stroke-width="0.45"/>
<line x1="208.20" x2="208.20" y1="688.8" y2="690.3" stroke="#000" stroke-width="0.45"/>
<line x1="209.35" x2="209.35" y1="688.8" y2="691.4" stroke="#000" stroke-width="0.9"/>
<text x="209.45" y="701.00" font-size="10.4" text-anchor="middle">10<tspan dy="-4.2" font-size="7.1">2</tspan></text>
<line x1="216.94" x2="216.94" y1="688.8" y2="690.3" stroke="#000" stroke-width="0.45"/>
<line x1="221.39" x2="221.39" y1="688.8" y2="690.3" stroke="#000" stroke-width="0.45"/>
<line x1="224.54" x2="224.54" y1="688.8" y2="690.3" stroke="#000" stroke-width="0.45"/>
<line x1="226.98" x2="226.98" y1="688.8" y2="690.3" stroke="#000" stroke-width="0.45"/>
<line x1="228.98" x2="228.98" y1="688.8" y2="690.3" stroke="#000" stroke-width="0.45"/>
<line x1="230.67" x2="230.67" y1="688.8" y2="690.3" stroke="#000" stroke-width="0.45"/>
<line x1="232.13" x2="232.13" y1="688.8" y2="690.3" stroke="#000" stroke-width="0.45"/>
<line x1="233.42" x2="233.42" y1="688.8" y2="690.3" stroke="#000" stroke-width="0.45"/>
<line x1="234.58" x2="234.58" y1="688.8" y2="691.4" stroke="#000" stroke-width="0.9"/>
<text x="234.48" y="701.00" font-size="10.4" text-anchor="middle">10<tspan dy="-4.2" font-size="7.1">3</tspan></text>
<line x1="242.17" x2="242.17" y1="688.8" y2="690.3" stroke="#000" stroke-width="0.45"/>
<line x1="246.61" x2="246.61" y1="688.8" y2="690.3" stroke="#000" stroke-width="0.45"/>
<line x1="249.76" x2="249.76" y1="688.8" y2="690.3" stroke="#000" stroke-width="0.45"/>
<line x1="252.21" x2="252.21" y1="688.8" y2="690.3" stroke="#000" stroke-width="0.45"/>
<line x1="254.20" x2="254.20" y1="688.8" y2="690.3" stroke="#000" stroke-width="0.45"/>
<line x1="255.89" x2="255.89" y1="688.8" y2="690.3" stroke="#000" stroke-width="0.45"/>
<line x1="257.36" x2="257.36" y1="688.8" y2="690.3" stroke="#000" stroke-width="0.45"/>
<line x1="258.65" x2="258.65" y1="688.8" y2="690.3" stroke="#000" stroke-width="0.45"/>
<line x1="259.80" x2="259.80" y1="688.8" y2="691.4" stroke="#000" stroke-width="0.9"/>
<text x="257.50" y="701.00" font-size="10.4" text-anchor="middle">10<tspan dy="-4.2" font-size="7.1">4</tspan></text>
<text x="208.05" y="713.80" font-size="11.5" text-anchor="middle" >FITC</text>
<text x="206.30" y="600.30" font-size="11.5" text-anchor="start" >Pf4-Cre/</text>
<text x="206.3" y="613.3" font-size="11.6" text-anchor="start">ERp57<tspan dy="-2.8" font-size="8.3">fl/fl</tspan></text>
<text x="206.30" y="639.30" font-size="11.5" text-anchor="start" >NA</text>
<text x="206.30" y="657.50" font-size="11.5" text-anchor="start" >Act</text>
<text x="274.80" y="555.00" font-size="14" text-anchor="start" >G</text>
<text x="354.00" y="556.50" font-size="11.8" text-anchor="middle" >Convulxin</text>
<line x1="320.85" x2="320.85" y1="643.71" y2="632.12" stroke="#000" stroke-width="1.5"/>
<line x1="316.35" x2="325.35" y1="632.12" y2="632.12" stroke="#000" stroke-width="1.4"/>
<rect x="313.70" y="643.71" width="14.30" height="61.99" fill="#fff" stroke="#000" stroke-width="1.7"/>
<line x1="341.75" x2="341.75" y1="613.22" y2="596.33" stroke="#000" stroke-width="1.5"/>
<line x1="337.25" x2="346.25" y1="596.33" y2="596.33" stroke="#000" stroke-width="1.4"/>
<rect x="334.50" y="613.22" width="14.50" height="92.48" fill="#fff" stroke="#000" stroke-width="1.7"/>
<line x1="363.35" x2="363.35" y1="654.29" y2="646.73" stroke="#000" stroke-width="1.5"/>
<line x1="358.85" x2="367.85" y1="646.73" y2="646.73" stroke="#000" stroke-width="1.4"/>
<rect x="356.20" y="654.29" width="14.30" height="51.41" fill="#fff" stroke="#000" stroke-width="1.7"/>
<line x1="384.25" x2="384.25" y1="648.24" y2="635.14" stroke="#000" stroke-width="1.5"/>
<line x1="379.75" x2="388.75" y1="635.14" y2="635.14" stroke="#000" stroke-width="1.4"/>
<rect x="377.00" y="648.24" width="14.50" height="57.46" fill="#fff" stroke="#000" stroke-width="1.7"/>
<path d="M309.5,554.0V705.7H393" fill="none" stroke="#000" stroke-width="1.9"/>
<line x1="306.0" x2="309.5" y1="705.70" y2="705.70" stroke="#000" stroke-width="1.2"/>
<text x="305.50" y="709.80" font-size="11.5" text-anchor="end" textLength="5.5" lengthAdjust="spacingAndGlyphs">0</text>
<line x1="306.0" x2="309.5" y1="655.30" y2="655.30" stroke="#000" stroke-width="1.2"/>
<text x="305.50" y="659.40" font-size="11.5" text-anchor="end" textLength="11.0" lengthAdjust="spacingAndGlyphs">10</text>
<line x1="306.0" x2="309.5" y1="604.90" y2="604.90" stroke="#000" stroke-width="1.2"/>
<text x="305.50" y="609.00" font-size="11.5" text-anchor="end" textLength="11.0" lengthAdjust="spacingAndGlyphs">20</text>
<line x1="306.0" x2="309.5" y1="554.50" y2="554.50" stroke="#000" stroke-width="1.2"/>
<text x="305.50" y="558.60" font-size="11.5" text-anchor="end" textLength="11.0" lengthAdjust="spacingAndGlyphs">30</text>
<text transform="translate(292.50,631.50) rotate(-90)" font-size="11" text-anchor="middle">MFI</text>
<path d="M313.50,594.00 C313.50,591.25 315.86,589.00 318.75,589.00 H343.75 C346.64,589.00 349.00,591.25 349.00,594.00" fill="none" stroke="#000" stroke-width="1.5" stroke-linecap="round"/>
<text x="331.20" y="585.50" font-size="10.2" text-anchor="middle" >P=0.027</text>
<path d="M355.30,630.00 C355.30,627.25 357.66,625.00 360.55,625.00 H387.45 C390.34,625.00 392.70,627.25 392.70,630.00" fill="none" stroke="#000" stroke-width="1.5" stroke-linecap="round"/>
<text x="370.30" y="621.20" font-size="10.2" text-anchor="middle" >NS</text>
<path d="M313.50,708.50 C313.50,713.00 315.50,713.00 318.50,713.00 H326.25 C329.25,713.00 330.25,714.00 330.25,716.50 C330.25,714.00 331.25,713.00 334.25,713.00 H342.00 C345.00,713.00 347.00,713.00 347.00,708.50" fill="none" stroke="#000" stroke-width="1.3"/>
<path d="M357.50,708.50 C357.50,713.00 359.50,713.00 362.50,713.00 H370.75 C373.75,713.00 374.75,714.00 374.75,716.50 C374.75,714.00 375.75,713.00 378.75,713.00 H387.00 C390.00,713.00 392.00,713.00 392.00,708.50" fill="none" stroke="#000" stroke-width="1.3"/>
<text x="467.70" y="556.30" font-size="11.8" text-anchor="middle" >Thrombin</text>
<line x1="435.25" x2="435.25" y1="649.50" y2="638.16" stroke="#000" stroke-width="1.5"/>
<line x1="430.75" x2="439.75" y1="638.16" y2="638.16" stroke="#000" stroke-width="1.4"/>
<rect x="428.00" y="649.50" width="14.50" height="56.70" fill="#fff" stroke="#000" stroke-width="1.7"/>
<line x1="456.75" x2="456.75" y1="604.90" y2="585.24" stroke="#000" stroke-width="1.5"/>
<line x1="452.25" x2="461.25" y1="585.24" y2="585.24" stroke="#000" stroke-width="1.4"/>
<rect x="449.50" y="604.90" width="14.50" height="101.30" fill="#fff" stroke="#000" stroke-width="1.7"/>
<line x1="478.00" x2="478.00" y1="649.50" y2="638.16" stroke="#000" stroke-width="1.5"/>
<line x1="473.50" x2="482.50" y1="638.16" y2="638.16" stroke="#000" stroke-width="1.4"/>
<rect x="470.50" y="649.50" width="15.00" height="56.70" fill="#fff" stroke="#000" stroke-width="1.7"/>
<line x1="499.75" x2="499.75" y1="640.81" y2="625.69" stroke="#000" stroke-width="1.5"/>
<line x1="495.25" x2="504.25" y1="625.69" y2="625.69" stroke="#000" stroke-width="1.4"/>
<rect x="492.50" y="640.81" width="14.50" height="65.39" fill="#fff" stroke="#000" stroke-width="1.7"/>
<path d="M423.7,554.5V706.2H510.5" fill="none" stroke="#000" stroke-width="1.9"/>
<line x1="420.2" x2="423.7" y1="706.20" y2="706.20" stroke="#000" stroke-width="1.2"/>
<text x="419.70" y="710.30" font-size="11.5" text-anchor="end" textLength="5.5" lengthAdjust="spacingAndGlyphs">0</text>
<line x1="420.2" x2="423.7" y1="668.40" y2="668.40" stroke="#000" stroke-width="1.2"/>
<text x="419.70" y="672.50" font-size="11.5" text-anchor="end" textLength="11.0" lengthAdjust="spacingAndGlyphs">10</text>
<line x1="420.2" x2="423.7" y1="630.60" y2="630.60" stroke="#000" stroke-width="1.2"/>
<text x="419.70" y="634.70" font-size="11.5" text-anchor="end" textLength="11.0" lengthAdjust="spacingAndGlyphs">20</text>
<line x1="420.2" x2="423.7" y1="592.80" y2="592.80" stroke="#000" stroke-width="1.2"/>
<text x="419.70" y="596.90" font-size="11.5" text-anchor="end" textLength="11.0" lengthAdjust="spacingAndGlyphs">30</text>
<line x1="420.2" x2="423.7" y1="555.00" y2="555.00" stroke="#000" stroke-width="1.2"/>
<text x="419.70" y="559.10" font-size="11.5" text-anchor="end" textLength="11.0" lengthAdjust="spacingAndGlyphs">40</text>
<path d="M428.30,585.30 C428.30,582.38 430.80,580.00 433.86,580.00 H460.74 C463.80,580.00 466.30,582.38 466.30,585.30" fill="none" stroke="#000" stroke-width="1.5" stroke-linecap="round"/>
<text x="447.00" y="575.70" font-size="10.4" text-anchor="middle" >P=0.033</text>
<path d="M469.70,622.50 C469.70,619.59 472.20,617.20 475.26,617.20 H500.14 C503.20,617.20 505.70,619.59 505.70,622.50" fill="none" stroke="#000" stroke-width="1.5" stroke-linecap="round"/>
<text x="484.50" y="613.70" font-size="10.2" text-anchor="middle" >NS</text>
<path d="M428.50,708.50 C428.50,713.00 430.50,713.00 433.50,713.00 H441.00 C444.00,713.00 445.00,714.00 445.00,716.50 C445.00,714.00 446.00,713.00 449.00,713.00 H456.50 C459.50,713.00 461.50,713.00 461.50,708.50" fill="none" stroke="#000" stroke-width="1.3"/>
<path d="M471.50,708.50 C471.50,713.00 473.50,713.00 476.50,713.00 H484.50 C487.50,713.00 488.50,714.00 488.50,716.50 C488.50,714.00 489.50,713.00 492.50,713.00 H500.50 C503.50,713.00 505.50,713.00 505.50,708.50" fill="none" stroke="#000" stroke-width="1.3"/>
<text transform="translate(299.3,746.0) rotate(-28)" font-size="11.8" text-anchor="start">ERp57<tspan dy="-2.8" font-size="8.5">fl/fl</tspan></text>
<text transform="translate(340.0,748.0) rotate(-28)" font-size="11.8" text-anchor="start">Pf4-Cre/</text>
<text transform="translate(347.0,761.0) rotate(-28)" font-size="11.8" text-anchor="start">ERp57<tspan dy="-2.8" font-size="8.5">fl/fl</tspan></text>
<text transform="translate(415.3,746.0) rotate(-28)" font-size="11.8" text-anchor="start">ERp57<tspan dy="-2.8" font-size="8.5">fl/fl</tspan></text>
<text transform="translate(455.0,748.0) rotate(-28)" font-size="11.8" text-anchor="start">Pf4-Cre/</text>
<text transform="translate(462.0,761.0) rotate(-28)" font-size="11.8" text-anchor="start">ERp57<tspan dy="-2.8" font-size="8.5">fl/fl</tspan></text>
</svg>
</body></html>
